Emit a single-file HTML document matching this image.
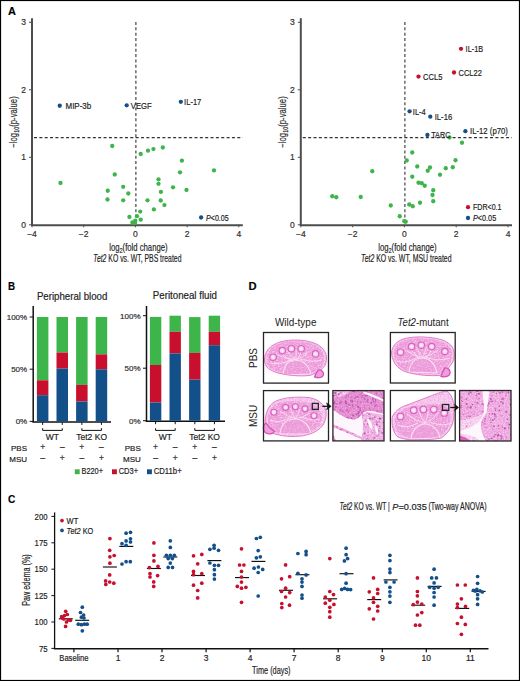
<!DOCTYPE html>
<html><head><meta charset="utf-8"><style>
html,body{margin:0;padding:0;background:#fff;}
body{width:520px;height:681px;overflow:hidden;}
svg{display:block;font-family:"Liberation Sans",sans-serif;}
text{stroke:#222;stroke-width:0.18px;}
</style></head><body>
<svg width="520" height="681" viewBox="0 0 520 681">
<rect width="520" height="681" fill="#fff"/>
<rect x="0.55" y="0.55" width="518.9" height="679.9" fill="none" stroke="#000" stroke-width="1.1"/>
<text x="8.00" y="14.90" font-size="11" text-anchor="start" font-weight="bold" font-style="normal" fill="#000" textLength="7.9" lengthAdjust="spacingAndGlyphs" >A</text>
<text x="8.10" y="289.60" font-size="11.5" text-anchor="start" font-weight="bold" font-style="normal" fill="#000" textLength="7.1" lengthAdjust="spacingAndGlyphs" >B</text>
<text x="248.60" y="290.20" font-size="11" text-anchor="start" font-weight="bold" font-style="normal" fill="#000" textLength="8.1" lengthAdjust="spacingAndGlyphs" >D</text>
<text x="8.10" y="502.60" font-size="11.5" text-anchor="start" font-weight="bold" font-style="normal" fill="#000" textLength="7.3" lengthAdjust="spacingAndGlyphs" >C</text>
<line x1="32.00" y1="18.20" x2="32.00" y2="225.60" stroke="#4d4d4d" stroke-width="2" />
<line x1="31.00" y1="225.15" x2="242.80" y2="225.15" stroke="#4d4d4d" stroke-width="2" />
<line x1="29.00" y1="224.80" x2="32.00" y2="224.80" stroke="#4d4d4d" stroke-width="1" />
<text x="26.00" y="227.86" font-size="8.5" text-anchor="end" font-weight="normal" font-style="normal" fill="#333" >0</text>
<line x1="29.00" y1="157.30" x2="32.00" y2="157.30" stroke="#4d4d4d" stroke-width="1" />
<text x="26.00" y="160.36" font-size="8.5" text-anchor="end" font-weight="normal" font-style="normal" fill="#333" >1</text>
<line x1="29.00" y1="89.80" x2="32.00" y2="89.80" stroke="#4d4d4d" stroke-width="1" />
<text x="26.00" y="92.86" font-size="8.5" text-anchor="end" font-weight="normal" font-style="normal" fill="#333" >2</text>
<line x1="29.00" y1="22.30" x2="32.00" y2="22.30" stroke="#4d4d4d" stroke-width="1" />
<text x="26.00" y="25.36" font-size="8.5" text-anchor="end" font-weight="normal" font-style="normal" fill="#333" >3</text>
<line x1="32.00" y1="224.80" x2="32.00" y2="227.30" stroke="#4d4d4d" stroke-width="1" />
<text x="32.00" y="237.46" font-size="8.5" text-anchor="middle" font-weight="normal" font-style="normal" fill="#333" >−4</text>
<line x1="83.70" y1="224.80" x2="83.70" y2="227.30" stroke="#4d4d4d" stroke-width="1" />
<text x="83.70" y="237.46" font-size="8.5" text-anchor="middle" font-weight="normal" font-style="normal" fill="#333" >−2</text>
<line x1="135.40" y1="224.80" x2="135.40" y2="227.30" stroke="#4d4d4d" stroke-width="1" />
<text x="135.40" y="237.46" font-size="8.5" text-anchor="middle" font-weight="normal" font-style="normal" fill="#333" >0</text>
<line x1="187.10" y1="224.80" x2="187.10" y2="227.30" stroke="#4d4d4d" stroke-width="1" />
<text x="187.10" y="237.46" font-size="8.5" text-anchor="middle" font-weight="normal" font-style="normal" fill="#333" >2</text>
<line x1="238.80" y1="224.80" x2="238.80" y2="227.30" stroke="#4d4d4d" stroke-width="1" />
<text x="238.80" y="237.46" font-size="8.5" text-anchor="middle" font-weight="normal" font-style="normal" fill="#333" >4</text>
<line x1="135.90" y1="22.00" x2="135.90" y2="224.80" stroke="#333" stroke-width="1.1" stroke-dasharray="3,2.35"/>
<line x1="34.00" y1="137.58" x2="242.80" y2="137.58" stroke="#333" stroke-width="1.1" stroke-dasharray="3,2.35"/>
<circle cx="140.70" cy="154.00" r="2.15" fill="#3db54a"/>
<circle cx="148.00" cy="150.70" r="2.15" fill="#3db54a"/>
<circle cx="153.40" cy="149.10" r="2.15" fill="#3db54a"/>
<circle cx="162.80" cy="147.50" r="2.15" fill="#3db54a"/>
<circle cx="181.90" cy="160.70" r="2.15" fill="#3db54a"/>
<circle cx="180.00" cy="172.30" r="2.15" fill="#3db54a"/>
<circle cx="214.00" cy="170.40" r="2.15" fill="#3db54a"/>
<circle cx="158.50" cy="179.30" r="2.15" fill="#3db54a"/>
<circle cx="158.50" cy="183.80" r="2.15" fill="#3db54a"/>
<circle cx="173.00" cy="187.30" r="2.15" fill="#3db54a"/>
<circle cx="186.50" cy="190.00" r="2.15" fill="#3db54a"/>
<circle cx="123.20" cy="186.80" r="2.15" fill="#3db54a"/>
<circle cx="128.30" cy="193.50" r="2.15" fill="#3db54a"/>
<circle cx="123.20" cy="200.30" r="2.15" fill="#3db54a"/>
<circle cx="160.90" cy="191.90" r="2.15" fill="#3db54a"/>
<circle cx="147.50" cy="200.30" r="2.15" fill="#3db54a"/>
<circle cx="160.70" cy="200.50" r="2.15" fill="#3db54a"/>
<circle cx="164.40" cy="205.10" r="2.15" fill="#3db54a"/>
<circle cx="153.90" cy="209.40" r="2.15" fill="#3db54a"/>
<circle cx="140.20" cy="211.60" r="2.15" fill="#3db54a"/>
<circle cx="137.00" cy="216.20" r="2.15" fill="#3db54a"/>
<circle cx="129.40" cy="217.00" r="2.15" fill="#3db54a"/>
<circle cx="140.70" cy="219.70" r="2.15" fill="#3db54a"/>
<circle cx="132.40" cy="222.40" r="2.15" fill="#3db54a"/>
<circle cx="135.30" cy="220.70" r="2.15" fill="#3db54a"/>
<circle cx="134.80" cy="223.20" r="2.15" fill="#3db54a"/>
<circle cx="112.25" cy="146.00" r="2.15" fill="#3db54a"/>
<circle cx="114.75" cy="174.50" r="2.15" fill="#3db54a"/>
<circle cx="60.50" cy="183.00" r="2.15" fill="#3db54a"/>
<circle cx="107.75" cy="190.75" r="2.15" fill="#3db54a"/>
<circle cx="107.50" cy="199.50" r="2.15" fill="#3db54a"/>
<circle cx="59.75" cy="105.75" r="2.15" fill="#13508a"/>
<text x="65.50" y="108.99" font-size="9" text-anchor="start" font-weight="normal" font-style="normal" fill="#222" textLength="25.75" lengthAdjust="spacingAndGlyphs" >MIP-3b</text>
<circle cx="126.70" cy="105.30" r="2.15" fill="#13508a"/>
<text x="130.80" y="108.54" font-size="9" text-anchor="start" font-weight="normal" font-style="normal" fill="#222" textLength="21" lengthAdjust="spacingAndGlyphs" >VEGF</text>
<circle cx="180.80" cy="101.80" r="2.15" fill="#13508a"/>
<text x="184.10" y="105.04" font-size="9" text-anchor="start" font-weight="normal" font-style="normal" fill="#222" textLength="17.2" lengthAdjust="spacingAndGlyphs" >IL-17</text>
<text transform="translate(13.399999999999999,122) rotate(-90) scale(0.7765,1)" x="0" y="3.6" font-size="10" text-anchor="middle" fill="#333">−log<tspan font-size="7" dy="2">10</tspan><tspan dy="-2">(p-value)</tspan></text>
<text x="138.4" y="250.6" font-size="10.5" text-anchor="middle" fill="#222" textLength="58.4" lengthAdjust="spacingAndGlyphs">log<tspan font-size="7.5" dy="2">2</tspan><tspan dy="-2">(fold change)</tspan></text>
<text x="137.4" y="261.8" font-size="10.5" text-anchor="middle" fill="#222" textLength="88.1" lengthAdjust="spacingAndGlyphs"><tspan font-style="italic">Tet2</tspan> KO vs. WT, PBS treated</text>
<circle cx="201.10" cy="217.50" r="2.15" fill="#13508a"/>
<text x="206" y="220.6" font-size="8.5" fill="#222" textLength="22.7" lengthAdjust="spacingAndGlyphs"><tspan font-style="italic">P</tspan>&lt;0.05</text>
<line x1="300.80" y1="18.20" x2="300.80" y2="225.60" stroke="#4d4d4d" stroke-width="2" />
<line x1="299.80" y1="225.15" x2="512.00" y2="225.15" stroke="#4d4d4d" stroke-width="2" />
<line x1="297.80" y1="224.80" x2="300.80" y2="224.80" stroke="#4d4d4d" stroke-width="1" />
<text x="294.80" y="227.86" font-size="8.5" text-anchor="end" font-weight="normal" font-style="normal" fill="#333" >0</text>
<line x1="297.80" y1="157.30" x2="300.80" y2="157.30" stroke="#4d4d4d" stroke-width="1" />
<text x="294.80" y="160.36" font-size="8.5" text-anchor="end" font-weight="normal" font-style="normal" fill="#333" >1</text>
<line x1="297.80" y1="89.80" x2="300.80" y2="89.80" stroke="#4d4d4d" stroke-width="1" />
<text x="294.80" y="92.86" font-size="8.5" text-anchor="end" font-weight="normal" font-style="normal" fill="#333" >2</text>
<line x1="297.80" y1="22.30" x2="300.80" y2="22.30" stroke="#4d4d4d" stroke-width="1" />
<text x="294.80" y="25.36" font-size="8.5" text-anchor="end" font-weight="normal" font-style="normal" fill="#333" >3</text>
<line x1="300.80" y1="224.80" x2="300.80" y2="227.30" stroke="#4d4d4d" stroke-width="1" />
<text x="300.80" y="237.46" font-size="8.5" text-anchor="middle" font-weight="normal" font-style="normal" fill="#333" >−4</text>
<line x1="352.60" y1="224.80" x2="352.60" y2="227.30" stroke="#4d4d4d" stroke-width="1" />
<text x="352.60" y="237.46" font-size="8.5" text-anchor="middle" font-weight="normal" font-style="normal" fill="#333" >−2</text>
<line x1="404.40" y1="224.80" x2="404.40" y2="227.30" stroke="#4d4d4d" stroke-width="1" />
<text x="404.40" y="237.46" font-size="8.5" text-anchor="middle" font-weight="normal" font-style="normal" fill="#333" >0</text>
<line x1="456.20" y1="224.80" x2="456.20" y2="227.30" stroke="#4d4d4d" stroke-width="1" />
<text x="456.20" y="237.46" font-size="8.5" text-anchor="middle" font-weight="normal" font-style="normal" fill="#333" >2</text>
<line x1="508.00" y1="224.80" x2="508.00" y2="227.30" stroke="#4d4d4d" stroke-width="1" />
<text x="508.00" y="237.46" font-size="8.5" text-anchor="middle" font-weight="normal" font-style="normal" fill="#333" >4</text>
<line x1="404.90" y1="22.00" x2="404.90" y2="224.80" stroke="#333" stroke-width="1.1" stroke-dasharray="3,2.35"/>
<line x1="302.80" y1="137.58" x2="512.00" y2="137.58" stroke="#333" stroke-width="1.1" stroke-dasharray="3,2.35"/>
<circle cx="449.50" cy="137.50" r="2.15" fill="#3db54a"/>
<circle cx="462.00" cy="142.75" r="2.15" fill="#3db54a"/>
<circle cx="412.25" cy="152.50" r="2.15" fill="#3db54a"/>
<circle cx="406.75" cy="160.50" r="2.15" fill="#3db54a"/>
<circle cx="455.50" cy="160.25" r="2.15" fill="#3db54a"/>
<circle cx="417.25" cy="166.50" r="2.15" fill="#3db54a"/>
<circle cx="430.00" cy="167.50" r="2.15" fill="#3db54a"/>
<circle cx="427.75" cy="170.75" r="2.15" fill="#3db54a"/>
<circle cx="445.75" cy="168.25" r="2.15" fill="#3db54a"/>
<circle cx="452.75" cy="167.25" r="2.15" fill="#3db54a"/>
<circle cx="412.25" cy="176.75" r="2.15" fill="#3db54a"/>
<circle cx="440.00" cy="174.75" r="2.15" fill="#3db54a"/>
<circle cx="418.50" cy="182.75" r="2.15" fill="#3db54a"/>
<circle cx="421.75" cy="183.25" r="2.15" fill="#3db54a"/>
<circle cx="424.75" cy="185.75" r="2.15" fill="#3db54a"/>
<circle cx="433.25" cy="190.25" r="2.15" fill="#3db54a"/>
<circle cx="432.50" cy="195.00" r="2.15" fill="#3db54a"/>
<circle cx="433.25" cy="201.25" r="2.15" fill="#3db54a"/>
<circle cx="420.00" cy="202.75" r="2.15" fill="#3db54a"/>
<circle cx="409.25" cy="204.50" r="2.15" fill="#3db54a"/>
<circle cx="412.75" cy="206.25" r="2.15" fill="#3db54a"/>
<circle cx="390.75" cy="205.50" r="2.15" fill="#3db54a"/>
<circle cx="399.75" cy="216.25" r="2.15" fill="#3db54a"/>
<circle cx="404.25" cy="221.25" r="2.15" fill="#3db54a"/>
<circle cx="405.75" cy="221.75" r="2.15" fill="#3db54a"/>
<circle cx="332.25" cy="196.25" r="2.15" fill="#3db54a"/>
<circle cx="336.25" cy="197.25" r="2.15" fill="#3db54a"/>
<circle cx="360.75" cy="197.00" r="2.15" fill="#3db54a"/>
<circle cx="372.25" cy="171.25" r="2.15" fill="#3db54a"/>
<circle cx="461.00" cy="48.80" r="2.15" fill="#c8102e"/>
<text x="465.60" y="52.04" font-size="9" text-anchor="start" font-weight="normal" font-style="normal" fill="#222" textLength="17.5" lengthAdjust="spacingAndGlyphs" >IL-1B</text>
<circle cx="454.00" cy="72.50" r="2.15" fill="#c8102e"/>
<text x="458.60" y="75.74" font-size="9" text-anchor="start" font-weight="normal" font-style="normal" fill="#222" textLength="23.2" lengthAdjust="spacingAndGlyphs" >CCL22</text>
<circle cx="418.50" cy="76.60" r="2.15" fill="#c8102e"/>
<text x="423.10" y="79.84" font-size="9" text-anchor="start" font-weight="normal" font-style="normal" fill="#222" textLength="19.4" lengthAdjust="spacingAndGlyphs" >CCL5</text>
<circle cx="409.60" cy="111.30" r="2.15" fill="#13508a"/>
<text x="412.80" y="114.54" font-size="9" text-anchor="start" font-weight="normal" font-style="normal" fill="#222" textLength="13" lengthAdjust="spacingAndGlyphs" >IL-4</text>
<circle cx="430.30" cy="116.70" r="2.15" fill="#13508a"/>
<text x="434.70" y="119.94" font-size="9" text-anchor="start" font-weight="normal" font-style="normal" fill="#222" textLength="17.5" lengthAdjust="spacingAndGlyphs" >IL-16</text>
<circle cx="427.40" cy="135.00" r="2.15" fill="#13508a"/>
<text x="431.20" y="138.24" font-size="9" text-anchor="start" font-weight="normal" font-style="normal" fill="#222" textLength="19.4" lengthAdjust="spacingAndGlyphs" >TARC</text>
<circle cx="465.40" cy="131.20" r="2.15" fill="#13508a"/>
<text x="470.00" y="134.44" font-size="9" text-anchor="start" font-weight="normal" font-style="normal" fill="#222" textLength="37.9" lengthAdjust="spacingAndGlyphs" >IL-12 (p70)</text>
<text transform="translate(282.2,122) rotate(-90) scale(0.7765,1)" x="0" y="3.6" font-size="10" text-anchor="middle" fill="#333">−log<tspan font-size="7" dy="2">10</tspan><tspan dy="-2">(p-value)</tspan></text>
<text x="407.4" y="250.6" font-size="10.5" text-anchor="middle" fill="#222" textLength="58.4" lengthAdjust="spacingAndGlyphs">log<tspan font-size="7.5" dy="2">2</tspan><tspan dy="-2">(fold change)</tspan></text>
<text x="406.29999999999995" y="261.8" font-size="10.5" text-anchor="middle" fill="#222" textLength="90.4" lengthAdjust="spacingAndGlyphs"><tspan font-style="italic">Tet2</tspan> KO vs. WT, MSU treated</text>
<circle cx="468.00" cy="207.20" r="2.15" fill="#c8102e"/>
<text x="473.00" y="210.26" font-size="8.5" text-anchor="start" font-weight="normal" font-style="normal" fill="#222" textLength="28.5" lengthAdjust="spacingAndGlyphs" >FDR&lt;0.1</text>
<circle cx="468.00" cy="218.00" r="2.15" fill="#13508a"/>
<text x="473" y="221.1" font-size="8.5" fill="#222" textLength="23.2" lengthAdjust="spacingAndGlyphs"><tspan font-style="italic">P</tspan>&lt;0.05</text>
<text x="72.10" y="300.40" font-size="10" text-anchor="middle" font-weight="normal" font-style="normal" fill="#222" textLength="70.4" lengthAdjust="spacingAndGlyphs" >Peripheral blood</text>
<line x1="33.20" y1="306.00" x2="33.20" y2="422.20" stroke="#111" stroke-width="1.5" />
<line x1="32.50" y1="421.90" x2="111.00" y2="421.90" stroke="#111" stroke-width="1.5" />
<line x1="29.70" y1="317.00" x2="33.20" y2="317.00" stroke="#111" stroke-width="1" />
<text x="27.20" y="319.88" font-size="8" text-anchor="end" font-weight="normal" font-style="normal" fill="#333" >100%</text>
<line x1="29.70" y1="369.20" x2="33.20" y2="369.20" stroke="#111" stroke-width="1" />
<text x="27.20" y="372.08" font-size="8" text-anchor="end" font-weight="normal" font-style="normal" fill="#333" >50%</text>
<line x1="29.70" y1="421.40" x2="33.20" y2="421.40" stroke="#111" stroke-width="1" />
<text x="27.20" y="424.28" font-size="8" text-anchor="end" font-weight="normal" font-style="normal" fill="#333" >0%</text>
<rect x="36.90" y="317.00" width="11.5" height="63.30" fill="#3db54a"/>
<rect x="36.90" y="380.30" width="11.5" height="14.90" fill="#c8102e"/>
<rect x="36.90" y="395.20" width="11.5" height="26.20" fill="#13508a"/>
<line x1="42.65" y1="422.40" x2="42.65" y2="424.90" stroke="#111" stroke-width="1" />
<text x="42.65" y="449.76" font-size="8.5" text-anchor="middle" font-weight="normal" font-style="normal" fill="#333" >+</text>
<text x="42.65" y="461.46" font-size="8.5" text-anchor="middle" font-weight="normal" font-style="normal" fill="#333" >–</text>
<rect x="56.50" y="317.00" width="11.5" height="35.50" fill="#3db54a"/>
<rect x="56.50" y="352.50" width="11.5" height="16.10" fill="#c8102e"/>
<rect x="56.50" y="368.60" width="11.5" height="52.80" fill="#13508a"/>
<line x1="62.25" y1="422.40" x2="62.25" y2="424.90" stroke="#111" stroke-width="1" />
<text x="62.25" y="449.76" font-size="8.5" text-anchor="middle" font-weight="normal" font-style="normal" fill="#333" >–</text>
<text x="62.25" y="461.46" font-size="8.5" text-anchor="middle" font-weight="normal" font-style="normal" fill="#333" >+</text>
<rect x="76.10" y="317.00" width="11.5" height="67.90" fill="#3db54a"/>
<rect x="76.10" y="384.90" width="11.5" height="16.60" fill="#c8102e"/>
<rect x="76.10" y="401.50" width="11.5" height="19.90" fill="#13508a"/>
<line x1="81.85" y1="422.40" x2="81.85" y2="424.90" stroke="#111" stroke-width="1" />
<text x="81.85" y="449.76" font-size="8.5" text-anchor="middle" font-weight="normal" font-style="normal" fill="#333" >+</text>
<text x="81.85" y="461.46" font-size="8.5" text-anchor="middle" font-weight="normal" font-style="normal" fill="#333" >–</text>
<rect x="95.70" y="317.00" width="11.5" height="37.40" fill="#3db54a"/>
<rect x="95.70" y="354.40" width="11.5" height="14.90" fill="#c8102e"/>
<rect x="95.70" y="369.30" width="11.5" height="52.10" fill="#13508a"/>
<line x1="101.45" y1="422.40" x2="101.45" y2="424.90" stroke="#111" stroke-width="1" />
<text x="101.45" y="449.76" font-size="8.5" text-anchor="middle" font-weight="normal" font-style="normal" fill="#333" >–</text>
<text x="101.45" y="461.46" font-size="8.5" text-anchor="middle" font-weight="normal" font-style="normal" fill="#333" >+</text>
<path d="M42.65,428.2 V430.4 H62.25 V428.2" fill="none" stroke="#111" stroke-width="1"/>
<text x="52.45" y="440.36" font-size="8.5" text-anchor="middle" font-weight="normal" font-style="normal" fill="#222" >WT</text>
<path d="M81.85,428.2 V430.4 H101.45 V428.2" fill="none" stroke="#111" stroke-width="1"/>
<text x="91.65" y="440.36" font-size="8.5" text-anchor="middle" font-weight="normal" font-style="normal" fill="#222" >Tet2 KO</text>
<text x="27.00" y="451.18" font-size="8" text-anchor="end" font-weight="normal" font-style="normal" fill="#222" >PBS</text>
<text x="27.00" y="462.08" font-size="8" text-anchor="end" font-weight="normal" font-style="normal" fill="#222" >MSU</text>
<text x="184.90" y="299.30" font-size="10" text-anchor="middle" font-weight="normal" font-style="normal" fill="#222" textLength="64.2" lengthAdjust="spacingAndGlyphs" >Peritoneal fluid</text>
<line x1="146.50" y1="306.00" x2="146.50" y2="421.50" stroke="#111" stroke-width="1.5" />
<line x1="145.80" y1="421.20" x2="225.00" y2="421.20" stroke="#111" stroke-width="1.5" />
<line x1="143.00" y1="315.70" x2="146.50" y2="315.70" stroke="#111" stroke-width="1" />
<text x="140.50" y="318.58" font-size="8" text-anchor="end" font-weight="normal" font-style="normal" fill="#333" >100%</text>
<line x1="143.00" y1="368.20" x2="146.50" y2="368.20" stroke="#111" stroke-width="1" />
<text x="140.50" y="371.08" font-size="8" text-anchor="end" font-weight="normal" font-style="normal" fill="#333" >50%</text>
<line x1="143.00" y1="420.70" x2="146.50" y2="420.70" stroke="#111" stroke-width="1" />
<text x="140.50" y="423.58" font-size="8" text-anchor="end" font-weight="normal" font-style="normal" fill="#333" >0%</text>
<rect x="149.90" y="316.90" width="11.4" height="48.10" fill="#3db54a"/>
<rect x="149.90" y="365.00" width="11.4" height="37.50" fill="#c8102e"/>
<rect x="149.90" y="402.50" width="11.4" height="18.20" fill="#13508a"/>
<line x1="155.60" y1="421.70" x2="155.60" y2="424.20" stroke="#111" stroke-width="1" />
<text x="155.60" y="449.76" font-size="8.5" text-anchor="middle" font-weight="normal" font-style="normal" fill="#333" >+</text>
<text x="155.60" y="461.46" font-size="8.5" text-anchor="middle" font-weight="normal" font-style="normal" fill="#333" >–</text>
<rect x="169.50" y="315.70" width="11.4" height="16.10" fill="#3db54a"/>
<rect x="169.50" y="331.80" width="11.4" height="21.60" fill="#c8102e"/>
<rect x="169.50" y="353.40" width="11.4" height="67.30" fill="#13508a"/>
<line x1="175.20" y1="421.70" x2="175.20" y2="424.20" stroke="#111" stroke-width="1" />
<text x="175.20" y="449.76" font-size="8.5" text-anchor="middle" font-weight="normal" font-style="normal" fill="#333" >–</text>
<text x="175.20" y="461.46" font-size="8.5" text-anchor="middle" font-weight="normal" font-style="normal" fill="#333" >+</text>
<rect x="189.10" y="317.10" width="11.4" height="35.80" fill="#3db54a"/>
<rect x="189.10" y="352.90" width="11.4" height="26.70" fill="#c8102e"/>
<rect x="189.10" y="379.60" width="11.4" height="41.10" fill="#13508a"/>
<line x1="194.80" y1="421.70" x2="194.80" y2="424.20" stroke="#111" stroke-width="1" />
<text x="194.80" y="449.76" font-size="8.5" text-anchor="middle" font-weight="normal" font-style="normal" fill="#333" >+</text>
<text x="194.80" y="461.46" font-size="8.5" text-anchor="middle" font-weight="normal" font-style="normal" fill="#333" >–</text>
<rect x="208.70" y="315.70" width="11.4" height="16.10" fill="#3db54a"/>
<rect x="208.70" y="331.80" width="11.4" height="13.40" fill="#c8102e"/>
<rect x="208.70" y="345.20" width="11.4" height="75.50" fill="#13508a"/>
<line x1="214.40" y1="421.70" x2="214.40" y2="424.20" stroke="#111" stroke-width="1" />
<text x="214.40" y="449.76" font-size="8.5" text-anchor="middle" font-weight="normal" font-style="normal" fill="#333" >–</text>
<text x="214.40" y="461.46" font-size="8.5" text-anchor="middle" font-weight="normal" font-style="normal" fill="#333" >+</text>
<path d="M155.60,428.2 V430.4 H175.20 V428.2" fill="none" stroke="#111" stroke-width="1"/>
<text x="165.40" y="440.36" font-size="8.5" text-anchor="middle" font-weight="normal" font-style="normal" fill="#222" >WT</text>
<path d="M194.80,428.2 V430.4 H214.40 V428.2" fill="none" stroke="#111" stroke-width="1"/>
<text x="204.60" y="440.36" font-size="8.5" text-anchor="middle" font-weight="normal" font-style="normal" fill="#222" >Tet2 KO</text>
<text x="140.80" y="451.18" font-size="8" text-anchor="end" font-weight="normal" font-style="normal" fill="#222" >PBS</text>
<text x="140.80" y="462.08" font-size="8" text-anchor="end" font-weight="normal" font-style="normal" fill="#222" >MSU</text>
<rect x="74.8" y="469.3" width="4.9" height="4.9" fill="#3db54a"/>
<text x="81.50" y="474.16" font-size="8.5" text-anchor="start" font-weight="normal" font-style="normal" fill="#222" textLength="21.5" lengthAdjust="spacingAndGlyphs" >B220+</text>
<rect x="112" y="469.3" width="4.9" height="4.9" fill="#c8102e"/>
<text x="118.70" y="474.16" font-size="8.5" text-anchor="start" font-weight="normal" font-style="normal" fill="#222" textLength="19.3" lengthAdjust="spacingAndGlyphs" >CD3+</text>
<rect x="147" y="469.3" width="4.9" height="4.9" fill="#13508a"/>
<text x="153.70" y="474.16" font-size="8.5" text-anchor="start" font-weight="normal" font-style="normal" fill="#222" textLength="28" lengthAdjust="spacingAndGlyphs" >CD11b+</text>
<text x="295.70" y="326.10" font-size="10" text-anchor="middle" font-weight="normal" font-style="normal" fill="#222" textLength="41.5" lengthAdjust="spacingAndGlyphs" style="stroke:none">Wild-type</text>
<text x="423.1" y="326.1" font-size="10" text-anchor="middle" fill="#222" style="stroke:none" textLength="51" lengthAdjust="spacingAndGlyphs"><tspan font-style="italic">Tet2</tspan>-mutant</text>
<text transform="translate(256.6,358) rotate(-90)" x="0" y="0" style="stroke:none" font-size="10" text-anchor="middle" fill="#222">PBS</text>
<text transform="translate(256.6,416) rotate(-90)" x="0" y="0" style="stroke:none" font-size="10" text-anchor="middle" fill="#222">MSU</text>
<defs>
<filter id="noise" x="0" y="0" width="100%" height="100%">
<feTurbulence type="fractalNoise" baseFrequency="0.55 0.8" numOctaves="2" seed="4" result="n"/>
<feColorMatrix in="n" type="matrix" values="0 0 0 0 1  0 0 0 0 0.93  0 0 0 0 0.98  0 0 0 -7 3.6" />
</filter>
<filter id="noise2" x="0" y="0" width="100%" height="100%">
<feTurbulence type="fractalNoise" baseFrequency="0.7" numOctaves="2" seed="9" result="n"/>
<feColorMatrix in="n" type="matrix" values="0 0 0 0 0.78  0 0 0 0 0.22  0 0 0 0 0.62  0 0 0 7 -3.4" />
</filter>
</defs>
<clipPath id="tc1"><path d="M264.6,361 C264,352 270,345 280,342 C290,339 305,339.5 314,343 C322,346 327,352 326.5,359 C326,364 325,367 321,369.5 C318,372 313,375 309,375.5 C300,376.5 285,375.5 275,372 C268,369.5 265,366 264.6,361 Z"/></clipPath>
<path d="M264.6,361 C264,352 270,345 280,342 C290,339 305,339.5 314,343 C322,346 327,352 326.5,359 C326,364 325,367 321,369.5 C318,372 313,375 309,375.5 C300,376.5 285,375.5 275,372 C268,369.5 265,366 264.6,361 Z" fill="#f5c6ec"/>
<g clip-path="url(#tc1)">
<path d="M264.6,361 C264,352 270,345 280,342 C290,339 305,339.5 314,343 C322,346 327,352 326.5,359 C326,364 325,367 321,369.5 C318,372 313,375 309,375.5 C300,376.5 285,375.5 275,372 C268,369.5 265,366 264.6,361 Z" fill="#ee9fdc" transform="translate(295.5,358.5) scale(0.93) translate(-295.5,-358.5)"/>
<rect x="250" y="320" width="270" height="130" filter="url(#noise)" opacity="0.38"/>
<rect x="250" y="320" width="270" height="130" filter="url(#noise2)" opacity="0.3"/>
<path d="M283,375 C284,366 288,360 295,360 C302,360 308,364 311,374 Z" fill="#eb9bd8" fill-opacity="0.35" stroke="#fbe2f5" stroke-width="1.1"/>
<path d="M295.9,359.5 Q286.8,359.4 277.7,354.9" fill="none" stroke="#fbe4f6" stroke-width="0.8"/>
<path d="M295.9,359.5 Q291.4,357.3 286.9,350.6" fill="none" stroke="#fbe4f6" stroke-width="0.8"/>
<path d="M295.9,359.5 Q296.1,356.9 296.3,349.7" fill="none" stroke="#fbe4f6" stroke-width="0.8"/>
<path d="M295.9,359.5 Q302.1,358.1 308.4,352.3" fill="none" stroke="#fbe4f6" stroke-width="0.8"/>
<path d="M270,363 C280,365 286,362 292,359" fill="none" stroke="#fbe2f5" stroke-width="0.9"/>
<path d="M300,359 C308,361 314,362 322,360" fill="none" stroke="#fbe2f5" stroke-width="0.9"/>
<path d="M282,353 C286,358 290,360 293,362" fill="none" stroke="#fbe2f5" stroke-width="0.9"/>
<path d="M301,351 C300,356 298,359 296,361" fill="none" stroke="#fbe2f5" stroke-width="0.9"/>
<circle cx="273.1" cy="357.2" r="3.2" fill="#f7d0ef" stroke="#dc62c2" stroke-width="1.15"/>
<circle cx="273.1" cy="357.2" r="1.28" fill="#fdf0fa"/>
<circle cx="282.3" cy="350.6" r="3.2" fill="#f7d0ef" stroke="#dc62c2" stroke-width="1.15"/>
<circle cx="282.3" cy="350.6" r="1.28" fill="#fdf0fa"/>
<circle cx="291.4" cy="348.7" r="3.2" fill="#f7d0ef" stroke="#dc62c2" stroke-width="1.15"/>
<circle cx="291.4" cy="348.7" r="1.28" fill="#fdf0fa"/>
<circle cx="301.2" cy="348.7" r="3.2" fill="#f7d0ef" stroke="#dc62c2" stroke-width="1.15"/>
<circle cx="301.2" cy="348.7" r="1.28" fill="#fdf0fa"/>
<circle cx="315.6" cy="353.9" r="3.2" fill="#f7d0ef" stroke="#dc62c2" stroke-width="1.15"/>
<circle cx="315.6" cy="353.9" r="1.28" fill="#fdf0fa"/>
</g>
<path d="M264.6,361 C264,352 270,345 280,342 C290,339 305,339.5 314,343 C322,346 327,352 326.5,359 C326,364 325,367 321,369.5 C318,372 313,375 309,375.5 C300,376.5 285,375.5 275,372 C268,369.5 265,366 264.6,361 Z" fill="none" stroke="#e47ccc" stroke-width="1"/>
<path d="M318.5,370 C321.5,369.5 324,372 323.3,375.2 C322.5,377.8 318,378.3 314.5,376.8 C315.5,374.5 316.8,371.5 318.5,370 Z" fill="#ef9fdc" stroke="#d94fb9" stroke-width="1.3"/>
<rect x="263.50" y="332.50" width="65.00" height="50.60" fill="none" stroke="#262626" stroke-width="1.3"/>
<clipPath id="tc2"><path d="M391.5,353.5 C392,346 396,341 405,338.5 C415,336 430,336.5 441.4,339.7 C449,342 454,347 454,353 C454.5,358 453.5,362 450,366 C447,370 444,374 439,375.5 C430,376 420,375.5 410,373 C400,371 393,365 391.5,353.5 Z"/></clipPath>
<path d="M391.5,353.5 C392,346 396,341 405,338.5 C415,336 430,336.5 441.4,339.7 C449,342 454,347 454,353 C454.5,358 453.5,362 450,366 C447,370 444,374 439,375.5 C430,376 420,375.5 410,373 C400,371 393,365 391.5,353.5 Z" fill="#f5c6ec"/>
<g clip-path="url(#tc2)">
<path d="M391.5,353.5 C392,346 396,341 405,338.5 C415,336 430,336.5 441.4,339.7 C449,342 454,347 454,353 C454.5,358 453.5,362 450,366 C447,370 444,374 439,375.5 C430,376 420,375.5 410,373 C400,371 393,365 391.5,353.5 Z" fill="#ee9fdc" transform="translate(422.5,356.5) scale(0.93) translate(-422.5,-356.5)"/>
<rect x="250" y="320" width="270" height="130" filter="url(#noise)" opacity="0.38"/>
<rect x="250" y="320" width="270" height="130" filter="url(#noise2)" opacity="0.3"/>
<path d="M409,372 C410,363 415,358 422,358 C429,358 435,363 437,373 Z" fill="#eb9bd8" fill-opacity="0.35" stroke="#fbe2f5" stroke-width="1.1"/>
<path d="M422.4,357.5 Q414.2,356.2 406.1,350.4" fill="none" stroke="#fbe4f6" stroke-width="0.8"/>
<path d="M422.4,357.5 Q419.4,354.4 416.5,346.9" fill="none" stroke="#fbe4f6" stroke-width="0.8"/>
<path d="M422.4,357.5 Q424.5,354.4 426.5,346.9" fill="none" stroke="#fbe4f6" stroke-width="0.8"/>
<path d="M422.4,357.5 Q430.4,356.0 438.3,350.1" fill="none" stroke="#fbe4f6" stroke-width="0.8"/>
<path d="M397,361 C405,364 412,360 418,357" fill="none" stroke="#fbe2f5" stroke-width="0.9"/>
<path d="M426,357 C434,360 440,361 450,358" fill="none" stroke="#fbe2f5" stroke-width="0.9"/>
<path d="M411,350 C415,354 418,357 421,359" fill="none" stroke="#fbe2f5" stroke-width="0.9"/>
<path d="M431,350 C430,354 427,357 424,359" fill="none" stroke="#fbe2f5" stroke-width="0.9"/>
<circle cx="400.5" cy="352.2" r="3.2" fill="#f7d0ef" stroke="#dc62c2" stroke-width="1.15"/>
<circle cx="400.5" cy="352.2" r="1.28" fill="#fdf0fa"/>
<circle cx="411.6" cy="346.6" r="3.2" fill="#f7d0ef" stroke="#dc62c2" stroke-width="1.15"/>
<circle cx="411.6" cy="346.6" r="1.28" fill="#fdf0fa"/>
<circle cx="421.3" cy="345.2" r="3.2" fill="#f7d0ef" stroke="#dc62c2" stroke-width="1.15"/>
<circle cx="421.3" cy="345.2" r="1.28" fill="#fdf0fa"/>
<circle cx="431.7" cy="346.6" r="3.2" fill="#f7d0ef" stroke="#dc62c2" stroke-width="1.15"/>
<circle cx="431.7" cy="346.6" r="1.28" fill="#fdf0fa"/>
<circle cx="444.9" cy="351.5" r="3.2" fill="#f7d0ef" stroke="#dc62c2" stroke-width="1.15"/>
<circle cx="444.9" cy="351.5" r="1.28" fill="#fdf0fa"/>
</g>
<path d="M391.5,353.5 C392,346 396,341 405,338.5 C415,336 430,336.5 441.4,339.7 C449,342 454,347 454,353 C454.5,358 453.5,362 450,366 C447,370 444,374 439,375.5 C430,376 420,375.5 410,373 C400,371 393,365 391.5,353.5 Z" fill="none" stroke="#e47ccc" stroke-width="1"/>
<path d="M445,368 C448,367.5 450.5,370 450,373.5 C449.5,376.5 445,377.5 441,376.3 C442,373.5 443.2,370 445,368 Z" fill="#ef9fdc" stroke="#d94fb9" stroke-width="1.3"/>
<rect x="390.40" y="332.50" width="64.80" height="50.50" fill="none" stroke="#262626" stroke-width="1.3"/>
<clipPath id="tc3"><path d="M265,422 C265.5,413 268,405 276,401 C284,397.5 296,396.5 308,397.5 C316,398.5 322,402 325.5,408.8 C327,414 326,419 323.7,424 C320,430 312,434.5 301.6,436 C292,437 283,436.5 275,434 C270,432 266.5,428 265,422 Z"/></clipPath>
<path d="M265,422 C265.5,413 268,405 276,401 C284,397.5 296,396.5 308,397.5 C316,398.5 322,402 325.5,408.8 C327,414 326,419 323.7,424 C320,430 312,434.5 301.6,436 C292,437 283,436.5 275,434 C270,432 266.5,428 265,422 Z" fill="#f5c6ec"/>
<g clip-path="url(#tc3)">
<path d="M267.5,419 C268,411 272,405 280,402.5 C290,400 302,400.5 310,403.5 C317,406 321,411 322,417 C322.5,423 318,429 308,433 C298,435.5 286,435.5 277,432.5 C271,430 267.5,425 267.5,419 Z" fill="#ee9fdc" />
<rect x="250" y="320" width="270" height="130" filter="url(#noise)" opacity="0.38"/>
<rect x="250" y="320" width="270" height="130" filter="url(#noise2)" opacity="0.3"/>
<path d="M280,434 C281,424 287,419 295,419 C303,419 309,425 311,434 Z" fill="#eb9bd8" fill-opacity="0.35" stroke="#fbe2f5" stroke-width="1.1"/>
<path d="M295.1,418.5 Q287.4,416.9 279.8,410.8" fill="none" stroke="#fbe4f6" stroke-width="0.8"/>
<path d="M295.1,418.5 Q292.8,415.5 290.5,408.0" fill="none" stroke="#fbe4f6" stroke-width="0.8"/>
<path d="M295.1,418.5 Q297.6,415.9 300.1,408.8" fill="none" stroke="#fbe4f6" stroke-width="0.8"/>
<path d="M295.1,418.5 Q302.3,418.1 309.5,413.2" fill="none" stroke="#fbe4f6" stroke-width="0.8"/>
<path d="M270,420 C278,423 284,421 292,417" fill="none" stroke="#fbe2f5" stroke-width="0.9"/>
<path d="M302,417 C308,420 314,421 320,419" fill="none" stroke="#fbe2f5" stroke-width="0.9"/>
<circle cx="273.9" cy="412.2" r="3.0" fill="#f7d0ef" stroke="#dc62c2" stroke-width="1.15"/>
<circle cx="273.9" cy="412.2" r="1.20" fill="#fdf0fa"/>
<circle cx="285.6" cy="407.4" r="3.0" fill="#f7d0ef" stroke="#dc62c2" stroke-width="1.15"/>
<circle cx="285.6" cy="407.4" r="1.20" fill="#fdf0fa"/>
<circle cx="295.3" cy="406.7" r="3.0" fill="#f7d0ef" stroke="#dc62c2" stroke-width="1.15"/>
<circle cx="295.3" cy="406.7" r="1.20" fill="#fdf0fa"/>
<circle cx="305" cy="408.8" r="3.0" fill="#f7d0ef" stroke="#dc62c2" stroke-width="1.15"/>
<circle cx="305" cy="408.8" r="1.20" fill="#fdf0fa"/>
<circle cx="314" cy="415.7" r="3.0" fill="#f7d0ef" stroke="#dc62c2" stroke-width="1.15"/>
<circle cx="314" cy="415.7" r="1.20" fill="#fdf0fa"/>
</g>
<path d="M265,422 C265.5,413 268,405 276,401 C284,397.5 296,396.5 308,397.5 C316,398.5 322,402 325.5,408.8 C327,414 326,419 323.7,424 C320,430 312,434.5 301.6,436 C292,437 283,436.5 275,434 C270,432 266.5,428 265,422 Z" fill="none" stroke="#e47ccc" stroke-width="1"/>
<path d="M266,423 C262.5,425 262.5,431 266,433 C269,434.5 273,434 274.5,431.5 C271,429.5 268,426.5 266,423 Z" fill="#ef9fdc" stroke="#d94fb9" stroke-width="1.3"/>
<rect x="263.50" y="390.60" width="65.00" height="50.30" fill="none" stroke="#262626" stroke-width="1.3"/>
<clipPath id="tc4"><path d="M392.2,417.1 C394,412 400,407 408.2,404.6 C418,401 425,398 431.7,395.6 C438,393 444,391 447,391 C451,394 454,400 454,408.8 C454,415 453.5,420 452.5,424 C450,430 446,435 441.4,437.9 C432,440 425,439.5 420.6,439.5 C412,440 405,440 398,437 C393,433 391.5,425 392.2,417.1 Z"/></clipPath>
<path d="M392.2,417.1 C394,412 400,407 408.2,404.6 C418,401 425,398 431.7,395.6 C438,393 444,391 447,391 C451,394 454,400 454,408.8 C454,415 453.5,420 452.5,424 C450,430 446,435 441.4,437.9 C432,440 425,439.5 420.6,439.5 C412,440 405,440 398,437 C393,433 391.5,425 392.2,417.1 Z" fill="#f5c6ec"/>
<g clip-path="url(#tc4)">
<path d="M395,420 C396,414 402,409 410,407 C420,404.5 432,403.5 442,405 C449,407 451,413 450.5,420 C450,427 446,433 439,436 C430,438.5 418,439 406,437 C398,435 394.5,428 395,420 Z" fill="#ee9fdc" />
<rect x="250" y="320" width="270" height="130" filter="url(#noise)" opacity="0.38"/>
<rect x="250" y="320" width="270" height="130" filter="url(#noise2)" opacity="0.3"/>
<path d="M411,439 C412,430 418,424 425,424 C432,424 438,429 440,438 Z" fill="#eb9bd8" fill-opacity="0.35" stroke="#fbe2f5" stroke-width="1.1"/>
<path d="M425.1,423.5 Q416.1,421.1 407.1,414.3" fill="none" stroke="#fbe4f6" stroke-width="0.8"/>
<path d="M425.1,423.5 Q421.8,419.4 418.5,410.9" fill="none" stroke="#fbe4f6" stroke-width="0.8"/>
<path d="M425.1,423.5 Q426.9,419.2 428.6,410.5" fill="none" stroke="#fbe4f6" stroke-width="0.8"/>
<path d="M425.1,423.5 Q432.1,420.1 439.0,412.2" fill="none" stroke="#fbe4f6" stroke-width="0.8"/>
<path d="M398,425 C406,428 412,426 418,423" fill="none" stroke="#fbe2f5" stroke-width="0.9"/>
<path d="M430,422 C438,425 444,426 452,423" fill="none" stroke="#fbe2f5" stroke-width="0.9"/>
<circle cx="400.5" cy="416.4" r="3.3" fill="#f7d0ef" stroke="#dc62c2" stroke-width="1.15"/>
<circle cx="400.5" cy="416.4" r="1.32" fill="#fdf0fa"/>
<circle cx="413.7" cy="410.2" r="3.3" fill="#f7d0ef" stroke="#dc62c2" stroke-width="1.15"/>
<circle cx="413.7" cy="410.2" r="1.32" fill="#fdf0fa"/>
<circle cx="423.4" cy="409.5" r="3.3" fill="#f7d0ef" stroke="#dc62c2" stroke-width="1.15"/>
<circle cx="423.4" cy="409.5" r="1.32" fill="#fdf0fa"/>
<circle cx="433.8" cy="409.5" r="3.3" fill="#f7d0ef" stroke="#dc62c2" stroke-width="1.15"/>
<circle cx="433.8" cy="409.5" r="1.32" fill="#fdf0fa"/>
<circle cx="444.2" cy="412.9" r="3.3" fill="#f7d0ef" stroke="#dc62c2" stroke-width="1.15"/>
<circle cx="444.2" cy="412.9" r="1.32" fill="#fdf0fa"/>
</g>
<path d="M392.2,417.1 C394,412 400,407 408.2,404.6 C418,401 425,398 431.7,395.6 C438,393 444,391 447,391 C451,394 454,400 454,408.8 C454,415 453.5,420 452.5,424 C450,430 446,435 441.4,437.9 C432,440 425,439.5 420.6,439.5 C412,440 405,440 398,437 C393,433 391.5,425 392.2,417.1 Z" fill="none" stroke="#e47ccc" stroke-width="1"/>
<rect x="390.40" y="390.50" width="64.80" height="50.40" fill="none" stroke="#262626" stroke-width="1.3"/>
<clipPath id="zc1"><rect x="332.90" y="390.60" width="51.10" height="50.30"/></clipPath>
<g clip-path="url(#zc1)">
<rect x="332.90" y="390.60" width="51.10" height="50.30" fill="#fdf6fc"/>
<clipPath id="zt1_0"><path d="M332,390 L385,390 L385,414 C380,413 377,412 372,411 C368,410.5 365,411 363,413 C360,417 357,419.5 353,419.5 C346,419 338,414 332,408 Z"/></clipPath>
<path d="M332,390 L385,390 L385,414 C380,413 377,412 372,411 C368,410.5 365,411 363,413 C360,417 357,419.5 353,419.5 C346,419 338,414 332,408 Z" fill="#e58dd3"/>
<g clip-path="url(#zt1_0)">
<rect x="332.9" y="390.6" width="51.10000000000002" height="50.299999999999955" filter="url(#noise)" opacity="0.26"/>
<rect x="332.9" y="390.6" width="51.10000000000002" height="50.299999999999955" filter="url(#noise2)" opacity="0.50"/>
<circle cx="339.77" cy="433.23" r="0.60" fill="#c75cb5" opacity="0.85"/>
<circle cx="358.22" cy="413.21" r="0.92" fill="#a94a9c" opacity="0.85"/>
<circle cx="337.70" cy="392.03" r="0.71" fill="#a94a9c" opacity="0.85"/>
<circle cx="371.85" cy="390.71" r="0.61" fill="#a94a9c" opacity="0.85"/>
<circle cx="373.87" cy="420.34" r="0.99" fill="#c75cb5" opacity="0.85"/>
<circle cx="334.46" cy="391.88" r="1.01" fill="#c75cb5" opacity="0.85"/>
<circle cx="352.38" cy="401.49" r="0.89" fill="#a94a9c" opacity="0.85"/>
<circle cx="359.86" cy="429.01" r="0.78" fill="#a94a9c" opacity="0.85"/>
<circle cx="350.57" cy="424.65" r="1.02" fill="#a94a9c" opacity="0.85"/>
<circle cx="380.24" cy="411.53" r="0.56" fill="#c75cb5" opacity="0.85"/>
<circle cx="383.62" cy="433.86" r="0.90" fill="#c75cb5" opacity="0.85"/>
<circle cx="378.66" cy="439.55" r="0.75" fill="#a94a9c" opacity="0.85"/>
<circle cx="379.41" cy="400.15" r="0.80" fill="#d674c4" opacity="0.85"/>
<circle cx="377.99" cy="433.16" r="0.80" fill="#a94a9c" opacity="0.85"/>
<circle cx="334.66" cy="402.81" r="0.70" fill="#a94a9c" opacity="0.85"/>
<circle cx="341.74" cy="418.20" r="0.50" fill="#d674c4" opacity="0.85"/>
<circle cx="366.82" cy="396.03" r="0.76" fill="#b74aa6" opacity="0.85"/>
<circle cx="353.00" cy="415.23" r="0.73" fill="#c75cb5" opacity="0.85"/>
<circle cx="348.67" cy="433.27" r="0.84" fill="#a94a9c" opacity="0.85"/>
<circle cx="341.52" cy="402.01" r="0.91" fill="#c75cb5" opacity="0.85"/>
<circle cx="360.47" cy="433.87" r="0.69" fill="#b74aa6" opacity="0.85"/>
<circle cx="350.47" cy="433.23" r="0.73" fill="#d674c4" opacity="0.85"/>
<circle cx="346.66" cy="418.16" r="0.68" fill="#c75cb5" opacity="0.85"/>
<circle cx="376.69" cy="438.62" r="0.76" fill="#b74aa6" opacity="0.85"/>
<circle cx="361.59" cy="412.03" r="0.74" fill="#c75cb5" opacity="0.85"/>
<circle cx="351.54" cy="418.49" r="0.74" fill="#a94a9c" opacity="0.85"/>
<circle cx="351.13" cy="408.01" r="0.72" fill="#d674c4" opacity="0.85"/>
<circle cx="334.33" cy="402.15" r="0.78" fill="#b74aa6" opacity="0.85"/>
<circle cx="342.14" cy="395.21" r="0.47" fill="#d674c4" opacity="0.85"/>
<circle cx="381.12" cy="394.14" r="0.72" fill="#c75cb5" opacity="0.85"/>
<circle cx="371.44" cy="404.74" r="0.52" fill="#d674c4" opacity="0.85"/>
<circle cx="364.83" cy="407.92" r="0.55" fill="#c75cb5" opacity="0.85"/>
<circle cx="345.94" cy="438.48" r="0.84" fill="#d674c4" opacity="0.85"/>
<circle cx="347.95" cy="425.94" r="0.73" fill="#a94a9c" opacity="0.85"/>
<circle cx="334.11" cy="410.04" r="0.93" fill="#a94a9c" opacity="0.85"/>
<circle cx="346.11" cy="403.35" r="1.03" fill="#b74aa6" opacity="0.85"/>
<circle cx="354.96" cy="439.67" r="0.46" fill="#b74aa6" opacity="0.85"/>
<circle cx="340.38" cy="426.76" r="0.72" fill="#b74aa6" opacity="0.85"/>
<circle cx="358.77" cy="412.06" r="1.04" fill="#b74aa6" opacity="0.85"/>
<circle cx="365.13" cy="425.56" r="0.58" fill="#a94a9c" opacity="0.85"/>
<circle cx="366.04" cy="410.46" r="0.85" fill="#d674c4" opacity="0.85"/>
<circle cx="354.68" cy="427.69" r="1.03" fill="#b74aa6" opacity="0.85"/>
<circle cx="377.64" cy="406.01" r="0.64" fill="#c75cb5" opacity="0.85"/>
<circle cx="380.90" cy="428.02" r="0.79" fill="#a94a9c" opacity="0.85"/>
<circle cx="339.56" cy="418.80" r="0.80" fill="#c75cb5" opacity="0.85"/>
<circle cx="344.02" cy="435.91" r="0.55" fill="#a94a9c" opacity="0.85"/>
<circle cx="377.24" cy="439.58" r="0.68" fill="#c75cb5" opacity="0.85"/>
<circle cx="350.63" cy="400.95" r="0.80" fill="#a94a9c" opacity="0.85"/>
<circle cx="358.06" cy="437.78" r="0.63" fill="#a94a9c" opacity="0.85"/>
<circle cx="358.44" cy="406.96" r="0.99" fill="#a94a9c" opacity="0.85"/>
<circle cx="333.82" cy="400.70" r="0.94" fill="#d674c4" opacity="0.85"/>
<circle cx="361.69" cy="397.40" r="0.58" fill="#a94a9c" opacity="0.85"/>
<circle cx="367.36" cy="432.74" r="1.00" fill="#d674c4" opacity="0.85"/>
<circle cx="375.71" cy="417.48" r="0.49" fill="#b74aa6" opacity="0.85"/>
<circle cx="334.96" cy="397.29" r="1.00" fill="#b74aa6" opacity="0.85"/>
<circle cx="343.78" cy="428.78" r="0.67" fill="#d674c4" opacity="0.85"/>
<circle cx="350.29" cy="405.25" r="0.53" fill="#a94a9c" opacity="0.85"/>
<circle cx="361.06" cy="395.85" r="0.69" fill="#c75cb5" opacity="0.85"/>
<circle cx="352.33" cy="440.46" r="0.95" fill="#b74aa6" opacity="0.85"/>
<circle cx="350.32" cy="421.54" r="0.50" fill="#a94a9c" opacity="0.85"/>
<circle cx="361.02" cy="419.07" r="0.67" fill="#d674c4" opacity="0.85"/>
<circle cx="348.00" cy="417.47" r="0.72" fill="#c75cb5" opacity="0.85"/>
<circle cx="347.06" cy="430.19" r="0.46" fill="#d674c4" opacity="0.85"/>
<circle cx="367.16" cy="395.21" r="0.95" fill="#c75cb5" opacity="0.85"/>
<circle cx="373.26" cy="400.05" r="0.55" fill="#a94a9c" opacity="0.85"/>
<circle cx="355.94" cy="424.85" r="0.90" fill="#b74aa6" opacity="0.85"/>
<circle cx="338.15" cy="436.41" r="0.93" fill="#a94a9c" opacity="0.85"/>
<circle cx="360.64" cy="431.76" r="0.88" fill="#d674c4" opacity="0.85"/>
<circle cx="348.97" cy="401.04" r="0.47" fill="#d674c4" opacity="0.85"/>
<circle cx="333.44" cy="440.02" r="0.89" fill="#d674c4" opacity="0.85"/>
<circle cx="349.26" cy="410.28" r="0.49" fill="#a94a9c" opacity="0.85"/>
<circle cx="379.57" cy="439.38" r="0.52" fill="#a94a9c" opacity="0.85"/>
<circle cx="343.90" cy="421.68" r="0.85" fill="#a94a9c" opacity="0.85"/>
<circle cx="346.14" cy="417.84" r="0.57" fill="#d674c4" opacity="0.85"/>
<circle cx="351.32" cy="431.84" r="1.04" fill="#c75cb5" opacity="0.85"/>
<circle cx="355.79" cy="423.40" r="1.01" fill="#d674c4" opacity="0.85"/>
<circle cx="352.85" cy="406.03" r="0.56" fill="#d674c4" opacity="0.85"/>
<circle cx="373.41" cy="419.72" r="0.60" fill="#d674c4" opacity="0.85"/>
<circle cx="338.06" cy="421.35" r="0.60" fill="#c75cb5" opacity="0.85"/>
<circle cx="333.94" cy="402.86" r="0.61" fill="#c75cb5" opacity="0.85"/>
<circle cx="377.23" cy="427.28" r="0.83" fill="#c75cb5" opacity="0.85"/>
<circle cx="347.76" cy="430.45" r="0.73" fill="#a94a9c" opacity="0.85"/>
<circle cx="376.80" cy="395.68" r="0.50" fill="#d674c4" opacity="0.85"/>
<circle cx="381.41" cy="399.31" r="1.04" fill="#b74aa6" opacity="0.85"/>
<circle cx="374.88" cy="406.69" r="0.88" fill="#c75cb5" opacity="0.85"/>
<circle cx="375.55" cy="420.88" r="0.99" fill="#b74aa6" opacity="0.85"/>
<circle cx="340.14" cy="436.40" r="0.92" fill="#c75cb5" opacity="0.85"/>
<circle cx="374.85" cy="421.96" r="0.56" fill="#b74aa6" opacity="0.85"/>
<circle cx="355.01" cy="398.54" r="0.60" fill="#b74aa6" opacity="0.85"/>
<circle cx="336.19" cy="439.06" r="0.78" fill="#a94a9c" opacity="0.85"/>
<circle cx="360.56" cy="433.42" r="0.46" fill="#a94a9c" opacity="0.85"/>
<circle cx="375.63" cy="399.23" r="0.46" fill="#a94a9c" opacity="0.85"/>
<circle cx="365.93" cy="411.56" r="0.49" fill="#c75cb5" opacity="0.85"/>
<circle cx="351.04" cy="397.56" r="0.53" fill="#b74aa6" opacity="0.85"/>
<circle cx="383.14" cy="404.53" r="0.55" fill="#a94a9c" opacity="0.85"/>
<circle cx="337.46" cy="415.05" r="0.77" fill="#b74aa6" opacity="0.85"/>
<circle cx="358.50" cy="423.24" r="1.01" fill="#a94a9c" opacity="0.85"/>
<circle cx="365.56" cy="401.95" r="0.75" fill="#d674c4" opacity="0.85"/>
<circle cx="357.37" cy="401.92" r="0.65" fill="#a94a9c" opacity="0.85"/>
<circle cx="364.14" cy="427.23" r="1.03" fill="#d674c4" opacity="0.85"/>
<circle cx="344.11" cy="436.96" r="0.55" fill="#d674c4" opacity="0.85"/>
<circle cx="372.04" cy="435.02" r="0.63" fill="#d674c4" opacity="0.85"/>
<circle cx="348.21" cy="418.38" r="0.87" fill="#b74aa6" opacity="0.85"/>
<circle cx="370.53" cy="420.51" r="0.99" fill="#c75cb5" opacity="0.85"/>
<circle cx="381.96" cy="419.33" r="0.54" fill="#b74aa6" opacity="0.85"/>
<circle cx="354.71" cy="437.97" r="0.75" fill="#c75cb5" opacity="0.85"/>
<circle cx="353.01" cy="422.64" r="0.76" fill="#a94a9c" opacity="0.85"/>
<circle cx="341.32" cy="427.31" r="0.76" fill="#c75cb5" opacity="0.85"/>
<circle cx="337.52" cy="403.44" r="0.61" fill="#c75cb5" opacity="0.85"/>
<circle cx="379.55" cy="438.86" r="1.03" fill="#b74aa6" opacity="0.85"/>
<circle cx="364.42" cy="439.23" r="0.72" fill="#c75cb5" opacity="0.85"/>
<circle cx="380.13" cy="439.45" r="1.01" fill="#a94a9c" opacity="0.85"/>
<circle cx="379.07" cy="410.58" r="0.71" fill="#d674c4" opacity="0.85"/>
<circle cx="364.70" cy="415.14" r="0.52" fill="#b74aa6" opacity="0.85"/>
<circle cx="363.59" cy="411.13" r="0.85" fill="#c75cb5" opacity="0.85"/>
<circle cx="347.09" cy="409.66" r="1.03" fill="#c75cb5" opacity="0.85"/>
<circle cx="359.90" cy="419.73" r="0.83" fill="#c75cb5" opacity="0.85"/>
<circle cx="363.85" cy="432.62" r="0.55" fill="#b74aa6" opacity="0.85"/>
<circle cx="340.48" cy="400.68" r="0.80" fill="#d674c4" opacity="0.85"/>
<circle cx="345.72" cy="424.98" r="0.78" fill="#b74aa6" opacity="0.85"/>
<circle cx="357.98" cy="433.64" r="0.79" fill="#b74aa6" opacity="0.85"/>
<circle cx="352.48" cy="404.89" r="0.99" fill="#c75cb5" opacity="0.85"/>
<circle cx="334.13" cy="419.24" r="0.78" fill="#c75cb5" opacity="0.85"/>
<circle cx="382.21" cy="428.88" r="0.50" fill="#b74aa6" opacity="0.85"/>
<circle cx="352.00" cy="431.12" r="0.75" fill="#a94a9c" opacity="0.85"/>
<circle cx="351.13" cy="417.18" r="0.52" fill="#c75cb5" opacity="0.85"/>
<circle cx="369.59" cy="408.22" r="0.65" fill="#a94a9c" opacity="0.85"/>
<circle cx="370.26" cy="419.34" r="0.84" fill="#c75cb5" opacity="0.85"/>
<circle cx="352.19" cy="400.86" r="1.05" fill="#c75cb5" opacity="0.85"/>
<circle cx="365.38" cy="426.93" r="1.04" fill="#b74aa6" opacity="0.85"/>
<circle cx="356.49" cy="432.58" r="1.01" fill="#a94a9c" opacity="0.85"/>
<circle cx="369.29" cy="440.28" r="0.72" fill="#b74aa6" opacity="0.85"/>
<circle cx="367.08" cy="400.53" r="0.86" fill="#c75cb5" opacity="0.85"/>
<circle cx="362.50" cy="439.41" r="0.97" fill="#d674c4" opacity="0.85"/>
<circle cx="362.76" cy="427.51" r="0.75" fill="#c75cb5" opacity="0.85"/>
<circle cx="371.01" cy="422.81" r="0.83" fill="#d674c4" opacity="0.85"/>
<circle cx="353.70" cy="422.25" r="0.92" fill="#a94a9c" opacity="0.85"/>
<circle cx="376.14" cy="429.21" r="0.66" fill="#c75cb5" opacity="0.85"/>
<circle cx="346.42" cy="426.21" r="0.54" fill="#d674c4" opacity="0.85"/>
<circle cx="375.47" cy="414.97" r="0.76" fill="#a94a9c" opacity="0.85"/>
<circle cx="346.74" cy="395.56" r="0.49" fill="#a94a9c" opacity="0.85"/>
<circle cx="336.32" cy="412.86" r="0.75" fill="#b74aa6" opacity="0.85"/>
<circle cx="381.25" cy="425.33" r="0.83" fill="#a94a9c" opacity="0.85"/>
<circle cx="346.99" cy="405.91" r="0.59" fill="#b74aa6" opacity="0.85"/>
<circle cx="349.96" cy="394.05" r="0.73" fill="#d674c4" opacity="0.85"/>
<circle cx="361.40" cy="393.10" r="0.84" fill="#d674c4" opacity="0.85"/>
<circle cx="369.36" cy="431.59" r="0.66" fill="#d674c4" opacity="0.85"/>
<circle cx="370.71" cy="410.35" r="0.55" fill="#a94a9c" opacity="0.85"/>
<circle cx="373.26" cy="434.20" r="0.88" fill="#d674c4" opacity="0.85"/>
<circle cx="346.12" cy="421.28" r="0.96" fill="#b74aa6" opacity="0.85"/>
<circle cx="334.46" cy="435.84" r="0.64" fill="#a94a9c" opacity="0.85"/>
<circle cx="354.96" cy="428.91" r="0.56" fill="#d674c4" opacity="0.85"/>
<circle cx="364.88" cy="398.93" r="0.80" fill="#a94a9c" opacity="0.85"/>
<circle cx="380.57" cy="398.05" r="0.73" fill="#d674c4" opacity="0.85"/>
<circle cx="341.21" cy="429.76" r="0.67" fill="#a94a9c" opacity="0.85"/>
<circle cx="371.30" cy="402.70" r="0.88" fill="#b74aa6" opacity="0.85"/>
<circle cx="348.51" cy="395.95" r="0.64" fill="#a94a9c" opacity="0.85"/>
<circle cx="380.35" cy="438.65" r="0.48" fill="#c75cb5" opacity="0.85"/>
<circle cx="363.43" cy="435.31" r="0.86" fill="#b74aa6" opacity="0.85"/>
<circle cx="358.17" cy="417.19" r="0.66" fill="#a94a9c" opacity="0.85"/>
<circle cx="375.72" cy="396.54" r="0.51" fill="#b74aa6" opacity="0.85"/>
<circle cx="353.32" cy="415.50" r="0.90" fill="#a94a9c" opacity="0.85"/>
<circle cx="382.64" cy="402.46" r="0.73" fill="#d674c4" opacity="0.85"/>
<circle cx="362.53" cy="401.26" r="0.65" fill="#d674c4" opacity="0.85"/>
<circle cx="363.23" cy="436.35" r="0.48" fill="#c75cb5" opacity="0.85"/>
<circle cx="373.65" cy="433.74" r="0.98" fill="#d674c4" opacity="0.85"/>
<circle cx="376.23" cy="405.05" r="0.69" fill="#b74aa6" opacity="0.85"/>
<circle cx="377.87" cy="428.76" r="0.93" fill="#b74aa6" opacity="0.85"/>
<circle cx="334.46" cy="410.08" r="0.79" fill="#c75cb5" opacity="0.85"/>
<circle cx="345.89" cy="394.60" r="0.99" fill="#d674c4" opacity="0.85"/>
<circle cx="334.71" cy="393.66" r="0.48" fill="#b74aa6" opacity="0.85"/>
<circle cx="346.88" cy="396.51" r="0.56" fill="#c75cb5" opacity="0.85"/>
<circle cx="358.43" cy="397.15" r="0.86" fill="#d674c4" opacity="0.85"/>
<circle cx="376.11" cy="423.95" r="0.65" fill="#a94a9c" opacity="0.85"/>
<circle cx="346.59" cy="403.67" r="0.60" fill="#b74aa6" opacity="0.85"/>
<circle cx="362.94" cy="430.23" r="0.66" fill="#b74aa6" opacity="0.85"/>
<circle cx="363.83" cy="418.78" r="0.99" fill="#c75cb5" opacity="0.85"/>
<circle cx="360.85" cy="417.67" r="1.00" fill="#a94a9c" opacity="0.85"/>
<circle cx="336.48" cy="404.03" r="0.60" fill="#c75cb5" opacity="0.85"/>
<circle cx="382.79" cy="398.20" r="0.96" fill="#b74aa6" opacity="0.85"/>
<circle cx="376.45" cy="393.26" r="1.00" fill="#c75cb5" opacity="0.85"/>
<circle cx="359.11" cy="415.81" r="1.04" fill="#c75cb5" opacity="0.85"/>
<circle cx="334.95" cy="417.33" r="0.85" fill="#a94a9c" opacity="0.85"/>
<circle cx="378.66" cy="429.00" r="0.46" fill="#a94a9c" opacity="0.85"/>
<circle cx="359.70" cy="395.15" r="0.50" fill="#d674c4" opacity="0.85"/>
<circle cx="334.65" cy="409.93" r="0.64" fill="#d674c4" opacity="0.85"/>
<circle cx="339.54" cy="430.57" r="0.96" fill="#c75cb5" opacity="0.85"/>
<circle cx="348.42" cy="411.97" r="0.75" fill="#b74aa6" opacity="0.85"/>
<circle cx="343.40" cy="437.03" r="1.02" fill="#a94a9c" opacity="0.85"/>
<circle cx="362.75" cy="395.87" r="0.76" fill="#a94a9c" opacity="0.85"/>
<circle cx="361.45" cy="433.05" r="0.99" fill="#c75cb5" opacity="0.85"/>
<circle cx="375.40" cy="405.25" r="0.57" fill="#b74aa6" opacity="0.85"/>
<circle cx="352.79" cy="406.91" r="0.66" fill="#a94a9c" opacity="0.85"/>
<circle cx="362.28" cy="392.79" r="0.70" fill="#d674c4" opacity="0.85"/>
<circle cx="349.19" cy="404.32" r="0.77" fill="#c75cb5" opacity="0.85"/>
<circle cx="340.50" cy="436.60" r="0.92" fill="#d674c4" opacity="0.85"/>
<circle cx="362.19" cy="413.33" r="0.74" fill="#d674c4" opacity="0.85"/>
<circle cx="379.55" cy="437.26" r="0.94" fill="#a94a9c" opacity="0.85"/>
<circle cx="380.19" cy="436.99" r="0.53" fill="#c75cb5" opacity="0.85"/>
<circle cx="359.66" cy="419.55" r="0.92" fill="#d674c4" opacity="0.85"/>
<circle cx="368.82" cy="428.16" r="1.04" fill="#d674c4" opacity="0.85"/>
<circle cx="373.62" cy="409.22" r="0.73" fill="#d674c4" opacity="0.85"/>
<circle cx="382.97" cy="417.37" r="0.47" fill="#b74aa6" opacity="0.85"/>
<circle cx="345.68" cy="401.72" r="0.99" fill="#b74aa6" opacity="0.85"/>
<circle cx="342.33" cy="411.28" r="0.94" fill="#c75cb5" opacity="0.85"/>
<circle cx="382.91" cy="424.87" r="0.57" fill="#c75cb5" opacity="0.85"/>
<circle cx="336.31" cy="419.33" r="0.96" fill="#c75cb5" opacity="0.85"/>
<circle cx="373.48" cy="401.53" r="0.76" fill="#b74aa6" opacity="0.85"/>
<circle cx="354.98" cy="420.30" r="0.88" fill="#a94a9c" opacity="0.85"/>
<circle cx="347.40" cy="435.43" r="0.97" fill="#a94a9c" opacity="0.85"/>
<circle cx="378.52" cy="412.00" r="0.78" fill="#d674c4" opacity="0.85"/>
<circle cx="381.18" cy="430.75" r="0.94" fill="#c75cb5" opacity="0.85"/>
<circle cx="383.91" cy="403.51" r="0.45" fill="#b74aa6" opacity="0.85"/>
<circle cx="360.08" cy="409.75" r="0.50" fill="#a94a9c" opacity="0.85"/>
<circle cx="364.37" cy="416.26" r="0.47" fill="#a94a9c" opacity="0.85"/>
<circle cx="376.39" cy="413.66" r="1.03" fill="#b74aa6" opacity="0.85"/>
<circle cx="368.47" cy="422.90" r="0.94" fill="#c75cb5" opacity="0.85"/>
<circle cx="359.09" cy="440.59" r="1.03" fill="#d674c4" opacity="0.85"/>
<circle cx="360.65" cy="419.37" r="0.77" fill="#d674c4" opacity="0.85"/>
<circle cx="360.60" cy="431.77" r="0.81" fill="#a94a9c" opacity="0.85"/>
<circle cx="362.59" cy="413.36" r="0.75" fill="#b74aa6" opacity="0.85"/>
<circle cx="362.86" cy="418.26" r="0.60" fill="#b74aa6" opacity="0.85"/>
<circle cx="333.39" cy="411.94" r="0.67" fill="#c75cb5" opacity="0.85"/>
<circle cx="353.45" cy="437.71" r="0.99" fill="#c75cb5" opacity="0.85"/>
<circle cx="380.18" cy="433.17" r="0.61" fill="#a94a9c" opacity="0.85"/>
<circle cx="346.80" cy="429.91" r="0.91" fill="#a94a9c" opacity="0.85"/>
<circle cx="352.75" cy="431.02" r="0.66" fill="#a94a9c" opacity="0.85"/>
<circle cx="354.12" cy="391.51" r="0.94" fill="#b74aa6" opacity="0.85"/>
<circle cx="351.69" cy="396.99" r="1.02" fill="#d674c4" opacity="0.85"/>
<circle cx="354.00" cy="437.83" r="0.89" fill="#d674c4" opacity="0.85"/>
<circle cx="368.23" cy="412.41" r="0.58" fill="#a94a9c" opacity="0.85"/>
<circle cx="375.29" cy="438.35" r="0.88" fill="#a94a9c" opacity="0.85"/>
<circle cx="337.57" cy="397.11" r="0.59" fill="#b74aa6" opacity="0.85"/>
<circle cx="334.24" cy="403.34" r="0.91" fill="#a94a9c" opacity="0.85"/>
<circle cx="337.96" cy="423.28" r="0.95" fill="#b74aa6" opacity="0.85"/>
<circle cx="337.46" cy="421.38" r="0.78" fill="#c75cb5" opacity="0.85"/>
<circle cx="360.21" cy="408.04" r="0.89" fill="#c75cb5" opacity="0.85"/>
<circle cx="367.60" cy="432.60" r="1.05" fill="#c75cb5" opacity="0.85"/>
<circle cx="367.88" cy="399.61" r="0.92" fill="#c75cb5" opacity="0.85"/>
<circle cx="367.48" cy="394.99" r="0.52" fill="#a94a9c" opacity="0.85"/>
<circle cx="355.76" cy="424.90" r="0.99" fill="#a94a9c" opacity="0.85"/>
<circle cx="338.84" cy="433.55" r="0.54" fill="#c75cb5" opacity="0.85"/>
<circle cx="364.26" cy="425.93" r="0.76" fill="#b74aa6" opacity="0.85"/>
<circle cx="354.19" cy="435.26" r="0.97" fill="#d674c4" opacity="0.85"/>
<circle cx="365.28" cy="431.35" r="0.92" fill="#b74aa6" opacity="0.85"/>
<circle cx="364.76" cy="433.91" r="0.46" fill="#c75cb5" opacity="0.85"/>
<circle cx="383.44" cy="423.66" r="0.48" fill="#d674c4" opacity="0.85"/>
<circle cx="364.86" cy="405.68" r="0.59" fill="#c75cb5" opacity="0.85"/>
<circle cx="346.93" cy="426.12" r="0.54" fill="#a94a9c" opacity="0.85"/>
<circle cx="346.00" cy="411.11" r="0.77" fill="#c75cb5" opacity="0.85"/>
<circle cx="364.02" cy="398.09" r="0.61" fill="#a94a9c" opacity="0.85"/>
<circle cx="357.44" cy="405.98" r="0.58" fill="#a94a9c" opacity="0.85"/>
<circle cx="351.69" cy="414.27" r="0.56" fill="#d674c4" opacity="0.85"/>
<circle cx="371.68" cy="427.78" r="0.77" fill="#a94a9c" opacity="0.85"/>
<circle cx="335.87" cy="407.00" r="0.84" fill="#b74aa6" opacity="0.85"/>
<circle cx="374.39" cy="435.44" r="0.82" fill="#d674c4" opacity="0.85"/>
<circle cx="357.45" cy="396.56" r="0.87" fill="#b74aa6" opacity="0.85"/>
<circle cx="344.40" cy="422.55" r="0.79" fill="#c75cb5" opacity="0.85"/>
<circle cx="367.89" cy="401.98" r="0.75" fill="#b74aa6" opacity="0.85"/>
<circle cx="366.62" cy="406.09" r="0.45" fill="#d674c4" opacity="0.85"/>
<circle cx="333.92" cy="405.96" r="0.50" fill="#b74aa6" opacity="0.85"/>
<circle cx="344.37" cy="424.84" r="0.61" fill="#d674c4" opacity="0.85"/>
<circle cx="369.63" cy="409.68" r="0.65" fill="#c75cb5" opacity="0.85"/>
<circle cx="340.03" cy="403.22" r="0.86" fill="#b74aa6" opacity="0.85"/>
<circle cx="335.00" cy="394.49" r="0.63" fill="#c75cb5" opacity="0.85"/>
<circle cx="345.62" cy="417.24" r="0.47" fill="#d674c4" opacity="0.85"/>
<circle cx="340.00" cy="410.69" r="0.51" fill="#b74aa6" opacity="0.85"/>
<circle cx="349.70" cy="391.00" r="1.03" fill="#d674c4" opacity="0.85"/>
<circle cx="338.63" cy="437.04" r="0.81" fill="#b74aa6" opacity="0.85"/>
<circle cx="377.38" cy="410.98" r="0.79" fill="#a94a9c" opacity="0.85"/>
<circle cx="360.28" cy="410.41" r="0.83" fill="#b74aa6" opacity="0.85"/>
<circle cx="360.96" cy="393.31" r="0.56" fill="#c75cb5" opacity="0.85"/>
<circle cx="343.89" cy="412.46" r="0.60" fill="#c75cb5" opacity="0.85"/>
<circle cx="346.74" cy="417.27" r="0.53" fill="#a94a9c" opacity="0.85"/>
<circle cx="369.12" cy="428.07" r="0.84" fill="#c75cb5" opacity="0.85"/>
<circle cx="360.71" cy="418.00" r="0.82" fill="#c75cb5" opacity="0.85"/>
<circle cx="355.66" cy="397.25" r="1.00" fill="#c75cb5" opacity="0.85"/>
<circle cx="340.15" cy="434.82" r="0.74" fill="#b74aa6" opacity="0.85"/>
<circle cx="373.83" cy="429.20" r="0.98" fill="#d674c4" opacity="0.85"/>
<circle cx="341.06" cy="433.31" r="0.95" fill="#a94a9c" opacity="0.85"/>
<circle cx="353.63" cy="439.73" r="0.61" fill="#b74aa6" opacity="0.85"/>
<circle cx="366.98" cy="430.81" r="0.77" fill="#c75cb5" opacity="0.85"/>
<circle cx="333.40" cy="431.61" r="0.68" fill="#b74aa6" opacity="0.85"/>
<circle cx="361.61" cy="435.01" r="0.47" fill="#a94a9c" opacity="0.85"/>
<circle cx="354.97" cy="424.77" r="1.01" fill="#d674c4" opacity="0.85"/>
<circle cx="353.77" cy="421.07" r="0.51" fill="#c75cb5" opacity="0.85"/>
<circle cx="372.71" cy="423.10" r="0.94" fill="#c75cb5" opacity="0.85"/>
<circle cx="375.40" cy="420.15" r="0.78" fill="#d674c4" opacity="0.85"/>
<circle cx="372.91" cy="419.18" r="0.93" fill="#d674c4" opacity="0.85"/>
<circle cx="374.79" cy="402.93" r="0.51" fill="#b74aa6" opacity="0.85"/>
<circle cx="381.55" cy="434.46" r="0.92" fill="#c75cb5" opacity="0.85"/>
<circle cx="379.73" cy="406.38" r="0.60" fill="#d674c4" opacity="0.85"/>
<circle cx="364.88" cy="435.79" r="0.82" fill="#c75cb5" opacity="0.85"/>
<circle cx="354.10" cy="408.64" r="0.71" fill="#d674c4" opacity="0.85"/>
<circle cx="368.63" cy="422.54" r="0.48" fill="#b74aa6" opacity="0.85"/>
<circle cx="367.29" cy="435.44" r="0.78" fill="#b74aa6" opacity="0.85"/>
<circle cx="364.88" cy="435.59" r="1.04" fill="#c75cb5" opacity="0.85"/>
<circle cx="334.01" cy="435.73" r="0.83" fill="#a94a9c" opacity="0.85"/>
<circle cx="381.60" cy="410.58" r="0.51" fill="#b74aa6" opacity="0.85"/>
<circle cx="350.05" cy="439.39" r="0.92" fill="#b74aa6" opacity="0.85"/>
<circle cx="356.47" cy="414.30" r="0.84" fill="#a94a9c" opacity="0.85"/>
<circle cx="366.79" cy="437.72" r="0.71" fill="#a94a9c" opacity="0.85"/>
<circle cx="360.60" cy="419.34" r="0.95" fill="#d674c4" opacity="0.85"/>
<circle cx="340.56" cy="409.52" r="0.93" fill="#c75cb5" opacity="0.85"/>
<circle cx="366.24" cy="437.95" r="0.91" fill="#a94a9c" opacity="0.85"/>
<circle cx="367.00" cy="430.73" r="1.00" fill="#d674c4" opacity="0.85"/>
<circle cx="340.78" cy="416.99" r="1.02" fill="#c75cb5" opacity="0.85"/>
<circle cx="333.86" cy="410.55" r="0.77" fill="#b74aa6" opacity="0.85"/>
<circle cx="352.87" cy="390.87" r="1.04" fill="#b74aa6" opacity="0.85"/>
<circle cx="379.26" cy="423.91" r="0.85" fill="#d674c4" opacity="0.85"/>
<circle cx="336.79" cy="417.58" r="0.56" fill="#b74aa6" opacity="0.85"/>
<circle cx="362.81" cy="416.41" r="0.59" fill="#a94a9c" opacity="0.85"/>
<circle cx="334.97" cy="416.54" r="0.87" fill="#b74aa6" opacity="0.85"/>
<circle cx="368.19" cy="423.47" r="0.60" fill="#c75cb5" opacity="0.85"/>
<circle cx="372.73" cy="396.59" r="0.68" fill="#c75cb5" opacity="0.85"/>
<circle cx="361.51" cy="422.86" r="0.48" fill="#a94a9c" opacity="0.85"/>
<circle cx="359.39" cy="429.70" r="1.02" fill="#c75cb5" opacity="0.85"/>
<circle cx="348.84" cy="404.59" r="0.55" fill="#a94a9c" opacity="0.85"/>
<circle cx="339.71" cy="418.85" r="0.91" fill="#d674c4" opacity="0.85"/>
<circle cx="365.43" cy="440.50" r="0.78" fill="#a94a9c" opacity="0.85"/>
<circle cx="368.61" cy="425.74" r="0.75" fill="#b74aa6" opacity="0.85"/>
<circle cx="347.13" cy="437.29" r="0.79" fill="#d674c4" opacity="0.85"/>
<circle cx="376.07" cy="429.86" r="0.89" fill="#c75cb5" opacity="0.85"/>
<circle cx="350.08" cy="397.78" r="0.60" fill="#d674c4" opacity="0.85"/>
<circle cx="352.54" cy="419.04" r="0.54" fill="#c75cb5" opacity="0.85"/>
<circle cx="339.56" cy="403.31" r="0.49" fill="#b74aa6" opacity="0.85"/>
<circle cx="362.50" cy="421.71" r="0.88" fill="#a94a9c" opacity="0.85"/>
<circle cx="345.16" cy="397.60" r="0.68" fill="#a94a9c" opacity="0.85"/>
<circle cx="342.91" cy="422.06" r="0.54" fill="#c75cb5" opacity="0.85"/>
<circle cx="367.00" cy="392.12" r="0.68" fill="#a94a9c" opacity="0.85"/>
<circle cx="367.77" cy="420.33" r="0.85" fill="#b74aa6" opacity="0.85"/>
<circle cx="360.82" cy="437.25" r="0.53" fill="#a94a9c" opacity="0.85"/>
<circle cx="343.24" cy="426.76" r="0.66" fill="#a94a9c" opacity="0.85"/>
<circle cx="375.75" cy="401.92" r="0.66" fill="#b74aa6" opacity="0.85"/>
<circle cx="360.26" cy="395.06" r="0.58" fill="#d674c4" opacity="0.85"/>
<circle cx="356.58" cy="405.20" r="0.82" fill="#c75cb5" opacity="0.85"/>
<circle cx="371.47" cy="403.42" r="0.48" fill="#c75cb5" opacity="0.85"/>
<circle cx="372.82" cy="398.64" r="1.02" fill="#b74aa6" opacity="0.85"/>
<circle cx="365.05" cy="395.80" r="0.83" fill="#a94a9c" opacity="0.85"/>
<circle cx="345.47" cy="401.06" r="0.52" fill="#a94a9c" opacity="0.85"/>
<circle cx="379.20" cy="426.21" r="0.85" fill="#a94a9c" opacity="0.85"/>
<circle cx="359.34" cy="431.54" r="0.89" fill="#d674c4" opacity="0.85"/>
<circle cx="369.58" cy="431.27" r="0.85" fill="#a94a9c" opacity="0.85"/>
<circle cx="360.75" cy="402.20" r="0.83" fill="#c75cb5" opacity="0.85"/>
<circle cx="367.22" cy="436.94" r="0.96" fill="#b74aa6" opacity="0.85"/>
<circle cx="382.35" cy="429.28" r="0.69" fill="#a94a9c" opacity="0.85"/>
<circle cx="358.14" cy="424.27" r="0.56" fill="#b74aa6" opacity="0.85"/>
<circle cx="333.71" cy="428.52" r="0.58" fill="#a94a9c" opacity="0.85"/>
<circle cx="374.95" cy="417.69" r="0.99" fill="#d674c4" opacity="0.85"/>
<circle cx="337.70" cy="424.71" r="0.96" fill="#c75cb5" opacity="0.85"/>
<circle cx="375.51" cy="400.10" r="0.81" fill="#b74aa6" opacity="0.85"/>
<circle cx="342.61" cy="416.24" r="0.57" fill="#d674c4" opacity="0.85"/>
</g>
<clipPath id="zt1_1"><path d="M332,390 L352,390 C348,394 342,397 332,398 Z"/></clipPath>
<path d="M332,390 L352,390 C348,394 342,397 332,398 Z" fill="#f3bce8"/>
<g clip-path="url(#zt1_1)">
<rect x="332.9" y="390.6" width="51.10000000000002" height="50.299999999999955" filter="url(#noise)" opacity="0.54"/>
<rect x="332.9" y="390.6" width="51.10000000000002" height="50.299999999999955" filter="url(#noise2)" opacity="0.18"/>
<circle cx="351.28" cy="434.74" r="0.65" fill="#c75cb5" opacity="0.85"/>
<circle cx="335.55" cy="392.82" r="0.98" fill="#b74aa6" opacity="0.85"/>
<circle cx="376.53" cy="437.81" r="0.48" fill="#a94a9c" opacity="0.85"/>
<circle cx="358.50" cy="440.43" r="0.51" fill="#a94a9c" opacity="0.85"/>
<circle cx="353.34" cy="416.34" r="0.69" fill="#d674c4" opacity="0.85"/>
<circle cx="379.18" cy="414.27" r="0.78" fill="#c75cb5" opacity="0.85"/>
<circle cx="379.39" cy="414.60" r="0.63" fill="#a94a9c" opacity="0.85"/>
<circle cx="371.17" cy="430.60" r="0.49" fill="#d674c4" opacity="0.85"/>
<circle cx="363.93" cy="430.38" r="0.70" fill="#d674c4" opacity="0.85"/>
<circle cx="383.94" cy="430.38" r="0.47" fill="#c75cb5" opacity="0.85"/>
<circle cx="359.96" cy="395.68" r="0.65" fill="#d674c4" opacity="0.85"/>
<circle cx="351.72" cy="418.31" r="0.80" fill="#d674c4" opacity="0.85"/>
<circle cx="357.68" cy="422.51" r="0.65" fill="#a94a9c" opacity="0.85"/>
<circle cx="379.87" cy="417.97" r="1.00" fill="#b74aa6" opacity="0.85"/>
<circle cx="351.34" cy="397.95" r="0.80" fill="#b74aa6" opacity="0.85"/>
<circle cx="353.54" cy="434.20" r="0.94" fill="#a94a9c" opacity="0.85"/>
<circle cx="383.78" cy="433.45" r="0.47" fill="#d674c4" opacity="0.85"/>
<circle cx="336.14" cy="422.33" r="0.90" fill="#d674c4" opacity="0.85"/>
<circle cx="353.19" cy="404.88" r="0.49" fill="#c75cb5" opacity="0.85"/>
<circle cx="341.61" cy="437.69" r="0.70" fill="#d674c4" opacity="0.85"/>
<circle cx="339.35" cy="418.31" r="0.59" fill="#d674c4" opacity="0.85"/>
<circle cx="337.95" cy="426.90" r="0.89" fill="#c75cb5" opacity="0.85"/>
<circle cx="348.30" cy="434.54" r="0.94" fill="#b74aa6" opacity="0.85"/>
<circle cx="336.74" cy="406.47" r="0.97" fill="#d674c4" opacity="0.85"/>
<circle cx="339.71" cy="412.84" r="0.93" fill="#d674c4" opacity="0.85"/>
<circle cx="334.81" cy="440.36" r="0.90" fill="#a94a9c" opacity="0.85"/>
<circle cx="378.22" cy="392.64" r="0.56" fill="#a94a9c" opacity="0.85"/>
<circle cx="379.05" cy="402.31" r="1.03" fill="#b74aa6" opacity="0.85"/>
<circle cx="358.77" cy="426.89" r="0.57" fill="#a94a9c" opacity="0.85"/>
<circle cx="335.73" cy="439.01" r="1.01" fill="#d674c4" opacity="0.85"/>
<circle cx="364.30" cy="408.44" r="0.46" fill="#c75cb5" opacity="0.85"/>
<circle cx="357.87" cy="398.87" r="0.46" fill="#c75cb5" opacity="0.85"/>
<circle cx="371.98" cy="394.86" r="0.47" fill="#b74aa6" opacity="0.85"/>
<circle cx="359.89" cy="401.13" r="0.60" fill="#d674c4" opacity="0.85"/>
<circle cx="358.75" cy="406.94" r="0.57" fill="#c75cb5" opacity="0.85"/>
<circle cx="342.17" cy="425.03" r="1.02" fill="#d674c4" opacity="0.85"/>
<circle cx="362.60" cy="421.47" r="0.46" fill="#d674c4" opacity="0.85"/>
<circle cx="333.96" cy="395.87" r="0.95" fill="#a94a9c" opacity="0.85"/>
<circle cx="362.65" cy="407.65" r="0.57" fill="#a94a9c" opacity="0.85"/>
<circle cx="359.18" cy="415.47" r="0.81" fill="#a94a9c" opacity="0.85"/>
<circle cx="370.63" cy="436.13" r="0.81" fill="#a94a9c" opacity="0.85"/>
<circle cx="341.35" cy="404.09" r="0.79" fill="#d674c4" opacity="0.85"/>
<circle cx="374.07" cy="421.15" r="0.60" fill="#d674c4" opacity="0.85"/>
<circle cx="333.65" cy="428.70" r="0.72" fill="#a94a9c" opacity="0.85"/>
<circle cx="351.07" cy="416.15" r="0.87" fill="#b74aa6" opacity="0.85"/>
<circle cx="380.19" cy="425.62" r="0.68" fill="#b74aa6" opacity="0.85"/>
<circle cx="355.25" cy="422.89" r="0.97" fill="#d674c4" opacity="0.85"/>
<circle cx="379.68" cy="403.47" r="0.63" fill="#c75cb5" opacity="0.85"/>
<circle cx="333.66" cy="407.61" r="0.58" fill="#c75cb5" opacity="0.85"/>
<circle cx="337.08" cy="396.63" r="0.53" fill="#c75cb5" opacity="0.85"/>
<circle cx="368.20" cy="438.86" r="0.59" fill="#d674c4" opacity="0.85"/>
<circle cx="382.08" cy="425.84" r="0.90" fill="#b74aa6" opacity="0.85"/>
<circle cx="371.57" cy="428.32" r="0.63" fill="#d674c4" opacity="0.85"/>
<circle cx="352.22" cy="437.24" r="0.94" fill="#a94a9c" opacity="0.85"/>
<circle cx="376.74" cy="437.90" r="1.01" fill="#a94a9c" opacity="0.85"/>
<circle cx="363.96" cy="421.66" r="0.60" fill="#b74aa6" opacity="0.85"/>
<circle cx="353.07" cy="401.17" r="0.88" fill="#b74aa6" opacity="0.85"/>
<circle cx="348.19" cy="426.75" r="0.45" fill="#d674c4" opacity="0.85"/>
<circle cx="368.90" cy="406.06" r="0.55" fill="#a94a9c" opacity="0.85"/>
<circle cx="340.38" cy="440.50" r="0.78" fill="#a94a9c" opacity="0.85"/>
<circle cx="377.58" cy="416.41" r="1.01" fill="#d674c4" opacity="0.85"/>
<circle cx="338.60" cy="423.08" r="0.71" fill="#d674c4" opacity="0.85"/>
<circle cx="375.93" cy="428.44" r="0.52" fill="#a94a9c" opacity="0.85"/>
<circle cx="344.17" cy="421.06" r="0.71" fill="#d674c4" opacity="0.85"/>
<circle cx="372.98" cy="393.33" r="0.53" fill="#b74aa6" opacity="0.85"/>
<circle cx="380.04" cy="439.82" r="0.58" fill="#c75cb5" opacity="0.85"/>
<circle cx="367.26" cy="411.87" r="0.49" fill="#c75cb5" opacity="0.85"/>
<circle cx="333.36" cy="417.66" r="0.92" fill="#d674c4" opacity="0.85"/>
<circle cx="364.15" cy="418.72" r="0.57" fill="#a94a9c" opacity="0.85"/>
<circle cx="347.99" cy="418.30" r="0.98" fill="#d674c4" opacity="0.85"/>
<circle cx="342.23" cy="410.29" r="0.59" fill="#c75cb5" opacity="0.85"/>
<circle cx="361.28" cy="413.37" r="0.65" fill="#d674c4" opacity="0.85"/>
<circle cx="339.02" cy="418.90" r="0.91" fill="#c75cb5" opacity="0.85"/>
<circle cx="344.06" cy="399.48" r="0.49" fill="#c75cb5" opacity="0.85"/>
<circle cx="348.94" cy="427.14" r="0.95" fill="#c75cb5" opacity="0.85"/>
<circle cx="340.57" cy="392.77" r="1.03" fill="#d674c4" opacity="0.85"/>
<circle cx="335.88" cy="395.09" r="0.93" fill="#b74aa6" opacity="0.85"/>
<circle cx="366.87" cy="396.60" r="0.48" fill="#b74aa6" opacity="0.85"/>
<circle cx="370.12" cy="395.00" r="1.01" fill="#b74aa6" opacity="0.85"/>
<circle cx="369.39" cy="417.12" r="0.88" fill="#b74aa6" opacity="0.85"/>
<circle cx="369.89" cy="429.08" r="0.66" fill="#d674c4" opacity="0.85"/>
<circle cx="356.11" cy="434.58" r="0.97" fill="#a94a9c" opacity="0.85"/>
<circle cx="352.65" cy="412.03" r="0.95" fill="#b74aa6" opacity="0.85"/>
<circle cx="357.91" cy="407.89" r="0.81" fill="#b74aa6" opacity="0.85"/>
<circle cx="338.72" cy="394.24" r="0.98" fill="#a94a9c" opacity="0.85"/>
<circle cx="360.10" cy="436.91" r="0.90" fill="#d674c4" opacity="0.85"/>
<circle cx="351.83" cy="413.55" r="0.64" fill="#d674c4" opacity="0.85"/>
<circle cx="381.86" cy="416.32" r="0.53" fill="#d674c4" opacity="0.85"/>
<circle cx="341.49" cy="419.11" r="0.55" fill="#b74aa6" opacity="0.85"/>
<circle cx="365.85" cy="398.26" r="0.50" fill="#b74aa6" opacity="0.85"/>
<circle cx="364.18" cy="402.44" r="0.55" fill="#d674c4" opacity="0.85"/>
<circle cx="376.64" cy="406.18" r="0.54" fill="#a94a9c" opacity="0.85"/>
<circle cx="350.95" cy="413.22" r="0.96" fill="#c75cb5" opacity="0.85"/>
<circle cx="367.88" cy="394.08" r="0.74" fill="#b74aa6" opacity="0.85"/>
<circle cx="334.69" cy="392.96" r="0.84" fill="#b74aa6" opacity="0.85"/>
<circle cx="370.48" cy="409.01" r="0.96" fill="#d674c4" opacity="0.85"/>
<circle cx="372.85" cy="422.14" r="0.66" fill="#d674c4" opacity="0.85"/>
<circle cx="339.05" cy="438.31" r="1.04" fill="#c75cb5" opacity="0.85"/>
<circle cx="378.14" cy="426.39" r="0.49" fill="#b74aa6" opacity="0.85"/>
<circle cx="375.71" cy="405.91" r="0.60" fill="#a94a9c" opacity="0.85"/>
<circle cx="372.37" cy="402.26" r="0.87" fill="#d674c4" opacity="0.85"/>
<circle cx="333.25" cy="395.49" r="0.58" fill="#b74aa6" opacity="0.85"/>
<circle cx="358.76" cy="404.01" r="0.59" fill="#b74aa6" opacity="0.85"/>
<circle cx="348.81" cy="416.29" r="0.97" fill="#a94a9c" opacity="0.85"/>
<circle cx="355.35" cy="416.34" r="0.76" fill="#b74aa6" opacity="0.85"/>
<circle cx="351.07" cy="412.38" r="0.62" fill="#c75cb5" opacity="0.85"/>
<circle cx="344.60" cy="397.76" r="0.46" fill="#b74aa6" opacity="0.85"/>
<circle cx="357.72" cy="399.85" r="0.50" fill="#d674c4" opacity="0.85"/>
<circle cx="345.03" cy="425.61" r="0.50" fill="#b74aa6" opacity="0.85"/>
<circle cx="365.80" cy="400.47" r="0.55" fill="#d674c4" opacity="0.85"/>
<circle cx="368.23" cy="432.63" r="0.58" fill="#c75cb5" opacity="0.85"/>
<circle cx="378.36" cy="418.37" r="0.96" fill="#c75cb5" opacity="0.85"/>
<circle cx="358.45" cy="408.18" r="0.49" fill="#a94a9c" opacity="0.85"/>
<circle cx="349.19" cy="427.90" r="0.81" fill="#d674c4" opacity="0.85"/>
<circle cx="378.40" cy="419.42" r="0.65" fill="#a94a9c" opacity="0.85"/>
<circle cx="376.39" cy="403.78" r="0.46" fill="#d674c4" opacity="0.85"/>
<circle cx="342.11" cy="407.07" r="0.61" fill="#d674c4" opacity="0.85"/>
<circle cx="374.67" cy="434.33" r="0.70" fill="#a94a9c" opacity="0.85"/>
<circle cx="333.51" cy="398.77" r="0.48" fill="#d674c4" opacity="0.85"/>
<circle cx="354.95" cy="437.24" r="0.62" fill="#b74aa6" opacity="0.85"/>
<circle cx="372.15" cy="426.77" r="0.80" fill="#a94a9c" opacity="0.85"/>
<circle cx="364.00" cy="424.57" r="0.54" fill="#d674c4" opacity="0.85"/>
<circle cx="337.73" cy="408.55" r="0.69" fill="#b74aa6" opacity="0.85"/>
<circle cx="355.86" cy="432.48" r="0.47" fill="#b74aa6" opacity="0.85"/>
<circle cx="365.59" cy="394.57" r="0.47" fill="#c75cb5" opacity="0.85"/>
<circle cx="358.81" cy="419.27" r="1.00" fill="#d674c4" opacity="0.85"/>
<circle cx="373.53" cy="418.92" r="0.69" fill="#a94a9c" opacity="0.85"/>
<circle cx="352.62" cy="427.04" r="0.55" fill="#a94a9c" opacity="0.85"/>
</g>
<clipPath id="zt1_2"><path d="M362,414.5 C366,412 370,412 374,413 C378,414 381,415 385,415 L385,442 L361,442 C363,433 364,424 362,418 Z"/></clipPath>
<path d="M362,414.5 C366,412 370,412 374,413 C378,414 381,415 385,415 L385,442 L361,442 C363,433 364,424 362,418 Z" fill="#f1b2e4"/>
<g clip-path="url(#zt1_2)">
<rect x="332.9" y="390.6" width="51.10000000000002" height="50.299999999999955" filter="url(#noise)" opacity="0.40"/>
<rect x="332.9" y="390.6" width="51.10000000000002" height="50.299999999999955" filter="url(#noise2)" opacity="0.34"/>
<circle cx="362.98" cy="393.19" r="0.94" fill="#d674c4" opacity="0.85"/>
<circle cx="355.27" cy="425.19" r="0.96" fill="#d674c4" opacity="0.85"/>
<circle cx="355.48" cy="434.44" r="0.55" fill="#b74aa6" opacity="0.85"/>
<circle cx="355.50" cy="432.50" r="0.79" fill="#d674c4" opacity="0.85"/>
<circle cx="382.46" cy="399.32" r="0.74" fill="#a94a9c" opacity="0.85"/>
<circle cx="362.33" cy="435.09" r="0.72" fill="#c75cb5" opacity="0.85"/>
<circle cx="341.26" cy="401.08" r="1.05" fill="#a94a9c" opacity="0.85"/>
<circle cx="339.20" cy="403.78" r="0.65" fill="#b74aa6" opacity="0.85"/>
<circle cx="342.12" cy="436.46" r="0.59" fill="#d674c4" opacity="0.85"/>
<circle cx="369.01" cy="414.14" r="0.55" fill="#d674c4" opacity="0.85"/>
<circle cx="364.36" cy="438.64" r="0.62" fill="#b74aa6" opacity="0.85"/>
<circle cx="340.80" cy="390.92" r="0.52" fill="#d674c4" opacity="0.85"/>
<circle cx="352.32" cy="423.53" r="0.82" fill="#b74aa6" opacity="0.85"/>
<circle cx="355.36" cy="431.59" r="0.67" fill="#a94a9c" opacity="0.85"/>
<circle cx="343.45" cy="394.88" r="0.51" fill="#c75cb5" opacity="0.85"/>
<circle cx="352.70" cy="412.90" r="0.74" fill="#b74aa6" opacity="0.85"/>
<circle cx="359.57" cy="420.46" r="1.02" fill="#b74aa6" opacity="0.85"/>
<circle cx="363.07" cy="415.16" r="1.00" fill="#d674c4" opacity="0.85"/>
<circle cx="372.55" cy="399.33" r="0.56" fill="#d674c4" opacity="0.85"/>
<circle cx="372.54" cy="418.59" r="1.04" fill="#c75cb5" opacity="0.85"/>
<circle cx="361.01" cy="413.02" r="0.71" fill="#d674c4" opacity="0.85"/>
<circle cx="378.32" cy="395.71" r="0.90" fill="#c75cb5" opacity="0.85"/>
<circle cx="347.12" cy="411.19" r="0.75" fill="#d674c4" opacity="0.85"/>
<circle cx="341.29" cy="417.81" r="0.98" fill="#a94a9c" opacity="0.85"/>
<circle cx="364.25" cy="433.66" r="0.64" fill="#b74aa6" opacity="0.85"/>
<circle cx="350.78" cy="397.50" r="0.58" fill="#b74aa6" opacity="0.85"/>
<circle cx="374.34" cy="401.47" r="0.84" fill="#a94a9c" opacity="0.85"/>
<circle cx="340.86" cy="425.77" r="0.48" fill="#a94a9c" opacity="0.85"/>
<circle cx="340.65" cy="409.44" r="1.01" fill="#d674c4" opacity="0.85"/>
<circle cx="353.24" cy="410.09" r="0.63" fill="#a94a9c" opacity="0.85"/>
<circle cx="369.30" cy="422.97" r="0.64" fill="#a94a9c" opacity="0.85"/>
<circle cx="371.38" cy="399.36" r="0.56" fill="#a94a9c" opacity="0.85"/>
<circle cx="340.74" cy="395.91" r="0.77" fill="#c75cb5" opacity="0.85"/>
<circle cx="349.07" cy="432.05" r="0.88" fill="#d674c4" opacity="0.85"/>
<circle cx="349.24" cy="420.39" r="0.64" fill="#a94a9c" opacity="0.85"/>
<circle cx="368.21" cy="432.03" r="0.55" fill="#b74aa6" opacity="0.85"/>
<circle cx="360.32" cy="433.80" r="0.48" fill="#b74aa6" opacity="0.85"/>
<circle cx="349.30" cy="421.77" r="0.65" fill="#c75cb5" opacity="0.85"/>
<circle cx="381.07" cy="407.92" r="0.81" fill="#d674c4" opacity="0.85"/>
<circle cx="377.91" cy="434.50" r="0.92" fill="#b74aa6" opacity="0.85"/>
<circle cx="376.52" cy="405.12" r="0.64" fill="#b74aa6" opacity="0.85"/>
<circle cx="383.77" cy="409.94" r="0.46" fill="#b74aa6" opacity="0.85"/>
<circle cx="366.18" cy="439.31" r="0.81" fill="#d674c4" opacity="0.85"/>
<circle cx="372.76" cy="432.84" r="0.59" fill="#b74aa6" opacity="0.85"/>
<circle cx="374.95" cy="406.71" r="0.88" fill="#b74aa6" opacity="0.85"/>
<circle cx="347.91" cy="412.43" r="0.51" fill="#d674c4" opacity="0.85"/>
<circle cx="353.74" cy="398.31" r="0.90" fill="#b74aa6" opacity="0.85"/>
<circle cx="340.27" cy="412.58" r="1.02" fill="#d674c4" opacity="0.85"/>
<circle cx="343.56" cy="398.57" r="1.03" fill="#b74aa6" opacity="0.85"/>
<circle cx="340.40" cy="412.83" r="0.71" fill="#b74aa6" opacity="0.85"/>
<circle cx="376.32" cy="421.12" r="0.81" fill="#d674c4" opacity="0.85"/>
<circle cx="333.96" cy="429.79" r="0.59" fill="#b74aa6" opacity="0.85"/>
<circle cx="358.29" cy="415.18" r="0.53" fill="#c75cb5" opacity="0.85"/>
<circle cx="356.86" cy="440.69" r="0.67" fill="#b74aa6" opacity="0.85"/>
<circle cx="339.95" cy="435.55" r="1.04" fill="#d674c4" opacity="0.85"/>
<circle cx="352.50" cy="392.10" r="0.98" fill="#a94a9c" opacity="0.85"/>
<circle cx="369.65" cy="400.97" r="0.88" fill="#c75cb5" opacity="0.85"/>
<circle cx="348.44" cy="404.03" r="0.49" fill="#b74aa6" opacity="0.85"/>
<circle cx="338.31" cy="431.00" r="0.97" fill="#c75cb5" opacity="0.85"/>
<circle cx="349.86" cy="413.00" r="0.85" fill="#a94a9c" opacity="0.85"/>
<circle cx="340.19" cy="409.28" r="1.01" fill="#d674c4" opacity="0.85"/>
<circle cx="352.51" cy="412.54" r="0.57" fill="#b74aa6" opacity="0.85"/>
<circle cx="340.30" cy="402.67" r="0.85" fill="#b74aa6" opacity="0.85"/>
<circle cx="356.24" cy="421.62" r="0.48" fill="#c75cb5" opacity="0.85"/>
<circle cx="374.55" cy="431.79" r="0.48" fill="#c75cb5" opacity="0.85"/>
<circle cx="376.56" cy="404.61" r="0.97" fill="#b74aa6" opacity="0.85"/>
<circle cx="368.42" cy="423.83" r="0.92" fill="#a94a9c" opacity="0.85"/>
<circle cx="362.79" cy="392.98" r="0.53" fill="#a94a9c" opacity="0.85"/>
<circle cx="379.89" cy="408.91" r="0.66" fill="#c75cb5" opacity="0.85"/>
<circle cx="375.88" cy="402.95" r="0.71" fill="#c75cb5" opacity="0.85"/>
<circle cx="340.50" cy="391.56" r="0.54" fill="#b74aa6" opacity="0.85"/>
<circle cx="334.16" cy="422.69" r="0.49" fill="#a94a9c" opacity="0.85"/>
<circle cx="373.60" cy="439.91" r="0.51" fill="#a94a9c" opacity="0.85"/>
<circle cx="360.70" cy="415.82" r="0.77" fill="#b74aa6" opacity="0.85"/>
<circle cx="367.34" cy="438.10" r="0.60" fill="#a94a9c" opacity="0.85"/>
<circle cx="383.89" cy="409.71" r="0.71" fill="#d674c4" opacity="0.85"/>
<circle cx="336.34" cy="420.37" r="0.51" fill="#d674c4" opacity="0.85"/>
<circle cx="351.04" cy="435.02" r="0.52" fill="#b74aa6" opacity="0.85"/>
<circle cx="366.33" cy="395.00" r="1.00" fill="#a94a9c" opacity="0.85"/>
<circle cx="344.88" cy="406.06" r="0.79" fill="#c75cb5" opacity="0.85"/>
<circle cx="361.54" cy="410.32" r="0.85" fill="#c75cb5" opacity="0.85"/>
<circle cx="334.38" cy="436.32" r="0.71" fill="#a94a9c" opacity="0.85"/>
<circle cx="346.63" cy="440.69" r="0.91" fill="#d674c4" opacity="0.85"/>
<circle cx="381.40" cy="412.81" r="0.61" fill="#c75cb5" opacity="0.85"/>
<circle cx="341.78" cy="426.12" r="0.63" fill="#a94a9c" opacity="0.85"/>
<circle cx="363.04" cy="406.75" r="0.91" fill="#a94a9c" opacity="0.85"/>
<circle cx="366.96" cy="411.41" r="0.74" fill="#a94a9c" opacity="0.85"/>
<circle cx="365.11" cy="406.01" r="1.05" fill="#c75cb5" opacity="0.85"/>
<circle cx="358.12" cy="431.91" r="0.95" fill="#c75cb5" opacity="0.85"/>
<circle cx="346.14" cy="432.79" r="0.53" fill="#d674c4" opacity="0.85"/>
<circle cx="358.54" cy="397.54" r="0.96" fill="#a94a9c" opacity="0.85"/>
<circle cx="355.68" cy="427.30" r="0.78" fill="#d674c4" opacity="0.85"/>
<circle cx="339.29" cy="439.71" r="0.91" fill="#b74aa6" opacity="0.85"/>
<circle cx="364.71" cy="393.86" r="0.62" fill="#a94a9c" opacity="0.85"/>
<circle cx="365.94" cy="427.06" r="0.79" fill="#c75cb5" opacity="0.85"/>
<circle cx="338.63" cy="425.07" r="0.50" fill="#a94a9c" opacity="0.85"/>
<circle cx="358.37" cy="407.89" r="0.56" fill="#c75cb5" opacity="0.85"/>
<circle cx="335.74" cy="396.45" r="0.52" fill="#c75cb5" opacity="0.85"/>
<circle cx="359.97" cy="428.48" r="0.55" fill="#b74aa6" opacity="0.85"/>
<circle cx="340.57" cy="434.14" r="0.75" fill="#c75cb5" opacity="0.85"/>
<circle cx="378.80" cy="432.87" r="0.61" fill="#a94a9c" opacity="0.85"/>
<circle cx="339.78" cy="419.66" r="0.49" fill="#b74aa6" opacity="0.85"/>
<circle cx="363.36" cy="393.46" r="0.71" fill="#c75cb5" opacity="0.85"/>
<circle cx="382.22" cy="433.03" r="0.71" fill="#a94a9c" opacity="0.85"/>
<circle cx="374.25" cy="399.92" r="1.01" fill="#c75cb5" opacity="0.85"/>
<circle cx="383.03" cy="428.70" r="0.66" fill="#a94a9c" opacity="0.85"/>
<circle cx="351.04" cy="436.42" r="0.92" fill="#b74aa6" opacity="0.85"/>
<circle cx="344.63" cy="438.00" r="0.49" fill="#d674c4" opacity="0.85"/>
<circle cx="355.71" cy="431.55" r="0.60" fill="#b74aa6" opacity="0.85"/>
<circle cx="368.21" cy="439.87" r="0.51" fill="#a94a9c" opacity="0.85"/>
<circle cx="367.89" cy="435.80" r="0.73" fill="#c75cb5" opacity="0.85"/>
<circle cx="346.31" cy="430.49" r="1.05" fill="#d674c4" opacity="0.85"/>
<circle cx="378.80" cy="430.75" r="0.85" fill="#a94a9c" opacity="0.85"/>
<circle cx="373.14" cy="409.84" r="0.53" fill="#c75cb5" opacity="0.85"/>
<circle cx="376.70" cy="423.07" r="0.87" fill="#d674c4" opacity="0.85"/>
<circle cx="355.19" cy="416.56" r="0.60" fill="#c75cb5" opacity="0.85"/>
<circle cx="358.02" cy="396.43" r="0.67" fill="#a94a9c" opacity="0.85"/>
<circle cx="365.77" cy="420.52" r="0.69" fill="#a94a9c" opacity="0.85"/>
<circle cx="382.56" cy="432.71" r="0.83" fill="#c75cb5" opacity="0.85"/>
<circle cx="381.21" cy="397.72" r="0.49" fill="#b74aa6" opacity="0.85"/>
<circle cx="352.76" cy="412.23" r="0.57" fill="#c75cb5" opacity="0.85"/>
<circle cx="346.77" cy="420.55" r="0.76" fill="#d674c4" opacity="0.85"/>
<circle cx="372.10" cy="406.99" r="0.79" fill="#b74aa6" opacity="0.85"/>
<circle cx="360.39" cy="403.66" r="0.79" fill="#c75cb5" opacity="0.85"/>
<circle cx="370.37" cy="395.48" r="0.72" fill="#d674c4" opacity="0.85"/>
<circle cx="371.24" cy="404.89" r="0.69" fill="#c75cb5" opacity="0.85"/>
<circle cx="382.51" cy="392.00" r="0.92" fill="#b74aa6" opacity="0.85"/>
<circle cx="361.52" cy="410.29" r="0.76" fill="#b74aa6" opacity="0.85"/>
<circle cx="352.11" cy="393.71" r="0.60" fill="#c75cb5" opacity="0.85"/>
<circle cx="334.93" cy="413.45" r="0.82" fill="#d674c4" opacity="0.85"/>
<circle cx="350.66" cy="392.73" r="0.95" fill="#c75cb5" opacity="0.85"/>
<circle cx="362.78" cy="408.43" r="0.77" fill="#c75cb5" opacity="0.85"/>
<circle cx="364.62" cy="433.38" r="0.98" fill="#b74aa6" opacity="0.85"/>
<circle cx="351.05" cy="417.07" r="0.81" fill="#d674c4" opacity="0.85"/>
<circle cx="383.40" cy="422.51" r="0.64" fill="#b74aa6" opacity="0.85"/>
<circle cx="383.62" cy="432.42" r="0.88" fill="#d674c4" opacity="0.85"/>
<circle cx="362.94" cy="423.63" r="0.97" fill="#d674c4" opacity="0.85"/>
<circle cx="373.01" cy="398.02" r="0.97" fill="#b74aa6" opacity="0.85"/>
<circle cx="337.22" cy="410.65" r="0.55" fill="#b74aa6" opacity="0.85"/>
<circle cx="361.17" cy="436.59" r="0.64" fill="#c75cb5" opacity="0.85"/>
<circle cx="379.32" cy="401.21" r="0.72" fill="#c75cb5" opacity="0.85"/>
<circle cx="353.38" cy="396.27" r="0.91" fill="#d674c4" opacity="0.85"/>
<circle cx="369.76" cy="405.17" r="0.65" fill="#a94a9c" opacity="0.85"/>
<circle cx="336.40" cy="432.01" r="0.76" fill="#c75cb5" opacity="0.85"/>
<circle cx="369.42" cy="418.57" r="0.81" fill="#c75cb5" opacity="0.85"/>
<circle cx="341.46" cy="412.36" r="0.57" fill="#c75cb5" opacity="0.85"/>
<circle cx="345.34" cy="401.37" r="1.00" fill="#d674c4" opacity="0.85"/>
<circle cx="346.40" cy="408.18" r="0.48" fill="#d674c4" opacity="0.85"/>
<circle cx="377.59" cy="422.13" r="0.48" fill="#a94a9c" opacity="0.85"/>
<circle cx="336.83" cy="413.34" r="0.52" fill="#d674c4" opacity="0.85"/>
<circle cx="367.29" cy="396.19" r="0.57" fill="#c75cb5" opacity="0.85"/>
<circle cx="379.20" cy="421.95" r="0.71" fill="#c75cb5" opacity="0.85"/>
<circle cx="370.13" cy="418.74" r="0.55" fill="#a94a9c" opacity="0.85"/>
<circle cx="360.09" cy="436.70" r="0.53" fill="#b74aa6" opacity="0.85"/>
<circle cx="333.72" cy="397.50" r="0.76" fill="#c75cb5" opacity="0.85"/>
<circle cx="346.24" cy="410.64" r="0.66" fill="#d674c4" opacity="0.85"/>
<circle cx="383.32" cy="409.99" r="0.77" fill="#a94a9c" opacity="0.85"/>
<circle cx="360.15" cy="404.63" r="0.91" fill="#b74aa6" opacity="0.85"/>
<circle cx="361.66" cy="397.30" r="0.77" fill="#b74aa6" opacity="0.85"/>
<circle cx="359.33" cy="433.17" r="0.58" fill="#b74aa6" opacity="0.85"/>
<circle cx="353.18" cy="434.88" r="0.95" fill="#a94a9c" opacity="0.85"/>
<circle cx="377.82" cy="393.87" r="0.53" fill="#c75cb5" opacity="0.85"/>
<circle cx="353.89" cy="410.20" r="0.81" fill="#d674c4" opacity="0.85"/>
<circle cx="344.02" cy="405.90" r="1.02" fill="#a94a9c" opacity="0.85"/>
<circle cx="379.38" cy="391.75" r="0.56" fill="#d674c4" opacity="0.85"/>
<circle cx="359.52" cy="417.44" r="0.59" fill="#b74aa6" opacity="0.85"/>
<circle cx="343.68" cy="398.88" r="0.98" fill="#a94a9c" opacity="0.85"/>
<circle cx="333.66" cy="430.88" r="0.87" fill="#c75cb5" opacity="0.85"/>
<circle cx="354.88" cy="438.67" r="0.79" fill="#b74aa6" opacity="0.85"/>
<circle cx="374.41" cy="437.64" r="0.97" fill="#a94a9c" opacity="0.85"/>
<circle cx="336.14" cy="407.60" r="0.75" fill="#a94a9c" opacity="0.85"/>
<circle cx="366.65" cy="412.36" r="0.96" fill="#b74aa6" opacity="0.85"/>
<circle cx="355.54" cy="437.97" r="0.68" fill="#d674c4" opacity="0.85"/>
<circle cx="373.90" cy="402.11" r="0.56" fill="#c75cb5" opacity="0.85"/>
<circle cx="377.24" cy="422.29" r="0.50" fill="#d674c4" opacity="0.85"/>
<circle cx="354.34" cy="420.09" r="1.04" fill="#c75cb5" opacity="0.85"/>
<circle cx="356.42" cy="396.14" r="0.72" fill="#b74aa6" opacity="0.85"/>
<circle cx="359.06" cy="435.28" r="0.62" fill="#c75cb5" opacity="0.85"/>
<circle cx="363.02" cy="429.20" r="0.53" fill="#d674c4" opacity="0.85"/>
<circle cx="341.44" cy="425.18" r="0.89" fill="#a94a9c" opacity="0.85"/>
<circle cx="357.90" cy="409.90" r="0.52" fill="#d674c4" opacity="0.85"/>
<circle cx="346.17" cy="419.04" r="0.83" fill="#d674c4" opacity="0.85"/>
<circle cx="366.76" cy="401.61" r="0.55" fill="#c75cb5" opacity="0.85"/>
<circle cx="351.91" cy="422.63" r="0.97" fill="#a94a9c" opacity="0.85"/>
<circle cx="367.55" cy="424.03" r="0.79" fill="#c75cb5" opacity="0.85"/>
<circle cx="361.65" cy="437.53" r="0.49" fill="#c75cb5" opacity="0.85"/>
<circle cx="347.14" cy="404.12" r="0.77" fill="#b74aa6" opacity="0.85"/>
<circle cx="364.47" cy="424.87" r="0.72" fill="#c75cb5" opacity="0.85"/>
<circle cx="350.37" cy="433.24" r="0.66" fill="#b74aa6" opacity="0.85"/>
<circle cx="376.07" cy="426.45" r="0.71" fill="#c75cb5" opacity="0.85"/>
<circle cx="343.03" cy="398.30" r="0.59" fill="#b74aa6" opacity="0.85"/>
<circle cx="353.09" cy="399.36" r="0.72" fill="#c75cb5" opacity="0.85"/>
<circle cx="374.62" cy="417.09" r="0.95" fill="#c75cb5" opacity="0.85"/>
<circle cx="344.25" cy="437.75" r="0.56" fill="#a94a9c" opacity="0.85"/>
<circle cx="334.97" cy="433.01" r="0.70" fill="#a94a9c" opacity="0.85"/>
<circle cx="359.03" cy="404.27" r="0.79" fill="#d674c4" opacity="0.85"/>
<circle cx="334.12" cy="414.37" r="0.55" fill="#a94a9c" opacity="0.85"/>
<circle cx="354.90" cy="432.62" r="0.61" fill="#b74aa6" opacity="0.85"/>
<circle cx="354.00" cy="414.81" r="1.01" fill="#d674c4" opacity="0.85"/>
<circle cx="356.24" cy="410.60" r="0.62" fill="#a94a9c" opacity="0.85"/>
<circle cx="351.24" cy="418.00" r="0.61" fill="#b74aa6" opacity="0.85"/>
<circle cx="376.45" cy="394.25" r="0.55" fill="#a94a9c" opacity="0.85"/>
<circle cx="383.81" cy="430.88" r="0.74" fill="#d674c4" opacity="0.85"/>
<circle cx="341.04" cy="414.92" r="0.54" fill="#b74aa6" opacity="0.85"/>
<circle cx="352.54" cy="399.28" r="0.73" fill="#c75cb5" opacity="0.85"/>
<circle cx="370.18" cy="414.16" r="0.48" fill="#c75cb5" opacity="0.85"/>
<circle cx="335.52" cy="414.36" r="0.66" fill="#b74aa6" opacity="0.85"/>
<circle cx="355.27" cy="407.65" r="0.97" fill="#d674c4" opacity="0.85"/>
<circle cx="380.75" cy="410.17" r="0.59" fill="#c75cb5" opacity="0.85"/>
<circle cx="369.98" cy="418.82" r="0.71" fill="#a94a9c" opacity="0.85"/>
<circle cx="379.15" cy="428.09" r="0.56" fill="#d674c4" opacity="0.85"/>
<circle cx="376.69" cy="407.22" r="1.03" fill="#d674c4" opacity="0.85"/>
<circle cx="336.34" cy="420.43" r="0.80" fill="#d674c4" opacity="0.85"/>
<circle cx="382.50" cy="397.91" r="0.77" fill="#c75cb5" opacity="0.85"/>
<circle cx="357.29" cy="426.03" r="0.82" fill="#d674c4" opacity="0.85"/>
<circle cx="379.49" cy="426.38" r="0.63" fill="#b74aa6" opacity="0.85"/>
<circle cx="376.31" cy="397.56" r="0.71" fill="#a94a9c" opacity="0.85"/>
<circle cx="350.83" cy="429.84" r="0.46" fill="#c75cb5" opacity="0.85"/>
<circle cx="345.61" cy="401.34" r="0.72" fill="#a94a9c" opacity="0.85"/>
<circle cx="363.01" cy="412.03" r="1.01" fill="#d674c4" opacity="0.85"/>
<circle cx="378.91" cy="394.68" r="0.92" fill="#c75cb5" opacity="0.85"/>
<circle cx="379.79" cy="418.57" r="1.02" fill="#a94a9c" opacity="0.85"/>
<circle cx="337.54" cy="393.88" r="0.62" fill="#b74aa6" opacity="0.85"/>
<circle cx="369.71" cy="410.83" r="0.87" fill="#d674c4" opacity="0.85"/>
<circle cx="376.84" cy="424.87" r="0.97" fill="#a94a9c" opacity="0.85"/>
<circle cx="369.07" cy="413.91" r="0.89" fill="#c75cb5" opacity="0.85"/>
<circle cx="348.88" cy="425.10" r="0.83" fill="#c75cb5" opacity="0.85"/>
<circle cx="352.24" cy="393.43" r="0.91" fill="#d674c4" opacity="0.85"/>
<circle cx="377.06" cy="436.16" r="0.64" fill="#a94a9c" opacity="0.85"/>
<circle cx="333.41" cy="417.39" r="0.87" fill="#a94a9c" opacity="0.85"/>
<circle cx="371.69" cy="393.17" r="0.96" fill="#a94a9c" opacity="0.85"/>
<circle cx="368.17" cy="395.50" r="0.89" fill="#a94a9c" opacity="0.85"/>
<circle cx="376.73" cy="440.62" r="0.46" fill="#c75cb5" opacity="0.85"/>
<circle cx="380.64" cy="418.62" r="0.91" fill="#a94a9c" opacity="0.85"/>
<circle cx="350.70" cy="410.95" r="0.54" fill="#c75cb5" opacity="0.85"/>
<circle cx="380.94" cy="404.96" r="0.94" fill="#a94a9c" opacity="0.85"/>
<circle cx="341.39" cy="419.28" r="0.80" fill="#d674c4" opacity="0.85"/>
<circle cx="382.81" cy="403.49" r="0.92" fill="#c75cb5" opacity="0.85"/>
<circle cx="352.87" cy="437.89" r="1.00" fill="#a94a9c" opacity="0.85"/>
<circle cx="349.46" cy="413.40" r="0.75" fill="#b74aa6" opacity="0.85"/>
</g>
<clipPath id="zt1_3"><path d="M332,424 C343,428 353,433 366,439 L366,441.2 C353,435.5 343,431 332,426.8 Z"/></clipPath>
<path d="M332,424 C343,428 353,433 366,439 L366,441.2 C353,435.5 343,431 332,426.8 Z" fill="#eda3dc"/>
<g clip-path="url(#zt1_3)">
<rect x="332.9" y="390.6" width="51.10000000000002" height="50.299999999999955" filter="url(#noise)" opacity="0.50"/>
<rect x="332.9" y="390.6" width="51.10000000000002" height="50.299999999999955" filter="url(#noise2)" opacity="0.23"/>
<circle cx="365.72" cy="421.04" r="0.61" fill="#a94a9c" opacity="0.85"/>
<circle cx="357.90" cy="392.29" r="0.55" fill="#d674c4" opacity="0.85"/>
<circle cx="365.28" cy="404.12" r="0.52" fill="#d674c4" opacity="0.85"/>
<circle cx="382.24" cy="439.40" r="0.73" fill="#c75cb5" opacity="0.85"/>
<circle cx="340.63" cy="402.71" r="0.47" fill="#b74aa6" opacity="0.85"/>
<circle cx="336.98" cy="431.57" r="0.89" fill="#c75cb5" opacity="0.85"/>
<circle cx="362.49" cy="396.34" r="0.70" fill="#d674c4" opacity="0.85"/>
<circle cx="374.55" cy="396.34" r="1.04" fill="#a94a9c" opacity="0.85"/>
<circle cx="364.28" cy="431.91" r="0.77" fill="#b74aa6" opacity="0.85"/>
<circle cx="357.91" cy="440.10" r="0.66" fill="#b74aa6" opacity="0.85"/>
<circle cx="363.80" cy="432.18" r="0.65" fill="#b74aa6" opacity="0.85"/>
<circle cx="376.64" cy="437.42" r="1.02" fill="#c75cb5" opacity="0.85"/>
<circle cx="374.20" cy="405.58" r="0.50" fill="#a94a9c" opacity="0.85"/>
<circle cx="377.42" cy="392.99" r="0.78" fill="#d674c4" opacity="0.85"/>
<circle cx="363.12" cy="421.90" r="0.73" fill="#d674c4" opacity="0.85"/>
<circle cx="338.89" cy="439.08" r="0.63" fill="#b74aa6" opacity="0.85"/>
<circle cx="366.91" cy="396.92" r="0.67" fill="#c75cb5" opacity="0.85"/>
<circle cx="369.15" cy="395.35" r="0.94" fill="#a94a9c" opacity="0.85"/>
<circle cx="340.84" cy="396.33" r="0.91" fill="#d674c4" opacity="0.85"/>
<circle cx="343.68" cy="436.99" r="0.78" fill="#b74aa6" opacity="0.85"/>
<circle cx="380.94" cy="390.97" r="0.67" fill="#a94a9c" opacity="0.85"/>
<circle cx="339.40" cy="424.25" r="0.99" fill="#a94a9c" opacity="0.85"/>
<circle cx="355.38" cy="403.19" r="0.88" fill="#d674c4" opacity="0.85"/>
<circle cx="349.19" cy="439.74" r="0.95" fill="#b74aa6" opacity="0.85"/>
<circle cx="345.27" cy="408.06" r="1.05" fill="#c75cb5" opacity="0.85"/>
<circle cx="372.36" cy="397.67" r="0.50" fill="#a94a9c" opacity="0.85"/>
<circle cx="373.76" cy="404.48" r="0.52" fill="#b74aa6" opacity="0.85"/>
<circle cx="353.60" cy="396.37" r="0.94" fill="#a94a9c" opacity="0.85"/>
<circle cx="366.95" cy="430.71" r="0.58" fill="#b74aa6" opacity="0.85"/>
<circle cx="351.59" cy="425.98" r="0.90" fill="#d674c4" opacity="0.85"/>
<circle cx="361.87" cy="398.11" r="0.60" fill="#b74aa6" opacity="0.85"/>
<circle cx="357.54" cy="429.87" r="0.66" fill="#c75cb5" opacity="0.85"/>
<circle cx="379.37" cy="432.73" r="0.87" fill="#b74aa6" opacity="0.85"/>
<circle cx="346.16" cy="436.31" r="0.71" fill="#c75cb5" opacity="0.85"/>
<circle cx="351.76" cy="440.19" r="0.51" fill="#b74aa6" opacity="0.85"/>
<circle cx="333.13" cy="410.33" r="0.86" fill="#d674c4" opacity="0.85"/>
<circle cx="353.87" cy="440.88" r="1.02" fill="#d674c4" opacity="0.85"/>
<circle cx="371.43" cy="404.48" r="0.82" fill="#d674c4" opacity="0.85"/>
<circle cx="380.38" cy="437.04" r="0.58" fill="#a94a9c" opacity="0.85"/>
<circle cx="357.02" cy="408.01" r="0.88" fill="#d674c4" opacity="0.85"/>
<circle cx="338.33" cy="417.32" r="0.55" fill="#c75cb5" opacity="0.85"/>
<circle cx="371.44" cy="429.48" r="0.96" fill="#a94a9c" opacity="0.85"/>
<circle cx="354.53" cy="421.85" r="0.69" fill="#c75cb5" opacity="0.85"/>
<circle cx="370.25" cy="401.04" r="0.85" fill="#a94a9c" opacity="0.85"/>
<circle cx="353.02" cy="395.57" r="0.99" fill="#b74aa6" opacity="0.85"/>
<circle cx="366.60" cy="401.41" r="1.03" fill="#d674c4" opacity="0.85"/>
<circle cx="372.69" cy="433.89" r="0.92" fill="#d674c4" opacity="0.85"/>
<circle cx="345.73" cy="423.20" r="0.74" fill="#d674c4" opacity="0.85"/>
<circle cx="355.20" cy="416.83" r="0.62" fill="#b74aa6" opacity="0.85"/>
<circle cx="348.77" cy="436.81" r="0.75" fill="#d674c4" opacity="0.85"/>
<circle cx="346.40" cy="405.18" r="1.03" fill="#d674c4" opacity="0.85"/>
<circle cx="346.13" cy="434.94" r="1.01" fill="#a94a9c" opacity="0.85"/>
<circle cx="375.46" cy="415.49" r="0.99" fill="#b74aa6" opacity="0.85"/>
<circle cx="352.50" cy="395.27" r="1.03" fill="#b74aa6" opacity="0.85"/>
<circle cx="349.10" cy="416.90" r="0.47" fill="#d674c4" opacity="0.85"/>
<circle cx="373.53" cy="438.68" r="0.53" fill="#d674c4" opacity="0.85"/>
<circle cx="333.43" cy="402.74" r="0.76" fill="#d674c4" opacity="0.85"/>
<circle cx="380.81" cy="402.71" r="0.47" fill="#c75cb5" opacity="0.85"/>
<circle cx="333.87" cy="412.91" r="0.99" fill="#b74aa6" opacity="0.85"/>
<circle cx="377.91" cy="404.74" r="0.96" fill="#b74aa6" opacity="0.85"/>
<circle cx="354.81" cy="422.27" r="0.47" fill="#c75cb5" opacity="0.85"/>
<circle cx="352.85" cy="438.64" r="0.68" fill="#c75cb5" opacity="0.85"/>
<circle cx="355.19" cy="436.35" r="0.65" fill="#b74aa6" opacity="0.85"/>
<circle cx="362.94" cy="415.09" r="0.80" fill="#b74aa6" opacity="0.85"/>
<circle cx="367.35" cy="407.53" r="0.97" fill="#a94a9c" opacity="0.85"/>
<circle cx="342.06" cy="438.09" r="0.97" fill="#a94a9c" opacity="0.85"/>
<circle cx="373.91" cy="411.68" r="0.58" fill="#a94a9c" opacity="0.85"/>
<circle cx="372.65" cy="404.78" r="0.92" fill="#d674c4" opacity="0.85"/>
<circle cx="342.09" cy="403.31" r="0.87" fill="#a94a9c" opacity="0.85"/>
<circle cx="348.51" cy="405.55" r="0.74" fill="#c75cb5" opacity="0.85"/>
<circle cx="374.63" cy="418.21" r="0.48" fill="#b74aa6" opacity="0.85"/>
<circle cx="353.30" cy="391.10" r="0.45" fill="#d674c4" opacity="0.85"/>
<circle cx="352.40" cy="395.47" r="0.81" fill="#b74aa6" opacity="0.85"/>
<circle cx="343.12" cy="399.39" r="0.77" fill="#a94a9c" opacity="0.85"/>
<circle cx="369.80" cy="401.68" r="0.86" fill="#a94a9c" opacity="0.85"/>
<circle cx="367.22" cy="417.14" r="0.48" fill="#b74aa6" opacity="0.85"/>
<circle cx="379.78" cy="410.51" r="0.56" fill="#a94a9c" opacity="0.85"/>
<circle cx="344.25" cy="421.36" r="0.96" fill="#d674c4" opacity="0.85"/>
<circle cx="366.86" cy="400.25" r="0.94" fill="#d674c4" opacity="0.85"/>
<circle cx="345.54" cy="405.31" r="0.99" fill="#d674c4" opacity="0.85"/>
<circle cx="369.31" cy="426.42" r="0.67" fill="#d674c4" opacity="0.85"/>
<circle cx="369.94" cy="415.76" r="0.91" fill="#b74aa6" opacity="0.85"/>
<circle cx="342.57" cy="423.89" r="0.58" fill="#c75cb5" opacity="0.85"/>
<circle cx="341.52" cy="406.80" r="0.84" fill="#b74aa6" opacity="0.85"/>
<circle cx="334.58" cy="401.62" r="0.60" fill="#d674c4" opacity="0.85"/>
<circle cx="365.36" cy="409.49" r="0.97" fill="#c75cb5" opacity="0.85"/>
<circle cx="369.67" cy="437.84" r="1.02" fill="#d674c4" opacity="0.85"/>
<circle cx="351.63" cy="429.77" r="0.82" fill="#d674c4" opacity="0.85"/>
<circle cx="347.54" cy="404.70" r="0.74" fill="#d674c4" opacity="0.85"/>
<circle cx="340.70" cy="419.78" r="0.68" fill="#b74aa6" opacity="0.85"/>
<circle cx="336.59" cy="394.39" r="0.57" fill="#a94a9c" opacity="0.85"/>
<circle cx="377.02" cy="392.63" r="0.96" fill="#d674c4" opacity="0.85"/>
<circle cx="375.30" cy="424.73" r="0.92" fill="#a94a9c" opacity="0.85"/>
<circle cx="374.58" cy="436.26" r="0.90" fill="#a94a9c" opacity="0.85"/>
<circle cx="380.56" cy="426.83" r="0.90" fill="#b74aa6" opacity="0.85"/>
<circle cx="376.95" cy="405.15" r="0.50" fill="#c75cb5" opacity="0.85"/>
<circle cx="370.04" cy="426.11" r="0.79" fill="#d674c4" opacity="0.85"/>
<circle cx="368.94" cy="396.79" r="0.48" fill="#a94a9c" opacity="0.85"/>
<circle cx="363.97" cy="396.27" r="0.97" fill="#b74aa6" opacity="0.85"/>
<circle cx="357.31" cy="399.30" r="0.58" fill="#b74aa6" opacity="0.85"/>
<circle cx="337.80" cy="408.05" r="0.94" fill="#a94a9c" opacity="0.85"/>
<circle cx="377.17" cy="409.63" r="0.79" fill="#a94a9c" opacity="0.85"/>
<circle cx="342.31" cy="415.93" r="0.91" fill="#b74aa6" opacity="0.85"/>
<circle cx="339.01" cy="439.52" r="0.45" fill="#c75cb5" opacity="0.85"/>
<circle cx="347.49" cy="432.46" r="1.01" fill="#c75cb5" opacity="0.85"/>
<circle cx="366.45" cy="398.05" r="0.88" fill="#c75cb5" opacity="0.85"/>
<circle cx="363.02" cy="404.10" r="0.49" fill="#b74aa6" opacity="0.85"/>
<circle cx="342.78" cy="429.05" r="0.58" fill="#a94a9c" opacity="0.85"/>
<circle cx="352.96" cy="433.27" r="0.81" fill="#b74aa6" opacity="0.85"/>
<circle cx="373.95" cy="402.81" r="0.86" fill="#c75cb5" opacity="0.85"/>
<circle cx="345.40" cy="400.12" r="0.78" fill="#b74aa6" opacity="0.85"/>
<circle cx="382.27" cy="440.48" r="1.04" fill="#d674c4" opacity="0.85"/>
<circle cx="351.06" cy="404.62" r="0.71" fill="#a94a9c" opacity="0.85"/>
<circle cx="361.35" cy="419.56" r="1.01" fill="#b74aa6" opacity="0.85"/>
<circle cx="361.20" cy="396.51" r="0.89" fill="#a94a9c" opacity="0.85"/>
<circle cx="351.69" cy="412.92" r="0.65" fill="#a94a9c" opacity="0.85"/>
<circle cx="361.89" cy="399.83" r="1.04" fill="#c75cb5" opacity="0.85"/>
<circle cx="377.00" cy="413.91" r="0.79" fill="#a94a9c" opacity="0.85"/>
<circle cx="350.89" cy="413.61" r="0.77" fill="#a94a9c" opacity="0.85"/>
<circle cx="363.45" cy="396.99" r="0.62" fill="#b74aa6" opacity="0.85"/>
<circle cx="375.43" cy="395.03" r="0.96" fill="#b74aa6" opacity="0.85"/>
<circle cx="359.07" cy="424.35" r="0.75" fill="#d674c4" opacity="0.85"/>
<circle cx="336.05" cy="400.86" r="0.64" fill="#c75cb5" opacity="0.85"/>
<circle cx="348.20" cy="401.20" r="1.05" fill="#c75cb5" opacity="0.85"/>
<circle cx="356.24" cy="411.71" r="0.55" fill="#c75cb5" opacity="0.85"/>
<circle cx="335.51" cy="409.82" r="1.01" fill="#b74aa6" opacity="0.85"/>
<circle cx="333.78" cy="415.55" r="0.67" fill="#a94a9c" opacity="0.85"/>
<circle cx="376.75" cy="392.05" r="0.68" fill="#a94a9c" opacity="0.85"/>
<circle cx="345.04" cy="440.82" r="1.03" fill="#c75cb5" opacity="0.85"/>
<circle cx="366.28" cy="400.65" r="0.47" fill="#d674c4" opacity="0.85"/>
<circle cx="376.19" cy="397.38" r="0.72" fill="#b74aa6" opacity="0.85"/>
<circle cx="340.24" cy="440.58" r="0.87" fill="#a94a9c" opacity="0.85"/>
<circle cx="359.09" cy="394.17" r="0.95" fill="#a94a9c" opacity="0.85"/>
<circle cx="351.63" cy="392.49" r="0.58" fill="#a94a9c" opacity="0.85"/>
<circle cx="357.48" cy="400.54" r="0.57" fill="#b74aa6" opacity="0.85"/>
<circle cx="382.82" cy="407.63" r="1.01" fill="#d674c4" opacity="0.85"/>
<circle cx="375.10" cy="431.06" r="0.91" fill="#b74aa6" opacity="0.85"/>
<circle cx="379.24" cy="404.76" r="0.91" fill="#c75cb5" opacity="0.85"/>
<circle cx="364.74" cy="395.08" r="0.72" fill="#b74aa6" opacity="0.85"/>
<circle cx="337.01" cy="426.88" r="0.92" fill="#c75cb5" opacity="0.85"/>
<circle cx="369.43" cy="397.65" r="0.72" fill="#d674c4" opacity="0.85"/>
<circle cx="371.11" cy="435.51" r="0.95" fill="#a94a9c" opacity="0.85"/>
<circle cx="337.29" cy="410.43" r="0.62" fill="#c75cb5" opacity="0.85"/>
<circle cx="362.76" cy="409.44" r="0.51" fill="#c75cb5" opacity="0.85"/>
<circle cx="373.60" cy="428.78" r="0.87" fill="#d674c4" opacity="0.85"/>
<circle cx="348.19" cy="439.18" r="0.90" fill="#b74aa6" opacity="0.85"/>
<circle cx="379.50" cy="401.26" r="0.48" fill="#c75cb5" opacity="0.85"/>
<circle cx="333.85" cy="399.75" r="0.64" fill="#a94a9c" opacity="0.85"/>
<circle cx="369.36" cy="403.98" r="1.03" fill="#d674c4" opacity="0.85"/>
<circle cx="369.59" cy="403.17" r="0.53" fill="#c75cb5" opacity="0.85"/>
<circle cx="371.31" cy="408.08" r="0.47" fill="#a94a9c" opacity="0.85"/>
<circle cx="338.56" cy="425.42" r="0.59" fill="#b74aa6" opacity="0.85"/>
<circle cx="362.71" cy="419.12" r="0.45" fill="#c75cb5" opacity="0.85"/>
<circle cx="340.64" cy="429.89" r="1.05" fill="#b74aa6" opacity="0.85"/>
<circle cx="382.86" cy="435.06" r="1.02" fill="#c75cb5" opacity="0.85"/>
<circle cx="383.17" cy="433.13" r="1.05" fill="#b74aa6" opacity="0.85"/>
<circle cx="353.39" cy="421.34" r="0.57" fill="#d674c4" opacity="0.85"/>
<circle cx="339.89" cy="435.14" r="0.53" fill="#c75cb5" opacity="0.85"/>
<circle cx="334.61" cy="404.60" r="0.66" fill="#d674c4" opacity="0.85"/>
<circle cx="378.83" cy="425.84" r="0.49" fill="#c75cb5" opacity="0.85"/>
</g>
<clipPath id="zt1_4"><path d="M332,433 C334,436 335.5,439 336.5,442 L332,442 Z"/></clipPath>
<path d="M332,433 C334,436 335.5,439 336.5,442 L332,442 Z" fill="#e070c8"/>
<g clip-path="url(#zt1_4)">
<rect x="332.9" y="390.6" width="51.10000000000002" height="50.299999999999955" filter="url(#noise)" opacity="0.62"/>
<rect x="332.9" y="390.6" width="51.10000000000002" height="50.299999999999955" filter="url(#noise2)" opacity="0.09"/>
<circle cx="356.21" cy="426.64" r="0.64" fill="#a94a9c" opacity="0.85"/>
<circle cx="339.73" cy="412.03" r="0.92" fill="#d674c4" opacity="0.85"/>
<circle cx="350.78" cy="435.09" r="1.03" fill="#b74aa6" opacity="0.85"/>
<circle cx="333.31" cy="402.17" r="0.75" fill="#c75cb5" opacity="0.85"/>
<circle cx="372.96" cy="394.58" r="0.45" fill="#a94a9c" opacity="0.85"/>
<circle cx="373.08" cy="402.95" r="0.93" fill="#a94a9c" opacity="0.85"/>
<circle cx="370.43" cy="438.63" r="0.81" fill="#b74aa6" opacity="0.85"/>
<circle cx="376.06" cy="404.52" r="0.55" fill="#b74aa6" opacity="0.85"/>
<circle cx="378.16" cy="436.77" r="0.50" fill="#d674c4" opacity="0.85"/>
<circle cx="380.54" cy="435.64" r="0.57" fill="#b74aa6" opacity="0.85"/>
<circle cx="373.54" cy="417.58" r="0.71" fill="#c75cb5" opacity="0.85"/>
<circle cx="351.11" cy="435.51" r="0.82" fill="#b74aa6" opacity="0.85"/>
<circle cx="351.00" cy="399.89" r="0.82" fill="#a94a9c" opacity="0.85"/>
<circle cx="383.96" cy="412.30" r="0.49" fill="#c75cb5" opacity="0.85"/>
<circle cx="365.29" cy="407.11" r="0.80" fill="#d674c4" opacity="0.85"/>
<circle cx="354.89" cy="421.82" r="0.56" fill="#c75cb5" opacity="0.85"/>
<circle cx="353.94" cy="417.10" r="0.66" fill="#a94a9c" opacity="0.85"/>
<circle cx="339.00" cy="407.16" r="1.02" fill="#b74aa6" opacity="0.85"/>
<circle cx="353.90" cy="438.48" r="0.56" fill="#b74aa6" opacity="0.85"/>
<circle cx="368.94" cy="421.59" r="0.96" fill="#b74aa6" opacity="0.85"/>
<circle cx="348.74" cy="440.68" r="0.61" fill="#c75cb5" opacity="0.85"/>
<circle cx="363.02" cy="437.77" r="0.79" fill="#a94a9c" opacity="0.85"/>
<circle cx="345.56" cy="414.17" r="0.53" fill="#c75cb5" opacity="0.85"/>
<circle cx="374.04" cy="408.70" r="0.90" fill="#d674c4" opacity="0.85"/>
<circle cx="379.03" cy="419.07" r="0.86" fill="#b74aa6" opacity="0.85"/>
<circle cx="368.49" cy="402.33" r="0.49" fill="#a94a9c" opacity="0.85"/>
<circle cx="369.86" cy="433.20" r="0.49" fill="#b74aa6" opacity="0.85"/>
<circle cx="343.33" cy="391.53" r="0.59" fill="#b74aa6" opacity="0.85"/>
<circle cx="359.82" cy="423.28" r="0.55" fill="#a94a9c" opacity="0.85"/>
<circle cx="344.89" cy="401.65" r="0.84" fill="#c75cb5" opacity="0.85"/>
<circle cx="376.82" cy="395.14" r="0.54" fill="#c75cb5" opacity="0.85"/>
<circle cx="346.51" cy="408.75" r="0.51" fill="#b74aa6" opacity="0.85"/>
<circle cx="377.79" cy="411.35" r="0.78" fill="#c75cb5" opacity="0.85"/>
<circle cx="376.54" cy="413.65" r="0.64" fill="#d674c4" opacity="0.85"/>
<circle cx="348.24" cy="438.66" r="0.63" fill="#a94a9c" opacity="0.85"/>
<circle cx="352.57" cy="405.42" r="0.80" fill="#c75cb5" opacity="0.85"/>
<circle cx="368.02" cy="391.17" r="0.70" fill="#c75cb5" opacity="0.85"/>
<circle cx="343.56" cy="422.33" r="0.73" fill="#b74aa6" opacity="0.85"/>
<circle cx="336.52" cy="401.30" r="0.58" fill="#d674c4" opacity="0.85"/>
<circle cx="348.03" cy="433.98" r="0.87" fill="#a94a9c" opacity="0.85"/>
<circle cx="362.19" cy="416.22" r="0.68" fill="#a94a9c" opacity="0.85"/>
<circle cx="370.40" cy="394.31" r="0.88" fill="#d674c4" opacity="0.85"/>
<circle cx="364.68" cy="400.90" r="0.94" fill="#d674c4" opacity="0.85"/>
<circle cx="354.07" cy="399.90" r="0.68" fill="#a94a9c" opacity="0.85"/>
<circle cx="376.44" cy="413.89" r="1.00" fill="#b74aa6" opacity="0.85"/>
<circle cx="333.62" cy="404.10" r="0.99" fill="#a94a9c" opacity="0.85"/>
<circle cx="376.59" cy="428.55" r="0.58" fill="#c75cb5" opacity="0.85"/>
<circle cx="355.72" cy="401.41" r="1.01" fill="#c75cb5" opacity="0.85"/>
<circle cx="375.43" cy="439.75" r="0.71" fill="#a94a9c" opacity="0.85"/>
<circle cx="359.76" cy="430.83" r="0.48" fill="#b74aa6" opacity="0.85"/>
<circle cx="372.56" cy="428.81" r="0.84" fill="#a94a9c" opacity="0.85"/>
<circle cx="348.74" cy="414.52" r="0.87" fill="#c75cb5" opacity="0.85"/>
<circle cx="355.06" cy="424.23" r="0.71" fill="#d674c4" opacity="0.85"/>
<circle cx="351.46" cy="401.56" r="0.57" fill="#d674c4" opacity="0.85"/>
<circle cx="356.46" cy="435.49" r="1.04" fill="#d674c4" opacity="0.85"/>
<circle cx="364.76" cy="404.91" r="0.49" fill="#a94a9c" opacity="0.85"/>
<circle cx="381.05" cy="413.12" r="0.76" fill="#d674c4" opacity="0.85"/>
<circle cx="374.82" cy="432.78" r="0.60" fill="#d674c4" opacity="0.85"/>
<circle cx="340.92" cy="426.22" r="0.70" fill="#b74aa6" opacity="0.85"/>
<circle cx="334.44" cy="412.19" r="0.53" fill="#b74aa6" opacity="0.85"/>
<circle cx="337.23" cy="414.18" r="0.93" fill="#a94a9c" opacity="0.85"/>
<circle cx="380.05" cy="405.29" r="0.61" fill="#a94a9c" opacity="0.85"/>
<circle cx="347.40" cy="398.14" r="0.62" fill="#a94a9c" opacity="0.85"/>
<circle cx="367.17" cy="425.23" r="0.85" fill="#c75cb5" opacity="0.85"/>
</g>
<path d="M364,391.6 C372,394 378,397 385,400 L385,402.2 C378,399 371,396 363,393.2 Z" fill="#fdf6fc"/>
<path d="M368,418 C371,421 373,425 372,430 C370,428 368,424 367,420 Z" fill="#fdf6fc"/>
<path d="M376,425 C378,428 379,432 378,436 C376,433 375,429 375,426 Z" fill="#fdf6fc"/>
</g>
<rect x="332.90" y="390.60" width="51.10" height="50.30" fill="none" stroke="#262626" stroke-width="1.3"/>
<clipPath id="zc2"><rect x="459.60" y="390.50" width="51.40" height="50.50"/></clipPath>
<g clip-path="url(#zc2)">
<rect x="459.60" y="390.50" width="51.40" height="50.50" fill="#fdf6fc"/>
<clipPath id="zt2_0"><path d="M459,390 L482.5,390 C483,398 484,406 484,413 C478,417 470,419 459,421 Z"/></clipPath>
<path d="M459,390 L482.5,390 C483,398 484,406 484,413 C478,417 470,419 459,421 Z" fill="#f0ace2"/>
<g clip-path="url(#zt2_0)">
<rect x="459.6" y="390.5" width="51.39999999999998" height="50.5" filter="url(#noise)" opacity="0.36"/>
<rect x="459.6" y="390.5" width="51.39999999999998" height="50.5" filter="url(#noise2)" opacity="0.38"/>
<circle cx="508.74" cy="438.37" r="0.50" fill="#c75cb5" opacity="0.85"/>
<circle cx="478.16" cy="399.04" r="0.60" fill="#d674c4" opacity="0.85"/>
<circle cx="470.51" cy="392.30" r="1.05" fill="#b74aa6" opacity="0.85"/>
<circle cx="492.42" cy="431.09" r="0.78" fill="#d674c4" opacity="0.85"/>
<circle cx="482.47" cy="404.05" r="0.97" fill="#c75cb5" opacity="0.85"/>
<circle cx="478.31" cy="437.56" r="0.70" fill="#a94a9c" opacity="0.85"/>
<circle cx="505.04" cy="398.81" r="0.59" fill="#b74aa6" opacity="0.85"/>
<circle cx="460.83" cy="406.92" r="0.76" fill="#b74aa6" opacity="0.85"/>
<circle cx="478.09" cy="416.44" r="1.05" fill="#b74aa6" opacity="0.85"/>
<circle cx="482.51" cy="411.44" r="0.92" fill="#d674c4" opacity="0.85"/>
<circle cx="477.78" cy="440.04" r="0.55" fill="#a94a9c" opacity="0.85"/>
<circle cx="498.36" cy="426.62" r="0.84" fill="#a94a9c" opacity="0.85"/>
<circle cx="472.44" cy="404.59" r="0.75" fill="#a94a9c" opacity="0.85"/>
<circle cx="502.34" cy="408.37" r="0.99" fill="#a94a9c" opacity="0.85"/>
<circle cx="483.30" cy="419.17" r="0.74" fill="#a94a9c" opacity="0.85"/>
<circle cx="471.00" cy="406.90" r="0.98" fill="#b74aa6" opacity="0.85"/>
<circle cx="491.28" cy="429.54" r="0.64" fill="#a94a9c" opacity="0.85"/>
<circle cx="508.81" cy="426.16" r="0.64" fill="#a94a9c" opacity="0.85"/>
<circle cx="470.28" cy="416.35" r="0.92" fill="#c75cb5" opacity="0.85"/>
<circle cx="477.15" cy="390.93" r="1.05" fill="#b74aa6" opacity="0.85"/>
<circle cx="465.06" cy="419.51" r="0.61" fill="#c75cb5" opacity="0.85"/>
<circle cx="471.25" cy="434.71" r="0.90" fill="#c75cb5" opacity="0.85"/>
<circle cx="466.62" cy="403.92" r="1.02" fill="#b74aa6" opacity="0.85"/>
<circle cx="462.70" cy="435.85" r="0.48" fill="#c75cb5" opacity="0.85"/>
<circle cx="478.12" cy="403.10" r="0.50" fill="#c75cb5" opacity="0.85"/>
<circle cx="508.66" cy="391.78" r="0.67" fill="#c75cb5" opacity="0.85"/>
<circle cx="466.17" cy="437.77" r="0.76" fill="#b74aa6" opacity="0.85"/>
<circle cx="459.70" cy="420.27" r="0.54" fill="#b74aa6" opacity="0.85"/>
<circle cx="461.46" cy="407.88" r="0.62" fill="#c75cb5" opacity="0.85"/>
<circle cx="484.72" cy="406.07" r="0.99" fill="#c75cb5" opacity="0.85"/>
<circle cx="498.44" cy="434.05" r="0.73" fill="#b74aa6" opacity="0.85"/>
<circle cx="471.19" cy="423.87" r="0.95" fill="#d674c4" opacity="0.85"/>
<circle cx="460.84" cy="430.31" r="0.76" fill="#b74aa6" opacity="0.85"/>
<circle cx="499.75" cy="415.09" r="0.54" fill="#d674c4" opacity="0.85"/>
<circle cx="508.93" cy="403.58" r="0.84" fill="#a94a9c" opacity="0.85"/>
<circle cx="495.55" cy="438.93" r="0.60" fill="#c75cb5" opacity="0.85"/>
<circle cx="466.37" cy="399.12" r="0.83" fill="#a94a9c" opacity="0.85"/>
<circle cx="485.72" cy="440.17" r="1.05" fill="#c75cb5" opacity="0.85"/>
<circle cx="471.55" cy="412.96" r="0.50" fill="#d674c4" opacity="0.85"/>
<circle cx="471.33" cy="430.47" r="0.60" fill="#d674c4" opacity="0.85"/>
<circle cx="481.34" cy="417.07" r="0.54" fill="#c75cb5" opacity="0.85"/>
<circle cx="479.38" cy="398.59" r="0.59" fill="#c75cb5" opacity="0.85"/>
<circle cx="464.73" cy="399.68" r="0.51" fill="#b74aa6" opacity="0.85"/>
<circle cx="460.86" cy="424.31" r="0.64" fill="#a94a9c" opacity="0.85"/>
<circle cx="492.59" cy="401.23" r="0.89" fill="#b74aa6" opacity="0.85"/>
<circle cx="481.89" cy="416.33" r="0.98" fill="#c75cb5" opacity="0.85"/>
<circle cx="507.34" cy="419.86" r="0.85" fill="#c75cb5" opacity="0.85"/>
<circle cx="484.26" cy="391.48" r="0.82" fill="#c75cb5" opacity="0.85"/>
<circle cx="474.48" cy="440.17" r="0.63" fill="#d674c4" opacity="0.85"/>
<circle cx="504.54" cy="411.32" r="0.63" fill="#c75cb5" opacity="0.85"/>
<circle cx="502.81" cy="424.46" r="0.94" fill="#c75cb5" opacity="0.85"/>
<circle cx="462.68" cy="422.68" r="0.57" fill="#a94a9c" opacity="0.85"/>
<circle cx="489.86" cy="394.23" r="0.46" fill="#d674c4" opacity="0.85"/>
<circle cx="475.32" cy="427.04" r="0.90" fill="#b74aa6" opacity="0.85"/>
<circle cx="469.49" cy="419.36" r="0.88" fill="#a94a9c" opacity="0.85"/>
<circle cx="466.78" cy="407.92" r="0.60" fill="#c75cb5" opacity="0.85"/>
<circle cx="465.92" cy="421.64" r="0.83" fill="#d674c4" opacity="0.85"/>
<circle cx="508.93" cy="425.48" r="0.82" fill="#c75cb5" opacity="0.85"/>
<circle cx="483.78" cy="392.68" r="0.62" fill="#a94a9c" opacity="0.85"/>
<circle cx="508.92" cy="397.64" r="0.61" fill="#d674c4" opacity="0.85"/>
<circle cx="486.65" cy="414.62" r="1.01" fill="#a94a9c" opacity="0.85"/>
<circle cx="502.57" cy="405.49" r="0.54" fill="#b74aa6" opacity="0.85"/>
<circle cx="490.26" cy="418.20" r="0.80" fill="#c75cb5" opacity="0.85"/>
<circle cx="501.64" cy="395.35" r="0.56" fill="#d674c4" opacity="0.85"/>
<circle cx="487.63" cy="431.22" r="0.93" fill="#c75cb5" opacity="0.85"/>
<circle cx="506.44" cy="424.91" r="0.53" fill="#c75cb5" opacity="0.85"/>
<circle cx="474.83" cy="402.20" r="0.71" fill="#d674c4" opacity="0.85"/>
<circle cx="486.53" cy="396.16" r="0.51" fill="#a94a9c" opacity="0.85"/>
<circle cx="486.15" cy="426.63" r="0.55" fill="#d674c4" opacity="0.85"/>
<circle cx="467.70" cy="438.34" r="0.69" fill="#b74aa6" opacity="0.85"/>
<circle cx="510.75" cy="430.03" r="0.73" fill="#b74aa6" opacity="0.85"/>
<circle cx="496.55" cy="431.39" r="0.98" fill="#a94a9c" opacity="0.85"/>
<circle cx="468.87" cy="416.26" r="0.61" fill="#a94a9c" opacity="0.85"/>
<circle cx="472.64" cy="427.43" r="0.87" fill="#a94a9c" opacity="0.85"/>
<circle cx="483.89" cy="439.08" r="0.88" fill="#d674c4" opacity="0.85"/>
<circle cx="506.48" cy="394.61" r="0.77" fill="#b74aa6" opacity="0.85"/>
<circle cx="469.26" cy="431.72" r="1.04" fill="#a94a9c" opacity="0.85"/>
<circle cx="492.23" cy="391.09" r="0.76" fill="#a94a9c" opacity="0.85"/>
<circle cx="506.21" cy="414.05" r="0.94" fill="#b74aa6" opacity="0.85"/>
<circle cx="460.48" cy="438.13" r="0.99" fill="#a94a9c" opacity="0.85"/>
<circle cx="505.07" cy="395.57" r="0.61" fill="#b74aa6" opacity="0.85"/>
<circle cx="506.96" cy="419.80" r="0.93" fill="#a94a9c" opacity="0.85"/>
<circle cx="466.69" cy="421.42" r="0.74" fill="#a94a9c" opacity="0.85"/>
<circle cx="485.99" cy="399.27" r="1.03" fill="#b74aa6" opacity="0.85"/>
<circle cx="498.67" cy="408.19" r="0.77" fill="#a94a9c" opacity="0.85"/>
<circle cx="493.99" cy="393.80" r="1.00" fill="#a94a9c" opacity="0.85"/>
<circle cx="507.00" cy="413.69" r="0.47" fill="#a94a9c" opacity="0.85"/>
<circle cx="463.70" cy="428.57" r="0.91" fill="#b74aa6" opacity="0.85"/>
<circle cx="507.84" cy="440.89" r="0.85" fill="#d674c4" opacity="0.85"/>
<circle cx="500.07" cy="434.13" r="0.48" fill="#b74aa6" opacity="0.85"/>
<circle cx="485.27" cy="440.61" r="0.54" fill="#d674c4" opacity="0.85"/>
<circle cx="474.13" cy="414.10" r="0.67" fill="#c75cb5" opacity="0.85"/>
<circle cx="487.25" cy="409.81" r="0.57" fill="#a94a9c" opacity="0.85"/>
<circle cx="494.37" cy="415.66" r="0.74" fill="#b74aa6" opacity="0.85"/>
<circle cx="487.28" cy="436.69" r="0.60" fill="#c75cb5" opacity="0.85"/>
<circle cx="475.69" cy="407.35" r="0.84" fill="#d674c4" opacity="0.85"/>
<circle cx="479.80" cy="432.96" r="0.76" fill="#c75cb5" opacity="0.85"/>
<circle cx="470.43" cy="420.61" r="0.93" fill="#b74aa6" opacity="0.85"/>
<circle cx="491.92" cy="406.06" r="1.02" fill="#b74aa6" opacity="0.85"/>
<circle cx="488.45" cy="416.89" r="1.02" fill="#c75cb5" opacity="0.85"/>
<circle cx="465.36" cy="431.84" r="0.96" fill="#a94a9c" opacity="0.85"/>
<circle cx="470.59" cy="408.48" r="0.72" fill="#d674c4" opacity="0.85"/>
<circle cx="468.16" cy="412.82" r="0.73" fill="#d674c4" opacity="0.85"/>
<circle cx="466.48" cy="426.78" r="1.01" fill="#b74aa6" opacity="0.85"/>
<circle cx="476.37" cy="395.53" r="0.73" fill="#b74aa6" opacity="0.85"/>
<circle cx="498.27" cy="433.23" r="0.66" fill="#b74aa6" opacity="0.85"/>
<circle cx="500.47" cy="402.28" r="0.69" fill="#a94a9c" opacity="0.85"/>
<circle cx="501.93" cy="407.78" r="0.90" fill="#d674c4" opacity="0.85"/>
<circle cx="498.20" cy="434.40" r="0.77" fill="#d674c4" opacity="0.85"/>
<circle cx="492.34" cy="394.17" r="0.69" fill="#d674c4" opacity="0.85"/>
<circle cx="468.58" cy="438.86" r="0.71" fill="#d674c4" opacity="0.85"/>
<circle cx="464.11" cy="437.14" r="1.03" fill="#d674c4" opacity="0.85"/>
<circle cx="466.13" cy="391.92" r="0.55" fill="#d674c4" opacity="0.85"/>
<circle cx="463.56" cy="434.86" r="0.46" fill="#a94a9c" opacity="0.85"/>
<circle cx="476.07" cy="432.17" r="0.77" fill="#a94a9c" opacity="0.85"/>
<circle cx="483.70" cy="435.99" r="0.64" fill="#d674c4" opacity="0.85"/>
<circle cx="507.21" cy="395.30" r="0.92" fill="#b74aa6" opacity="0.85"/>
<circle cx="476.63" cy="397.64" r="0.60" fill="#d674c4" opacity="0.85"/>
<circle cx="477.21" cy="402.95" r="0.89" fill="#b74aa6" opacity="0.85"/>
<circle cx="462.01" cy="437.97" r="0.97" fill="#c75cb5" opacity="0.85"/>
<circle cx="468.72" cy="393.68" r="0.92" fill="#a94a9c" opacity="0.85"/>
<circle cx="466.43" cy="416.91" r="0.65" fill="#c75cb5" opacity="0.85"/>
<circle cx="499.08" cy="421.32" r="0.59" fill="#a94a9c" opacity="0.85"/>
<circle cx="462.38" cy="429.21" r="0.82" fill="#a94a9c" opacity="0.85"/>
<circle cx="475.89" cy="432.80" r="0.80" fill="#c75cb5" opacity="0.85"/>
<circle cx="487.28" cy="440.24" r="0.95" fill="#a94a9c" opacity="0.85"/>
<circle cx="482.97" cy="411.30" r="0.48" fill="#a94a9c" opacity="0.85"/>
<circle cx="465.16" cy="440.76" r="0.52" fill="#b74aa6" opacity="0.85"/>
<circle cx="506.96" cy="415.75" r="0.50" fill="#b74aa6" opacity="0.85"/>
<circle cx="475.32" cy="430.80" r="0.60" fill="#c75cb5" opacity="0.85"/>
<circle cx="493.97" cy="401.64" r="0.54" fill="#c75cb5" opacity="0.85"/>
<circle cx="494.03" cy="395.14" r="0.48" fill="#a94a9c" opacity="0.85"/>
<circle cx="505.79" cy="402.70" r="0.53" fill="#a94a9c" opacity="0.85"/>
<circle cx="461.16" cy="425.64" r="0.48" fill="#c75cb5" opacity="0.85"/>
<circle cx="487.67" cy="390.81" r="0.86" fill="#d674c4" opacity="0.85"/>
<circle cx="504.60" cy="397.57" r="0.45" fill="#a94a9c" opacity="0.85"/>
<circle cx="487.36" cy="402.96" r="0.58" fill="#a94a9c" opacity="0.85"/>
<circle cx="462.33" cy="401.37" r="0.65" fill="#a94a9c" opacity="0.85"/>
<circle cx="492.89" cy="410.39" r="0.76" fill="#b74aa6" opacity="0.85"/>
<circle cx="502.43" cy="398.15" r="0.55" fill="#b74aa6" opacity="0.85"/>
<circle cx="469.98" cy="407.70" r="0.71" fill="#b74aa6" opacity="0.85"/>
<circle cx="480.07" cy="430.79" r="0.79" fill="#c75cb5" opacity="0.85"/>
<circle cx="483.90" cy="404.87" r="1.04" fill="#a94a9c" opacity="0.85"/>
<circle cx="471.38" cy="426.01" r="0.47" fill="#c75cb5" opacity="0.85"/>
<circle cx="487.96" cy="400.70" r="0.68" fill="#b74aa6" opacity="0.85"/>
<circle cx="461.61" cy="397.47" r="0.90" fill="#c75cb5" opacity="0.85"/>
<circle cx="495.72" cy="414.50" r="0.89" fill="#c75cb5" opacity="0.85"/>
<circle cx="503.87" cy="401.84" r="0.81" fill="#b74aa6" opacity="0.85"/>
<circle cx="461.56" cy="400.39" r="0.53" fill="#c75cb5" opacity="0.85"/>
<circle cx="495.26" cy="436.81" r="1.04" fill="#c75cb5" opacity="0.85"/>
<circle cx="505.82" cy="413.93" r="1.03" fill="#d674c4" opacity="0.85"/>
<circle cx="467.70" cy="406.88" r="0.96" fill="#d674c4" opacity="0.85"/>
<circle cx="486.25" cy="393.91" r="0.85" fill="#a94a9c" opacity="0.85"/>
<circle cx="461.33" cy="405.52" r="0.83" fill="#c75cb5" opacity="0.85"/>
<circle cx="497.34" cy="438.19" r="0.58" fill="#c75cb5" opacity="0.85"/>
<circle cx="476.73" cy="417.67" r="0.81" fill="#a94a9c" opacity="0.85"/>
<circle cx="498.03" cy="435.54" r="0.91" fill="#a94a9c" opacity="0.85"/>
<circle cx="495.24" cy="430.20" r="0.97" fill="#a94a9c" opacity="0.85"/>
<circle cx="509.48" cy="409.83" r="0.82" fill="#d674c4" opacity="0.85"/>
<circle cx="489.45" cy="412.97" r="0.96" fill="#a94a9c" opacity="0.85"/>
<circle cx="476.96" cy="394.07" r="0.81" fill="#d674c4" opacity="0.85"/>
<circle cx="503.81" cy="401.72" r="0.86" fill="#b74aa6" opacity="0.85"/>
<circle cx="475.42" cy="400.97" r="0.51" fill="#d674c4" opacity="0.85"/>
<circle cx="500.15" cy="391.97" r="0.49" fill="#d674c4" opacity="0.85"/>
<circle cx="487.01" cy="430.52" r="0.94" fill="#d674c4" opacity="0.85"/>
<circle cx="463.30" cy="414.27" r="0.62" fill="#c75cb5" opacity="0.85"/>
<circle cx="489.12" cy="401.22" r="0.81" fill="#b74aa6" opacity="0.85"/>
<circle cx="478.91" cy="393.78" r="1.00" fill="#a94a9c" opacity="0.85"/>
<circle cx="492.76" cy="415.52" r="0.54" fill="#b74aa6" opacity="0.85"/>
<circle cx="474.98" cy="439.22" r="0.57" fill="#b74aa6" opacity="0.85"/>
</g>
<clipPath id="zt2_1"><path d="M459,421 C470,419 478,417 484,413 C482,418 480,421 476,424 C470,428 464,430 459,431 Z"/></clipPath>
<path d="M459,421 C470,419 478,417 484,413 C482,418 480,421 476,424 C470,428 464,430 459,431 Z" fill="#f6d0ee"/>
<g clip-path="url(#zt2_1)">
<rect x="459.6" y="390.5" width="51.39999999999998" height="50.5" filter="url(#noise)" opacity="0.54"/>
<rect x="459.6" y="390.5" width="51.39999999999998" height="50.5" filter="url(#noise2)" opacity="0.18"/>
<circle cx="495.77" cy="434.65" r="0.76" fill="#a94a9c" opacity="0.85"/>
<circle cx="471.66" cy="401.26" r="0.61" fill="#c75cb5" opacity="0.85"/>
<circle cx="472.42" cy="438.13" r="0.94" fill="#a94a9c" opacity="0.85"/>
<circle cx="465.74" cy="413.52" r="0.73" fill="#a94a9c" opacity="0.85"/>
<circle cx="479.13" cy="401.36" r="0.48" fill="#b74aa6" opacity="0.85"/>
<circle cx="486.58" cy="435.25" r="0.48" fill="#c75cb5" opacity="0.85"/>
<circle cx="495.94" cy="410.78" r="0.51" fill="#d674c4" opacity="0.85"/>
<circle cx="485.83" cy="416.76" r="0.80" fill="#a94a9c" opacity="0.85"/>
<circle cx="495.83" cy="427.59" r="0.62" fill="#b74aa6" opacity="0.85"/>
<circle cx="461.11" cy="392.61" r="0.57" fill="#b74aa6" opacity="0.85"/>
<circle cx="472.00" cy="392.95" r="0.84" fill="#b74aa6" opacity="0.85"/>
<circle cx="508.05" cy="395.66" r="0.86" fill="#c75cb5" opacity="0.85"/>
<circle cx="466.61" cy="426.22" r="0.64" fill="#c75cb5" opacity="0.85"/>
<circle cx="493.55" cy="414.40" r="0.91" fill="#d674c4" opacity="0.85"/>
<circle cx="494.88" cy="395.41" r="0.51" fill="#d674c4" opacity="0.85"/>
<circle cx="499.91" cy="408.85" r="0.93" fill="#d674c4" opacity="0.85"/>
<circle cx="505.65" cy="416.22" r="0.47" fill="#b74aa6" opacity="0.85"/>
<circle cx="477.10" cy="432.81" r="0.66" fill="#c75cb5" opacity="0.85"/>
<circle cx="509.71" cy="417.49" r="0.97" fill="#c75cb5" opacity="0.85"/>
<circle cx="463.54" cy="417.79" r="0.71" fill="#a94a9c" opacity="0.85"/>
<circle cx="471.93" cy="399.68" r="0.46" fill="#c75cb5" opacity="0.85"/>
<circle cx="498.66" cy="426.83" r="0.85" fill="#d674c4" opacity="0.85"/>
<circle cx="474.75" cy="436.17" r="1.03" fill="#c75cb5" opacity="0.85"/>
<circle cx="488.69" cy="437.65" r="0.69" fill="#b74aa6" opacity="0.85"/>
<circle cx="506.33" cy="396.10" r="0.60" fill="#c75cb5" opacity="0.85"/>
<circle cx="487.88" cy="395.70" r="0.50" fill="#a94a9c" opacity="0.85"/>
<circle cx="503.44" cy="419.89" r="0.48" fill="#b74aa6" opacity="0.85"/>
<circle cx="486.20" cy="417.15" r="0.71" fill="#a94a9c" opacity="0.85"/>
<circle cx="499.84" cy="398.32" r="0.73" fill="#b74aa6" opacity="0.85"/>
<circle cx="478.76" cy="439.67" r="0.76" fill="#b74aa6" opacity="0.85"/>
<circle cx="482.22" cy="412.59" r="0.55" fill="#a94a9c" opacity="0.85"/>
<circle cx="490.16" cy="396.96" r="0.54" fill="#d674c4" opacity="0.85"/>
<circle cx="472.52" cy="399.95" r="0.83" fill="#b74aa6" opacity="0.85"/>
<circle cx="488.89" cy="403.15" r="0.73" fill="#a94a9c" opacity="0.85"/>
<circle cx="469.27" cy="412.49" r="0.66" fill="#b74aa6" opacity="0.85"/>
<circle cx="492.11" cy="392.09" r="0.82" fill="#a94a9c" opacity="0.85"/>
<circle cx="461.03" cy="405.76" r="1.03" fill="#c75cb5" opacity="0.85"/>
<circle cx="487.76" cy="419.23" r="0.60" fill="#d674c4" opacity="0.85"/>
<circle cx="496.20" cy="408.93" r="0.99" fill="#a94a9c" opacity="0.85"/>
<circle cx="472.26" cy="433.30" r="0.73" fill="#b74aa6" opacity="0.85"/>
<circle cx="508.54" cy="428.62" r="0.52" fill="#a94a9c" opacity="0.85"/>
<circle cx="494.79" cy="402.91" r="0.52" fill="#a94a9c" opacity="0.85"/>
<circle cx="490.34" cy="422.02" r="0.50" fill="#a94a9c" opacity="0.85"/>
<circle cx="497.73" cy="432.57" r="0.82" fill="#a94a9c" opacity="0.85"/>
<circle cx="498.96" cy="425.65" r="1.00" fill="#d674c4" opacity="0.85"/>
<circle cx="488.23" cy="398.86" r="0.85" fill="#b74aa6" opacity="0.85"/>
<circle cx="492.97" cy="411.13" r="0.87" fill="#a94a9c" opacity="0.85"/>
<circle cx="496.71" cy="399.22" r="1.00" fill="#d674c4" opacity="0.85"/>
<circle cx="488.92" cy="410.95" r="0.85" fill="#d674c4" opacity="0.85"/>
<circle cx="493.90" cy="410.74" r="0.57" fill="#c75cb5" opacity="0.85"/>
<circle cx="464.81" cy="391.04" r="0.64" fill="#d674c4" opacity="0.85"/>
<circle cx="475.88" cy="411.00" r="0.92" fill="#d674c4" opacity="0.85"/>
<circle cx="486.68" cy="414.75" r="0.72" fill="#b74aa6" opacity="0.85"/>
<circle cx="464.45" cy="391.43" r="0.63" fill="#c75cb5" opacity="0.85"/>
<circle cx="466.80" cy="426.21" r="0.65" fill="#c75cb5" opacity="0.85"/>
<circle cx="484.19" cy="435.83" r="0.98" fill="#c75cb5" opacity="0.85"/>
<circle cx="492.44" cy="419.54" r="0.89" fill="#b74aa6" opacity="0.85"/>
<circle cx="476.44" cy="407.37" r="0.79" fill="#a94a9c" opacity="0.85"/>
<circle cx="496.93" cy="414.00" r="0.50" fill="#d674c4" opacity="0.85"/>
<circle cx="470.58" cy="409.03" r="0.96" fill="#d674c4" opacity="0.85"/>
<circle cx="510.03" cy="399.65" r="0.77" fill="#b74aa6" opacity="0.85"/>
<circle cx="492.95" cy="422.04" r="0.80" fill="#b74aa6" opacity="0.85"/>
<circle cx="471.84" cy="434.07" r="0.76" fill="#b74aa6" opacity="0.85"/>
<circle cx="467.91" cy="410.99" r="0.89" fill="#a94a9c" opacity="0.85"/>
<circle cx="492.98" cy="424.68" r="0.96" fill="#b74aa6" opacity="0.85"/>
<circle cx="491.22" cy="430.45" r="1.00" fill="#b74aa6" opacity="0.85"/>
<circle cx="510.65" cy="401.47" r="0.72" fill="#c75cb5" opacity="0.85"/>
<circle cx="492.42" cy="427.93" r="0.69" fill="#d674c4" opacity="0.85"/>
<circle cx="502.61" cy="391.03" r="0.63" fill="#c75cb5" opacity="0.85"/>
<circle cx="488.95" cy="414.37" r="0.50" fill="#c75cb5" opacity="0.85"/>
<circle cx="483.39" cy="397.72" r="1.00" fill="#a94a9c" opacity="0.85"/>
<circle cx="492.53" cy="403.98" r="0.77" fill="#a94a9c" opacity="0.85"/>
<circle cx="506.47" cy="435.78" r="0.62" fill="#d674c4" opacity="0.85"/>
<circle cx="461.00" cy="435.46" r="0.50" fill="#b74aa6" opacity="0.85"/>
<circle cx="506.44" cy="399.91" r="0.73" fill="#d674c4" opacity="0.85"/>
<circle cx="469.78" cy="392.48" r="0.73" fill="#d674c4" opacity="0.85"/>
<circle cx="462.81" cy="440.14" r="0.83" fill="#d674c4" opacity="0.85"/>
<circle cx="500.94" cy="423.07" r="0.54" fill="#b74aa6" opacity="0.85"/>
<circle cx="506.99" cy="391.96" r="0.61" fill="#c75cb5" opacity="0.85"/>
<circle cx="478.77" cy="394.12" r="0.66" fill="#b74aa6" opacity="0.85"/>
</g>
<clipPath id="zt2_2"><path d="M489.5,390 L512,390 L512,442 L487,442 C484,438 481,432 481,426 C481,420 484,416 486.5,413 C487.5,406 488.5,398 489.5,390 Z"/></clipPath>
<path d="M489.5,390 L512,390 L512,442 L487,442 C484,438 481,432 481,426 C481,420 484,416 486.5,413 C487.5,406 488.5,398 489.5,390 Z" fill="#f0aee2"/>
<g clip-path="url(#zt2_2)">
<rect x="459.6" y="390.5" width="51.39999999999998" height="50.5" filter="url(#noise)" opacity="0.34"/>
<rect x="459.6" y="390.5" width="51.39999999999998" height="50.5" filter="url(#noise2)" opacity="0.41"/>
<circle cx="508.80" cy="427.50" r="0.64" fill="#b74aa6" opacity="0.85"/>
<circle cx="498.71" cy="428.49" r="0.83" fill="#d674c4" opacity="0.85"/>
<circle cx="496.58" cy="433.99" r="0.53" fill="#c75cb5" opacity="0.85"/>
<circle cx="497.53" cy="440.05" r="0.74" fill="#d674c4" opacity="0.85"/>
<circle cx="474.76" cy="393.72" r="1.03" fill="#b74aa6" opacity="0.85"/>
<circle cx="465.50" cy="431.95" r="0.66" fill="#b74aa6" opacity="0.85"/>
<circle cx="503.08" cy="398.37" r="0.92" fill="#d674c4" opacity="0.85"/>
<circle cx="494.47" cy="437.06" r="0.50" fill="#b74aa6" opacity="0.85"/>
<circle cx="507.40" cy="419.37" r="0.93" fill="#b74aa6" opacity="0.85"/>
<circle cx="510.43" cy="434.69" r="0.58" fill="#a94a9c" opacity="0.85"/>
<circle cx="492.98" cy="392.39" r="0.71" fill="#d674c4" opacity="0.85"/>
<circle cx="485.17" cy="418.79" r="0.77" fill="#b74aa6" opacity="0.85"/>
<circle cx="465.64" cy="434.07" r="0.86" fill="#b74aa6" opacity="0.85"/>
<circle cx="479.03" cy="411.76" r="0.83" fill="#b74aa6" opacity="0.85"/>
<circle cx="491.23" cy="425.91" r="0.50" fill="#c75cb5" opacity="0.85"/>
<circle cx="502.47" cy="426.89" r="0.57" fill="#b74aa6" opacity="0.85"/>
<circle cx="509.99" cy="424.57" r="0.77" fill="#c75cb5" opacity="0.85"/>
<circle cx="475.72" cy="415.88" r="0.86" fill="#b74aa6" opacity="0.85"/>
<circle cx="494.20" cy="413.53" r="0.59" fill="#d674c4" opacity="0.85"/>
<circle cx="477.30" cy="410.38" r="0.90" fill="#c75cb5" opacity="0.85"/>
<circle cx="472.92" cy="418.51" r="0.70" fill="#d674c4" opacity="0.85"/>
<circle cx="461.83" cy="398.95" r="1.01" fill="#b74aa6" opacity="0.85"/>
<circle cx="502.31" cy="399.16" r="1.05" fill="#b74aa6" opacity="0.85"/>
<circle cx="492.75" cy="429.08" r="0.45" fill="#a94a9c" opacity="0.85"/>
<circle cx="481.30" cy="425.31" r="0.56" fill="#c75cb5" opacity="0.85"/>
<circle cx="459.69" cy="430.64" r="0.94" fill="#a94a9c" opacity="0.85"/>
<circle cx="503.16" cy="399.31" r="0.94" fill="#d674c4" opacity="0.85"/>
<circle cx="488.88" cy="439.23" r="0.64" fill="#d674c4" opacity="0.85"/>
<circle cx="481.00" cy="414.92" r="0.91" fill="#a94a9c" opacity="0.85"/>
<circle cx="510.25" cy="399.25" r="0.63" fill="#a94a9c" opacity="0.85"/>
<circle cx="489.23" cy="417.12" r="0.77" fill="#d674c4" opacity="0.85"/>
<circle cx="488.55" cy="403.40" r="0.98" fill="#a94a9c" opacity="0.85"/>
<circle cx="483.25" cy="395.03" r="0.76" fill="#a94a9c" opacity="0.85"/>
<circle cx="473.91" cy="439.26" r="0.94" fill="#d674c4" opacity="0.85"/>
<circle cx="497.36" cy="440.18" r="0.53" fill="#a94a9c" opacity="0.85"/>
<circle cx="485.84" cy="400.15" r="0.99" fill="#a94a9c" opacity="0.85"/>
<circle cx="467.96" cy="394.05" r="0.53" fill="#a94a9c" opacity="0.85"/>
<circle cx="486.09" cy="427.71" r="0.58" fill="#b74aa6" opacity="0.85"/>
<circle cx="500.05" cy="392.65" r="0.99" fill="#c75cb5" opacity="0.85"/>
<circle cx="487.69" cy="405.78" r="0.89" fill="#b74aa6" opacity="0.85"/>
<circle cx="500.28" cy="435.75" r="0.79" fill="#b74aa6" opacity="0.85"/>
<circle cx="501.97" cy="415.85" r="0.78" fill="#d674c4" opacity="0.85"/>
<circle cx="490.72" cy="398.49" r="0.76" fill="#a94a9c" opacity="0.85"/>
<circle cx="496.48" cy="393.32" r="0.57" fill="#a94a9c" opacity="0.85"/>
<circle cx="476.25" cy="405.27" r="0.73" fill="#c75cb5" opacity="0.85"/>
<circle cx="469.07" cy="392.91" r="0.60" fill="#d674c4" opacity="0.85"/>
<circle cx="497.83" cy="403.85" r="0.48" fill="#d674c4" opacity="0.85"/>
<circle cx="476.10" cy="411.60" r="0.56" fill="#b74aa6" opacity="0.85"/>
<circle cx="495.05" cy="414.78" r="0.87" fill="#a94a9c" opacity="0.85"/>
<circle cx="474.85" cy="423.69" r="0.91" fill="#b74aa6" opacity="0.85"/>
<circle cx="462.40" cy="435.86" r="1.03" fill="#c75cb5" opacity="0.85"/>
<circle cx="489.48" cy="391.57" r="0.58" fill="#d674c4" opacity="0.85"/>
<circle cx="494.55" cy="419.08" r="0.71" fill="#a94a9c" opacity="0.85"/>
<circle cx="494.03" cy="429.57" r="0.51" fill="#d674c4" opacity="0.85"/>
<circle cx="459.97" cy="400.87" r="0.54" fill="#c75cb5" opacity="0.85"/>
<circle cx="474.78" cy="396.56" r="1.01" fill="#c75cb5" opacity="0.85"/>
<circle cx="505.80" cy="395.87" r="0.70" fill="#b74aa6" opacity="0.85"/>
<circle cx="471.75" cy="435.25" r="0.78" fill="#a94a9c" opacity="0.85"/>
<circle cx="461.29" cy="404.47" r="0.80" fill="#b74aa6" opacity="0.85"/>
<circle cx="462.02" cy="431.86" r="0.86" fill="#b74aa6" opacity="0.85"/>
<circle cx="468.64" cy="436.04" r="0.55" fill="#c75cb5" opacity="0.85"/>
<circle cx="465.94" cy="400.60" r="0.62" fill="#b74aa6" opacity="0.85"/>
<circle cx="495.14" cy="434.76" r="0.83" fill="#b74aa6" opacity="0.85"/>
<circle cx="488.90" cy="438.91" r="0.67" fill="#c75cb5" opacity="0.85"/>
<circle cx="495.17" cy="401.11" r="0.62" fill="#a94a9c" opacity="0.85"/>
<circle cx="463.94" cy="431.86" r="0.84" fill="#d674c4" opacity="0.85"/>
<circle cx="474.61" cy="429.65" r="1.05" fill="#d674c4" opacity="0.85"/>
<circle cx="461.78" cy="406.18" r="1.05" fill="#c75cb5" opacity="0.85"/>
<circle cx="485.35" cy="397.57" r="0.62" fill="#d674c4" opacity="0.85"/>
<circle cx="506.22" cy="411.83" r="0.98" fill="#a94a9c" opacity="0.85"/>
<circle cx="501.38" cy="438.56" r="0.84" fill="#b74aa6" opacity="0.85"/>
<circle cx="471.57" cy="422.02" r="0.49" fill="#b74aa6" opacity="0.85"/>
<circle cx="463.77" cy="397.73" r="0.54" fill="#c75cb5" opacity="0.85"/>
<circle cx="469.38" cy="409.44" r="0.71" fill="#b74aa6" opacity="0.85"/>
<circle cx="469.92" cy="407.57" r="0.71" fill="#d674c4" opacity="0.85"/>
<circle cx="472.31" cy="403.57" r="1.00" fill="#d674c4" opacity="0.85"/>
<circle cx="497.13" cy="432.34" r="0.52" fill="#c75cb5" opacity="0.85"/>
<circle cx="474.70" cy="430.36" r="0.57" fill="#b74aa6" opacity="0.85"/>
<circle cx="502.74" cy="392.14" r="0.68" fill="#c75cb5" opacity="0.85"/>
<circle cx="480.97" cy="437.83" r="0.83" fill="#a94a9c" opacity="0.85"/>
<circle cx="508.33" cy="428.49" r="0.55" fill="#c75cb5" opacity="0.85"/>
<circle cx="506.40" cy="436.91" r="0.50" fill="#b74aa6" opacity="0.85"/>
<circle cx="496.30" cy="416.73" r="0.52" fill="#d674c4" opacity="0.85"/>
<circle cx="510.03" cy="399.70" r="0.57" fill="#d674c4" opacity="0.85"/>
<circle cx="490.86" cy="399.42" r="1.00" fill="#c75cb5" opacity="0.85"/>
<circle cx="493.94" cy="436.23" r="0.73" fill="#a94a9c" opacity="0.85"/>
<circle cx="492.72" cy="420.11" r="0.94" fill="#b74aa6" opacity="0.85"/>
<circle cx="476.65" cy="394.13" r="0.92" fill="#d674c4" opacity="0.85"/>
<circle cx="509.74" cy="396.37" r="0.50" fill="#b74aa6" opacity="0.85"/>
<circle cx="510.56" cy="404.48" r="1.05" fill="#a94a9c" opacity="0.85"/>
<circle cx="473.64" cy="421.95" r="0.68" fill="#d674c4" opacity="0.85"/>
<circle cx="489.77" cy="401.84" r="0.72" fill="#a94a9c" opacity="0.85"/>
<circle cx="484.59" cy="423.63" r="0.88" fill="#d674c4" opacity="0.85"/>
<circle cx="462.68" cy="392.62" r="0.89" fill="#a94a9c" opacity="0.85"/>
<circle cx="493.87" cy="426.34" r="0.94" fill="#b74aa6" opacity="0.85"/>
<circle cx="480.55" cy="423.01" r="0.92" fill="#c75cb5" opacity="0.85"/>
<circle cx="501.29" cy="439.34" r="0.52" fill="#d674c4" opacity="0.85"/>
<circle cx="474.41" cy="428.37" r="1.04" fill="#a94a9c" opacity="0.85"/>
<circle cx="498.38" cy="434.95" r="0.98" fill="#b74aa6" opacity="0.85"/>
<circle cx="472.10" cy="396.48" r="0.62" fill="#c75cb5" opacity="0.85"/>
<circle cx="495.58" cy="410.19" r="0.80" fill="#a94a9c" opacity="0.85"/>
<circle cx="461.24" cy="425.14" r="0.49" fill="#c75cb5" opacity="0.85"/>
<circle cx="470.24" cy="432.15" r="0.77" fill="#d674c4" opacity="0.85"/>
<circle cx="502.55" cy="398.43" r="0.85" fill="#d674c4" opacity="0.85"/>
<circle cx="495.86" cy="440.66" r="0.51" fill="#b74aa6" opacity="0.85"/>
<circle cx="474.38" cy="390.71" r="0.91" fill="#b74aa6" opacity="0.85"/>
<circle cx="462.58" cy="401.87" r="0.86" fill="#b74aa6" opacity="0.85"/>
<circle cx="504.91" cy="428.37" r="1.03" fill="#a94a9c" opacity="0.85"/>
<circle cx="508.43" cy="392.45" r="0.96" fill="#a94a9c" opacity="0.85"/>
<circle cx="491.65" cy="438.23" r="0.94" fill="#b74aa6" opacity="0.85"/>
<circle cx="464.67" cy="413.79" r="0.78" fill="#b74aa6" opacity="0.85"/>
<circle cx="474.99" cy="438.16" r="0.76" fill="#c75cb5" opacity="0.85"/>
<circle cx="461.02" cy="427.17" r="0.82" fill="#c75cb5" opacity="0.85"/>
<circle cx="490.87" cy="422.20" r="0.64" fill="#a94a9c" opacity="0.85"/>
<circle cx="490.41" cy="419.64" r="0.49" fill="#b74aa6" opacity="0.85"/>
<circle cx="472.44" cy="420.09" r="0.87" fill="#d674c4" opacity="0.85"/>
<circle cx="462.39" cy="431.29" r="0.97" fill="#b74aa6" opacity="0.85"/>
<circle cx="462.13" cy="408.75" r="0.91" fill="#c75cb5" opacity="0.85"/>
<circle cx="484.57" cy="421.05" r="0.81" fill="#c75cb5" opacity="0.85"/>
<circle cx="481.01" cy="406.75" r="0.51" fill="#b74aa6" opacity="0.85"/>
<circle cx="502.91" cy="403.23" r="0.88" fill="#a94a9c" opacity="0.85"/>
<circle cx="494.53" cy="414.00" r="0.65" fill="#b74aa6" opacity="0.85"/>
<circle cx="459.79" cy="433.35" r="0.69" fill="#c75cb5" opacity="0.85"/>
<circle cx="481.51" cy="421.44" r="0.70" fill="#d674c4" opacity="0.85"/>
<circle cx="505.95" cy="390.76" r="0.46" fill="#c75cb5" opacity="0.85"/>
<circle cx="467.94" cy="423.09" r="0.58" fill="#b74aa6" opacity="0.85"/>
<circle cx="501.80" cy="435.32" r="0.63" fill="#d674c4" opacity="0.85"/>
<circle cx="506.29" cy="393.00" r="0.86" fill="#d674c4" opacity="0.85"/>
<circle cx="474.98" cy="437.96" r="0.60" fill="#b74aa6" opacity="0.85"/>
<circle cx="484.80" cy="418.29" r="0.63" fill="#d674c4" opacity="0.85"/>
<circle cx="476.33" cy="429.11" r="0.71" fill="#a94a9c" opacity="0.85"/>
<circle cx="479.50" cy="410.45" r="0.51" fill="#b74aa6" opacity="0.85"/>
<circle cx="479.83" cy="429.18" r="0.90" fill="#c75cb5" opacity="0.85"/>
<circle cx="480.25" cy="421.71" r="1.00" fill="#d674c4" opacity="0.85"/>
<circle cx="510.41" cy="414.89" r="0.95" fill="#a94a9c" opacity="0.85"/>
<circle cx="478.11" cy="411.76" r="0.81" fill="#b74aa6" opacity="0.85"/>
<circle cx="463.87" cy="399.21" r="0.88" fill="#d674c4" opacity="0.85"/>
<circle cx="474.60" cy="439.27" r="0.84" fill="#c75cb5" opacity="0.85"/>
<circle cx="499.60" cy="410.55" r="0.95" fill="#b74aa6" opacity="0.85"/>
<circle cx="481.75" cy="416.07" r="0.69" fill="#a94a9c" opacity="0.85"/>
<circle cx="459.63" cy="399.69" r="0.45" fill="#d674c4" opacity="0.85"/>
<circle cx="460.73" cy="399.79" r="0.79" fill="#d674c4" opacity="0.85"/>
<circle cx="498.53" cy="425.64" r="0.80" fill="#a94a9c" opacity="0.85"/>
<circle cx="460.72" cy="395.67" r="0.84" fill="#a94a9c" opacity="0.85"/>
<circle cx="479.11" cy="397.49" r="1.04" fill="#b74aa6" opacity="0.85"/>
<circle cx="509.18" cy="424.48" r="0.95" fill="#a94a9c" opacity="0.85"/>
<circle cx="477.11" cy="401.13" r="0.86" fill="#b74aa6" opacity="0.85"/>
<circle cx="492.49" cy="413.82" r="0.87" fill="#a94a9c" opacity="0.85"/>
<circle cx="501.46" cy="436.69" r="0.73" fill="#a94a9c" opacity="0.85"/>
<circle cx="491.98" cy="432.26" r="0.58" fill="#d674c4" opacity="0.85"/>
<circle cx="483.99" cy="436.47" r="0.47" fill="#a94a9c" opacity="0.85"/>
<circle cx="486.82" cy="436.46" r="0.58" fill="#d674c4" opacity="0.85"/>
<circle cx="506.87" cy="422.53" r="0.50" fill="#c75cb5" opacity="0.85"/>
<circle cx="502.68" cy="437.10" r="0.66" fill="#b74aa6" opacity="0.85"/>
<circle cx="501.04" cy="401.85" r="0.91" fill="#b74aa6" opacity="0.85"/>
<circle cx="491.92" cy="395.69" r="0.77" fill="#d674c4" opacity="0.85"/>
<circle cx="476.95" cy="428.69" r="0.59" fill="#b74aa6" opacity="0.85"/>
<circle cx="475.11" cy="415.06" r="0.72" fill="#a94a9c" opacity="0.85"/>
<circle cx="495.26" cy="416.38" r="1.01" fill="#d674c4" opacity="0.85"/>
<circle cx="483.06" cy="391.94" r="0.92" fill="#a94a9c" opacity="0.85"/>
<circle cx="480.08" cy="436.92" r="0.81" fill="#b74aa6" opacity="0.85"/>
<circle cx="486.33" cy="404.87" r="0.99" fill="#b74aa6" opacity="0.85"/>
<circle cx="478.37" cy="411.66" r="0.55" fill="#c75cb5" opacity="0.85"/>
<circle cx="478.65" cy="431.69" r="0.80" fill="#b74aa6" opacity="0.85"/>
<circle cx="481.82" cy="417.84" r="0.86" fill="#d674c4" opacity="0.85"/>
<circle cx="499.49" cy="406.11" r="0.83" fill="#b74aa6" opacity="0.85"/>
<circle cx="463.45" cy="424.96" r="0.45" fill="#a94a9c" opacity="0.85"/>
<circle cx="487.55" cy="440.67" r="0.78" fill="#c75cb5" opacity="0.85"/>
<circle cx="477.26" cy="410.47" r="0.97" fill="#d674c4" opacity="0.85"/>
<circle cx="476.24" cy="419.91" r="0.86" fill="#c75cb5" opacity="0.85"/>
<circle cx="489.62" cy="413.99" r="0.68" fill="#c75cb5" opacity="0.85"/>
<circle cx="497.64" cy="435.92" r="0.85" fill="#b74aa6" opacity="0.85"/>
<circle cx="482.97" cy="407.79" r="0.63" fill="#c75cb5" opacity="0.85"/>
<circle cx="464.52" cy="412.42" r="0.57" fill="#c75cb5" opacity="0.85"/>
<circle cx="479.17" cy="411.77" r="0.94" fill="#b74aa6" opacity="0.85"/>
<circle cx="492.07" cy="401.47" r="0.96" fill="#b74aa6" opacity="0.85"/>
<circle cx="463.77" cy="435.45" r="0.58" fill="#b74aa6" opacity="0.85"/>
<circle cx="495.10" cy="408.59" r="1.00" fill="#d674c4" opacity="0.85"/>
<circle cx="482.57" cy="422.65" r="0.78" fill="#d674c4" opacity="0.85"/>
<circle cx="502.38" cy="391.86" r="0.65" fill="#b74aa6" opacity="0.85"/>
</g>
<clipPath id="zt2_3"><path d="M459,433.5 C468,434 476,437 482,442 L459,442 Z"/></clipPath>
<path d="M459,433.5 C468,434 476,437 482,442 L459,442 Z" fill="#f6d2ef"/>
<g clip-path="url(#zt2_3)">
<rect x="459.6" y="390.5" width="51.39999999999998" height="50.5" filter="url(#noise)" opacity="0.56"/>
<rect x="459.6" y="390.5" width="51.39999999999998" height="50.5" filter="url(#noise2)" opacity="0.16"/>
<circle cx="472.13" cy="432.34" r="0.91" fill="#b74aa6" opacity="0.85"/>
<circle cx="496.00" cy="405.06" r="0.85" fill="#d674c4" opacity="0.85"/>
<circle cx="482.06" cy="423.83" r="1.05" fill="#a94a9c" opacity="0.85"/>
<circle cx="508.91" cy="407.27" r="1.01" fill="#c75cb5" opacity="0.85"/>
<circle cx="507.95" cy="425.64" r="0.81" fill="#a94a9c" opacity="0.85"/>
<circle cx="461.47" cy="411.10" r="1.01" fill="#a94a9c" opacity="0.85"/>
<circle cx="509.84" cy="439.63" r="0.50" fill="#c75cb5" opacity="0.85"/>
<circle cx="483.52" cy="425.69" r="1.04" fill="#b74aa6" opacity="0.85"/>
<circle cx="497.63" cy="410.37" r="0.81" fill="#d674c4" opacity="0.85"/>
<circle cx="490.11" cy="428.51" r="0.80" fill="#a94a9c" opacity="0.85"/>
<circle cx="480.93" cy="425.89" r="1.00" fill="#b74aa6" opacity="0.85"/>
<circle cx="486.83" cy="397.98" r="0.83" fill="#b74aa6" opacity="0.85"/>
<circle cx="464.95" cy="392.96" r="0.69" fill="#c75cb5" opacity="0.85"/>
<circle cx="501.66" cy="399.19" r="0.53" fill="#a94a9c" opacity="0.85"/>
<circle cx="459.82" cy="410.90" r="0.56" fill="#b74aa6" opacity="0.85"/>
<circle cx="488.43" cy="429.52" r="0.52" fill="#c75cb5" opacity="0.85"/>
<circle cx="470.34" cy="426.00" r="0.66" fill="#c75cb5" opacity="0.85"/>
<circle cx="499.81" cy="407.47" r="0.65" fill="#b74aa6" opacity="0.85"/>
<circle cx="461.61" cy="426.61" r="0.53" fill="#b74aa6" opacity="0.85"/>
<circle cx="471.81" cy="427.76" r="0.48" fill="#a94a9c" opacity="0.85"/>
<circle cx="485.68" cy="405.81" r="0.76" fill="#a94a9c" opacity="0.85"/>
<circle cx="461.27" cy="431.90" r="0.50" fill="#b74aa6" opacity="0.85"/>
<circle cx="461.20" cy="429.96" r="0.90" fill="#c75cb5" opacity="0.85"/>
<circle cx="465.70" cy="409.84" r="0.51" fill="#a94a9c" opacity="0.85"/>
<circle cx="483.43" cy="394.08" r="0.54" fill="#b74aa6" opacity="0.85"/>
<circle cx="484.21" cy="430.14" r="0.82" fill="#d674c4" opacity="0.85"/>
<circle cx="484.15" cy="429.27" r="0.82" fill="#b74aa6" opacity="0.85"/>
<circle cx="474.83" cy="437.04" r="0.63" fill="#a94a9c" opacity="0.85"/>
<circle cx="463.02" cy="391.67" r="0.90" fill="#a94a9c" opacity="0.85"/>
<circle cx="476.03" cy="405.98" r="0.57" fill="#c75cb5" opacity="0.85"/>
<circle cx="506.92" cy="408.54" r="1.04" fill="#d674c4" opacity="0.85"/>
<circle cx="500.59" cy="395.16" r="0.94" fill="#c75cb5" opacity="0.85"/>
<circle cx="467.24" cy="430.58" r="0.45" fill="#b74aa6" opacity="0.85"/>
<circle cx="504.75" cy="405.01" r="0.88" fill="#b74aa6" opacity="0.85"/>
<circle cx="479.31" cy="431.57" r="0.75" fill="#d674c4" opacity="0.85"/>
<circle cx="483.17" cy="398.94" r="0.91" fill="#c75cb5" opacity="0.85"/>
<circle cx="471.96" cy="426.95" r="0.56" fill="#d674c4" opacity="0.85"/>
<circle cx="508.40" cy="413.54" r="0.62" fill="#c75cb5" opacity="0.85"/>
<circle cx="510.43" cy="436.94" r="0.49" fill="#b74aa6" opacity="0.85"/>
<circle cx="477.25" cy="414.57" r="0.85" fill="#c75cb5" opacity="0.85"/>
<circle cx="492.55" cy="408.77" r="0.76" fill="#a94a9c" opacity="0.85"/>
<circle cx="467.04" cy="420.00" r="0.87" fill="#d674c4" opacity="0.85"/>
<circle cx="489.96" cy="404.16" r="0.54" fill="#d674c4" opacity="0.85"/>
<circle cx="499.52" cy="432.11" r="0.69" fill="#b74aa6" opacity="0.85"/>
<circle cx="504.51" cy="396.70" r="0.69" fill="#d674c4" opacity="0.85"/>
<circle cx="508.74" cy="403.33" r="0.47" fill="#a94a9c" opacity="0.85"/>
<circle cx="479.92" cy="393.95" r="0.53" fill="#a94a9c" opacity="0.85"/>
<circle cx="501.92" cy="396.60" r="0.78" fill="#a94a9c" opacity="0.85"/>
<circle cx="473.12" cy="416.90" r="0.94" fill="#a94a9c" opacity="0.85"/>
<circle cx="491.83" cy="427.95" r="0.98" fill="#c75cb5" opacity="0.85"/>
<circle cx="469.88" cy="396.93" r="0.96" fill="#a94a9c" opacity="0.85"/>
<circle cx="472.19" cy="427.17" r="0.83" fill="#b74aa6" opacity="0.85"/>
<circle cx="486.58" cy="429.28" r="0.81" fill="#d674c4" opacity="0.85"/>
<circle cx="502.27" cy="400.91" r="0.58" fill="#a94a9c" opacity="0.85"/>
<circle cx="505.40" cy="414.94" r="0.54" fill="#c75cb5" opacity="0.85"/>
<circle cx="462.23" cy="403.18" r="0.99" fill="#c75cb5" opacity="0.85"/>
<circle cx="488.62" cy="416.87" r="0.71" fill="#a94a9c" opacity="0.85"/>
<circle cx="498.89" cy="422.38" r="0.66" fill="#c75cb5" opacity="0.85"/>
<circle cx="494.24" cy="408.01" r="0.46" fill="#d674c4" opacity="0.85"/>
<circle cx="477.32" cy="391.35" r="0.72" fill="#b74aa6" opacity="0.85"/>
<circle cx="499.17" cy="413.39" r="0.65" fill="#a94a9c" opacity="0.85"/>
<circle cx="482.32" cy="429.27" r="0.87" fill="#d674c4" opacity="0.85"/>
<circle cx="490.19" cy="404.12" r="0.63" fill="#a94a9c" opacity="0.85"/>
<circle cx="473.64" cy="440.88" r="0.99" fill="#a94a9c" opacity="0.85"/>
<circle cx="500.74" cy="423.78" r="0.95" fill="#c75cb5" opacity="0.85"/>
<circle cx="494.64" cy="405.86" r="0.67" fill="#a94a9c" opacity="0.85"/>
<circle cx="485.01" cy="428.69" r="0.86" fill="#d674c4" opacity="0.85"/>
<circle cx="483.55" cy="396.59" r="0.63" fill="#d674c4" opacity="0.85"/>
<circle cx="504.45" cy="421.09" r="0.99" fill="#c75cb5" opacity="0.85"/>
<circle cx="490.53" cy="427.17" r="0.90" fill="#c75cb5" opacity="0.85"/>
</g>
<path d="M459,435.5 C464,436.5 469,439 472,442 L459,442 Z" fill="#e25fc0"/>
</g>
<rect x="459.60" y="390.50" width="51.40" height="50.50" fill="none" stroke="#262626" stroke-width="1.3"/>
<rect x="312.30" y="403.40" width="6.00" height="6.00" fill="none" stroke="#262626" stroke-width="1.3"/>
<rect x="442.40" y="404.50" width="6.40" height="5.90" fill="none" stroke="#262626" stroke-width="1.3"/>
<path d="M322.3,406.3 H329" stroke="#111" stroke-width="1.3"/><path d="M326.6,402.9 L331.2,406.3 L326.6,409.7 L327.8,406.3 Z" fill="#111" stroke="#111" stroke-width="0.6" stroke-linejoin="round"/>
<path d="M450.2,407.5 H456.5" stroke="#111" stroke-width="1.3"/><path d="M454.6,404.3 L458.6,407.5 L454.6,410.7 L455.8,407.5 Z" fill="#111" stroke="#111" stroke-width="0.6" stroke-linejoin="round"/>
<line x1="54.60" y1="512.40" x2="54.60" y2="649.10" stroke="#111" stroke-width="1.3" />
<line x1="54.00" y1="648.80" x2="488.50" y2="648.80" stroke="#111" stroke-width="1.4" />
<line x1="51.40" y1="648.40" x2="54.60" y2="648.40" stroke="#111" stroke-width="1" />
<text x="47.60" y="651.64" font-size="9" text-anchor="end" font-weight="normal" font-style="normal" fill="#222" textLength="8.7" lengthAdjust="spacingAndGlyphs" >75</text>
<line x1="51.40" y1="622.00" x2="54.60" y2="622.00" stroke="#111" stroke-width="1" />
<text x="47.60" y="625.24" font-size="9" text-anchor="end" font-weight="normal" font-style="normal" fill="#222" textLength="13" lengthAdjust="spacingAndGlyphs" >100</text>
<line x1="51.40" y1="595.60" x2="54.60" y2="595.60" stroke="#111" stroke-width="1" />
<text x="47.60" y="598.84" font-size="9" text-anchor="end" font-weight="normal" font-style="normal" fill="#222" textLength="13" lengthAdjust="spacingAndGlyphs" >125</text>
<line x1="51.40" y1="569.20" x2="54.60" y2="569.20" stroke="#111" stroke-width="1" />
<text x="47.60" y="572.44" font-size="9" text-anchor="end" font-weight="normal" font-style="normal" fill="#222" textLength="13" lengthAdjust="spacingAndGlyphs" >150</text>
<line x1="51.40" y1="542.80" x2="54.60" y2="542.80" stroke="#111" stroke-width="1" />
<text x="47.60" y="546.04" font-size="9" text-anchor="end" font-weight="normal" font-style="normal" fill="#222" textLength="13" lengthAdjust="spacingAndGlyphs" >175</text>
<line x1="51.40" y1="516.40" x2="54.60" y2="516.40" stroke="#111" stroke-width="1" />
<text x="47.60" y="519.64" font-size="9" text-anchor="end" font-weight="normal" font-style="normal" fill="#222" textLength="13" lengthAdjust="spacingAndGlyphs" >200</text>
<line x1="73.90" y1="648.40" x2="73.90" y2="652.20" stroke="#111" stroke-width="1.2" />
<text x="73.90" y="661.06" font-size="8.5" text-anchor="middle" font-weight="normal" font-style="normal" fill="#222" textLength="29.1" lengthAdjust="spacingAndGlyphs" >Baseline</text>
<line x1="118.00" y1="648.40" x2="118.00" y2="652.20" stroke="#111" stroke-width="1.2" />
<text x="118.00" y="661.06" font-size="8.5" text-anchor="middle" font-weight="normal" font-style="normal" fill="#222" >1</text>
<line x1="162.00" y1="648.40" x2="162.00" y2="652.20" stroke="#111" stroke-width="1.2" />
<text x="162.00" y="661.06" font-size="8.5" text-anchor="middle" font-weight="normal" font-style="normal" fill="#222" >2</text>
<line x1="206.10" y1="648.40" x2="206.10" y2="652.20" stroke="#111" stroke-width="1.2" />
<text x="206.10" y="661.06" font-size="8.5" text-anchor="middle" font-weight="normal" font-style="normal" fill="#222" >3</text>
<line x1="250.10" y1="648.40" x2="250.10" y2="652.20" stroke="#111" stroke-width="1.2" />
<text x="250.10" y="661.06" font-size="8.5" text-anchor="middle" font-weight="normal" font-style="normal" fill="#222" >4</text>
<line x1="294.10" y1="648.40" x2="294.10" y2="652.20" stroke="#111" stroke-width="1.2" />
<text x="294.10" y="661.06" font-size="8.5" text-anchor="middle" font-weight="normal" font-style="normal" fill="#222" >7</text>
<line x1="338.20" y1="648.40" x2="338.20" y2="652.20" stroke="#111" stroke-width="1.2" />
<text x="338.20" y="661.06" font-size="8.5" text-anchor="middle" font-weight="normal" font-style="normal" fill="#222" >8</text>
<line x1="382.30" y1="648.40" x2="382.30" y2="652.20" stroke="#111" stroke-width="1.2" />
<text x="382.30" y="661.06" font-size="8.5" text-anchor="middle" font-weight="normal" font-style="normal" fill="#222" >9</text>
<line x1="426.30" y1="648.40" x2="426.30" y2="652.20" stroke="#111" stroke-width="1.2" />
<text x="426.30" y="661.06" font-size="8.5" text-anchor="middle" font-weight="normal" font-style="normal" fill="#222" >10</text>
<line x1="470.30" y1="648.40" x2="470.30" y2="652.20" stroke="#111" stroke-width="1.2" />
<text x="470.30" y="661.06" font-size="8.5" text-anchor="middle" font-weight="normal" font-style="normal" fill="#222" >11</text>
<text x="271.3" y="673.7" font-size="10" text-anchor="middle" fill="#222" textLength="38.4" lengthAdjust="spacingAndGlyphs">Time (days)</text>
<text transform="translate(29.9,580) rotate(-90)" x="0" y="0" font-size="10" text-anchor="middle" fill="#222" textLength="51.5" lengthAdjust="spacingAndGlyphs">Paw edema (%)</text>
<text x="339.5" y="510.1" font-size="10" fill="#222" textLength="50.2" lengthAdjust="spacingAndGlyphs"><tspan font-style="italic">Tet2</tspan> KO vs. WT |</text>
<text x="392.3" y="510.1" font-size="9" fill="#222" textLength="34.5" lengthAdjust="spacingAndGlyphs"><tspan font-style="italic">P</tspan>=0.035</text>
<text x="428.5" y="510.1" font-size="10" fill="#222" textLength="58" lengthAdjust="spacingAndGlyphs">(Two-way ANOVA)</text>
<circle cx="62.00" cy="520.60" r="1.85" fill="#c8102e"/>
<text x="66.60" y="523.84" font-size="9" text-anchor="start" font-weight="normal" font-style="normal" fill="#222" textLength="11.6" lengthAdjust="spacingAndGlyphs" >WT</text>
<circle cx="62.00" cy="530.40" r="1.85" fill="#13508a"/>
<text x="66.6" y="533.6" font-size="9" fill="#222" textLength="26.7" lengthAdjust="spacingAndGlyphs"><tspan font-style="italic">Tet2</tspan> KO</text>
<line x1="58.80" y1="618.80" x2="72.80" y2="618.80" stroke="#111" stroke-width="1.15" />
<line x1="75.20" y1="620.30" x2="89.20" y2="620.30" stroke="#111" stroke-width="1.15" />
<circle cx="65.70" cy="611.30" r="1.85" fill="#c8102e"/>
<circle cx="67.30" cy="614.50" r="1.85" fill="#c8102e"/>
<circle cx="61.60" cy="616.70" r="1.85" fill="#c8102e"/>
<circle cx="63.80" cy="619.00" r="1.85" fill="#c8102e"/>
<circle cx="68.20" cy="619.80" r="1.85" fill="#c8102e"/>
<circle cx="70.40" cy="620.30" r="1.85" fill="#c8102e"/>
<circle cx="66.50" cy="622.00" r="1.85" fill="#c8102e"/>
<circle cx="65.60" cy="626.40" r="1.85" fill="#c8102e"/>
<circle cx="62.50" cy="618.00" r="1.85" fill="#c8102e"/>
<circle cx="64.50" cy="615.50" r="1.85" fill="#c8102e"/>
<circle cx="82.30" cy="607.20" r="1.85" fill="#13508a"/>
<circle cx="80.50" cy="612.50" r="1.85" fill="#13508a"/>
<circle cx="83.60" cy="615.00" r="1.85" fill="#13508a"/>
<circle cx="81.40" cy="617.20" r="1.85" fill="#13508a"/>
<circle cx="84.00" cy="618.00" r="1.85" fill="#13508a"/>
<circle cx="78.30" cy="624.20" r="1.85" fill="#13508a"/>
<circle cx="81.40" cy="624.70" r="1.85" fill="#13508a"/>
<circle cx="84.50" cy="624.20" r="1.85" fill="#13508a"/>
<circle cx="87.20" cy="624.20" r="1.85" fill="#13508a"/>
<circle cx="82.30" cy="630.80" r="1.85" fill="#13508a"/>
<line x1="102.90" y1="567.00" x2="116.90" y2="567.00" stroke="#111" stroke-width="1.15" />
<line x1="119.30" y1="546.40" x2="133.30" y2="546.40" stroke="#111" stroke-width="1.15" />
<circle cx="109.90" cy="538.60" r="1.85" fill="#c8102e"/>
<circle cx="109.70" cy="550.30" r="1.85" fill="#c8102e"/>
<circle cx="109.90" cy="556.80" r="1.85" fill="#c8102e"/>
<circle cx="114.20" cy="555.50" r="1.85" fill="#c8102e"/>
<circle cx="109.90" cy="563.20" r="1.85" fill="#c8102e"/>
<circle cx="109.70" cy="574.90" r="1.85" fill="#c8102e"/>
<circle cx="105.60" cy="580.90" r="1.85" fill="#c8102e"/>
<circle cx="109.70" cy="582.00" r="1.85" fill="#c8102e"/>
<circle cx="113.80" cy="583.20" r="1.85" fill="#c8102e"/>
<circle cx="105.80" cy="584.40" r="1.85" fill="#c8102e"/>
<circle cx="126.10" cy="533.20" r="1.85" fill="#13508a"/>
<circle cx="130.50" cy="532.30" r="1.85" fill="#13508a"/>
<circle cx="130.50" cy="538.80" r="1.85" fill="#13508a"/>
<circle cx="126.10" cy="540.90" r="1.85" fill="#13508a"/>
<circle cx="130.50" cy="542.00" r="1.85" fill="#13508a"/>
<circle cx="122.00" cy="543.70" r="1.85" fill="#13508a"/>
<circle cx="126.10" cy="545.30" r="1.85" fill="#13508a"/>
<circle cx="122.00" cy="564.00" r="1.85" fill="#13508a"/>
<circle cx="126.10" cy="561.70" r="1.85" fill="#13508a"/>
<circle cx="130.30" cy="561.70" r="1.85" fill="#13508a"/>
<line x1="146.90" y1="568.50" x2="160.90" y2="568.50" stroke="#111" stroke-width="1.15" />
<line x1="163.30" y1="557.00" x2="177.30" y2="557.00" stroke="#111" stroke-width="1.15" />
<circle cx="153.90" cy="542.90" r="1.85" fill="#c8102e"/>
<circle cx="153.90" cy="555.30" r="1.85" fill="#c8102e"/>
<circle cx="153.90" cy="560.90" r="1.85" fill="#c8102e"/>
<circle cx="149.40" cy="567.60" r="1.85" fill="#c8102e"/>
<circle cx="158.00" cy="566.40" r="1.85" fill="#c8102e"/>
<circle cx="150.00" cy="573.70" r="1.85" fill="#c8102e"/>
<circle cx="150.00" cy="577.00" r="1.85" fill="#c8102e"/>
<circle cx="157.60" cy="575.60" r="1.85" fill="#c8102e"/>
<circle cx="153.70" cy="581.90" r="1.85" fill="#c8102e"/>
<circle cx="153.70" cy="586.40" r="1.85" fill="#c8102e"/>
<circle cx="170.30" cy="540.80" r="1.85" fill="#13508a"/>
<circle cx="170.30" cy="547.40" r="1.85" fill="#13508a"/>
<circle cx="166.40" cy="555.30" r="1.85" fill="#13508a"/>
<circle cx="170.30" cy="555.30" r="1.85" fill="#13508a"/>
<circle cx="174.30" cy="555.30" r="1.85" fill="#13508a"/>
<circle cx="168.20" cy="558.60" r="1.85" fill="#13508a"/>
<circle cx="172.30" cy="558.60" r="1.85" fill="#13508a"/>
<circle cx="170.30" cy="563.10" r="1.85" fill="#13508a"/>
<circle cx="168.20" cy="567.40" r="1.85" fill="#13508a"/>
<circle cx="172.50" cy="567.40" r="1.85" fill="#13508a"/>
<line x1="191.00" y1="575.50" x2="205.00" y2="575.50" stroke="#111" stroke-width="1.15" />
<line x1="207.40" y1="560.60" x2="221.40" y2="560.60" stroke="#111" stroke-width="1.15" />
<circle cx="193.50" cy="555.80" r="1.85" fill="#c8102e"/>
<circle cx="201.80" cy="554.40" r="1.85" fill="#c8102e"/>
<circle cx="197.70" cy="563.80" r="1.85" fill="#c8102e"/>
<circle cx="193.50" cy="571.40" r="1.85" fill="#c8102e"/>
<circle cx="193.50" cy="574.70" r="1.85" fill="#c8102e"/>
<circle cx="201.80" cy="573.50" r="1.85" fill="#c8102e"/>
<circle cx="201.80" cy="583.20" r="1.85" fill="#c8102e"/>
<circle cx="193.50" cy="585.20" r="1.85" fill="#c8102e"/>
<circle cx="197.70" cy="590.50" r="1.85" fill="#c8102e"/>
<circle cx="197.70" cy="597.90" r="1.85" fill="#c8102e"/>
<circle cx="214.10" cy="545.30" r="1.85" fill="#13508a"/>
<circle cx="214.10" cy="548.20" r="1.85" fill="#13508a"/>
<circle cx="209.90" cy="549.30" r="1.85" fill="#13508a"/>
<circle cx="218.50" cy="550.30" r="1.85" fill="#13508a"/>
<circle cx="209.90" cy="563.00" r="1.85" fill="#13508a"/>
<circle cx="214.40" cy="565.30" r="1.85" fill="#13508a"/>
<circle cx="218.50" cy="565.30" r="1.85" fill="#13508a"/>
<circle cx="214.40" cy="569.70" r="1.85" fill="#13508a"/>
<circle cx="214.40" cy="574.70" r="1.85" fill="#13508a"/>
<circle cx="214.40" cy="579.10" r="1.85" fill="#13508a"/>
<line x1="235.00" y1="577.60" x2="249.00" y2="577.60" stroke="#111" stroke-width="1.15" />
<line x1="251.40" y1="561.40" x2="265.40" y2="561.40" stroke="#111" stroke-width="1.15" />
<circle cx="241.50" cy="548.80" r="1.85" fill="#c8102e"/>
<circle cx="239.60" cy="565.00" r="1.85" fill="#c8102e"/>
<circle cx="243.90" cy="565.00" r="1.85" fill="#c8102e"/>
<circle cx="241.50" cy="571.40" r="1.85" fill="#c8102e"/>
<circle cx="241.50" cy="577.00" r="1.85" fill="#c8102e"/>
<circle cx="241.50" cy="582.10" r="1.85" fill="#c8102e"/>
<circle cx="237.30" cy="586.40" r="1.85" fill="#c8102e"/>
<circle cx="241.50" cy="588.20" r="1.85" fill="#c8102e"/>
<circle cx="245.90" cy="587.30" r="1.85" fill="#c8102e"/>
<circle cx="241.50" cy="602.30" r="1.85" fill="#c8102e"/>
<circle cx="256.40" cy="538.50" r="1.85" fill="#13508a"/>
<circle cx="260.30" cy="537.30" r="1.85" fill="#13508a"/>
<circle cx="258.20" cy="550.60" r="1.85" fill="#13508a"/>
<circle cx="256.40" cy="557.80" r="1.85" fill="#13508a"/>
<circle cx="260.30" cy="556.80" r="1.85" fill="#13508a"/>
<circle cx="254.10" cy="568.20" r="1.85" fill="#13508a"/>
<circle cx="258.40" cy="567.00" r="1.85" fill="#13508a"/>
<circle cx="262.70" cy="569.40" r="1.85" fill="#13508a"/>
<circle cx="258.20" cy="572.50" r="1.85" fill="#13508a"/>
<circle cx="258.20" cy="596.00" r="1.85" fill="#13508a"/>
<line x1="279.00" y1="590.30" x2="293.00" y2="590.30" stroke="#111" stroke-width="1.15" />
<line x1="295.40" y1="574.70" x2="309.40" y2="574.70" stroke="#111" stroke-width="1.15" />
<circle cx="285.60" cy="564.90" r="1.85" fill="#c8102e"/>
<circle cx="281.50" cy="578.80" r="1.85" fill="#c8102e"/>
<circle cx="289.70" cy="576.70" r="1.85" fill="#c8102e"/>
<circle cx="285.60" cy="588.20" r="1.85" fill="#c8102e"/>
<circle cx="281.50" cy="591.50" r="1.85" fill="#c8102e"/>
<circle cx="289.70" cy="592.60" r="1.85" fill="#c8102e"/>
<circle cx="285.60" cy="597.00" r="1.85" fill="#c8102e"/>
<circle cx="281.80" cy="603.50" r="1.85" fill="#c8102e"/>
<circle cx="281.80" cy="607.60" r="1.85" fill="#c8102e"/>
<circle cx="289.50" cy="605.20" r="1.85" fill="#c8102e"/>
<circle cx="297.90" cy="553.50" r="1.85" fill="#13508a"/>
<circle cx="306.10" cy="551.40" r="1.85" fill="#13508a"/>
<circle cx="306.10" cy="554.70" r="1.85" fill="#13508a"/>
<circle cx="297.90" cy="573.30" r="1.85" fill="#13508a"/>
<circle cx="306.10" cy="574.90" r="1.85" fill="#13508a"/>
<circle cx="302.00" cy="578.80" r="1.85" fill="#13508a"/>
<circle cx="302.00" cy="582.10" r="1.85" fill="#13508a"/>
<circle cx="302.00" cy="586.40" r="1.85" fill="#13508a"/>
<circle cx="302.00" cy="595.00" r="1.85" fill="#13508a"/>
<circle cx="302.00" cy="598.20" r="1.85" fill="#13508a"/>
<line x1="323.10" y1="598.80" x2="337.10" y2="598.80" stroke="#111" stroke-width="1.15" />
<line x1="339.50" y1="573.70" x2="353.50" y2="573.70" stroke="#111" stroke-width="1.15" />
<circle cx="329.80" cy="558.60" r="1.85" fill="#c8102e"/>
<circle cx="329.80" cy="591.50" r="1.85" fill="#c8102e"/>
<circle cx="333.50" cy="594.60" r="1.85" fill="#c8102e"/>
<circle cx="325.30" cy="597.00" r="1.85" fill="#c8102e"/>
<circle cx="329.80" cy="600.20" r="1.85" fill="#c8102e"/>
<circle cx="325.30" cy="603.20" r="1.85" fill="#c8102e"/>
<circle cx="333.90" cy="604.40" r="1.85" fill="#c8102e"/>
<circle cx="329.80" cy="607.30" r="1.85" fill="#c8102e"/>
<circle cx="329.80" cy="611.70" r="1.85" fill="#c8102e"/>
<circle cx="329.80" cy="617.20" r="1.85" fill="#c8102e"/>
<circle cx="346.10" cy="548.20" r="1.85" fill="#13508a"/>
<circle cx="346.10" cy="554.70" r="1.85" fill="#13508a"/>
<circle cx="347.60" cy="558.60" r="1.85" fill="#13508a"/>
<circle cx="344.40" cy="560.90" r="1.85" fill="#13508a"/>
<circle cx="346.10" cy="573.70" r="1.85" fill="#13508a"/>
<circle cx="346.10" cy="583.20" r="1.85" fill="#13508a"/>
<circle cx="341.70" cy="589.40" r="1.85" fill="#13508a"/>
<circle cx="344.70" cy="588.40" r="1.85" fill="#13508a"/>
<circle cx="347.60" cy="589.40" r="1.85" fill="#13508a"/>
<circle cx="350.60" cy="589.60" r="1.85" fill="#13508a"/>
<line x1="367.20" y1="599.60" x2="381.20" y2="599.60" stroke="#111" stroke-width="1.15" />
<line x1="383.60" y1="579.90" x2="397.60" y2="579.90" stroke="#111" stroke-width="1.15" />
<circle cx="373.50" cy="577.90" r="1.85" fill="#c8102e"/>
<circle cx="377.70" cy="589.40" r="1.85" fill="#c8102e"/>
<circle cx="369.30" cy="591.80" r="1.85" fill="#c8102e"/>
<circle cx="377.70" cy="593.50" r="1.85" fill="#c8102e"/>
<circle cx="373.50" cy="597.90" r="1.85" fill="#c8102e"/>
<circle cx="373.50" cy="602.30" r="1.85" fill="#c8102e"/>
<circle cx="377.70" cy="606.30" r="1.85" fill="#c8102e"/>
<circle cx="369.30" cy="608.80" r="1.85" fill="#c8102e"/>
<circle cx="377.70" cy="611.00" r="1.85" fill="#c8102e"/>
<circle cx="373.50" cy="619.00" r="1.85" fill="#c8102e"/>
<circle cx="389.90" cy="555.30" r="1.85" fill="#13508a"/>
<circle cx="389.90" cy="560.60" r="1.85" fill="#13508a"/>
<circle cx="389.90" cy="569.10" r="1.85" fill="#13508a"/>
<circle cx="389.90" cy="572.60" r="1.85" fill="#13508a"/>
<circle cx="385.90" cy="582.00" r="1.85" fill="#13508a"/>
<circle cx="394.10" cy="582.00" r="1.85" fill="#13508a"/>
<circle cx="389.90" cy="587.30" r="1.85" fill="#13508a"/>
<circle cx="389.90" cy="591.80" r="1.85" fill="#13508a"/>
<circle cx="389.90" cy="596.10" r="1.85" fill="#13508a"/>
<circle cx="389.90" cy="602.30" r="1.85" fill="#13508a"/>
<line x1="411.20" y1="605.20" x2="425.20" y2="605.20" stroke="#111" stroke-width="1.15" />
<line x1="427.60" y1="586.40" x2="441.60" y2="586.40" stroke="#111" stroke-width="1.15" />
<circle cx="417.40" cy="577.90" r="1.85" fill="#c8102e"/>
<circle cx="417.40" cy="591.50" r="1.85" fill="#c8102e"/>
<circle cx="417.40" cy="595.80" r="1.85" fill="#c8102e"/>
<circle cx="417.40" cy="602.10" r="1.85" fill="#c8102e"/>
<circle cx="413.30" cy="604.70" r="1.85" fill="#c8102e"/>
<circle cx="421.80" cy="604.10" r="1.85" fill="#c8102e"/>
<circle cx="421.80" cy="612.60" r="1.85" fill="#c8102e"/>
<circle cx="417.40" cy="615.00" r="1.85" fill="#c8102e"/>
<circle cx="415.50" cy="625.20" r="1.85" fill="#c8102e"/>
<circle cx="419.80" cy="625.20" r="1.85" fill="#c8102e"/>
<circle cx="434.10" cy="569.20" r="1.85" fill="#13508a"/>
<circle cx="431.70" cy="577.90" r="1.85" fill="#13508a"/>
<circle cx="436.40" cy="577.90" r="1.85" fill="#13508a"/>
<circle cx="434.10" cy="582.90" r="1.85" fill="#13508a"/>
<circle cx="429.70" cy="587.30" r="1.85" fill="#13508a"/>
<circle cx="434.10" cy="588.20" r="1.85" fill="#13508a"/>
<circle cx="438.20" cy="587.30" r="1.85" fill="#13508a"/>
<circle cx="434.10" cy="592.50" r="1.85" fill="#13508a"/>
<circle cx="434.10" cy="597.00" r="1.85" fill="#13508a"/>
<circle cx="434.10" cy="605.20" r="1.85" fill="#13508a"/>
<line x1="455.20" y1="608.40" x2="469.20" y2="608.40" stroke="#111" stroke-width="1.15" />
<line x1="471.60" y1="591.40" x2="485.60" y2="591.40" stroke="#111" stroke-width="1.15" />
<circle cx="457.40" cy="585.00" r="1.85" fill="#c8102e"/>
<circle cx="465.30" cy="585.00" r="1.85" fill="#c8102e"/>
<circle cx="461.40" cy="598.80" r="1.85" fill="#c8102e"/>
<circle cx="457.40" cy="604.10" r="1.85" fill="#c8102e"/>
<circle cx="457.40" cy="607.60" r="1.85" fill="#c8102e"/>
<circle cx="465.50" cy="606.40" r="1.85" fill="#c8102e"/>
<circle cx="461.40" cy="617.20" r="1.85" fill="#c8102e"/>
<circle cx="457.40" cy="623.50" r="1.85" fill="#c8102e"/>
<circle cx="465.30" cy="624.40" r="1.85" fill="#c8102e"/>
<circle cx="461.40" cy="634.30" r="1.85" fill="#c8102e"/>
<circle cx="477.60" cy="576.50" r="1.85" fill="#13508a"/>
<circle cx="477.60" cy="583.30" r="1.85" fill="#13508a"/>
<circle cx="473.50" cy="590.30" r="1.85" fill="#13508a"/>
<circle cx="476.80" cy="589.40" r="1.85" fill="#13508a"/>
<circle cx="480.00" cy="590.80" r="1.85" fill="#13508a"/>
<circle cx="482.30" cy="592.00" r="1.85" fill="#13508a"/>
<circle cx="477.60" cy="594.70" r="1.85" fill="#13508a"/>
<circle cx="477.60" cy="598.80" r="1.85" fill="#13508a"/>
<circle cx="477.60" cy="604.40" r="1.85" fill="#13508a"/>
<circle cx="475.30" cy="591.10" r="1.85" fill="#13508a"/>
</svg></body></html>
